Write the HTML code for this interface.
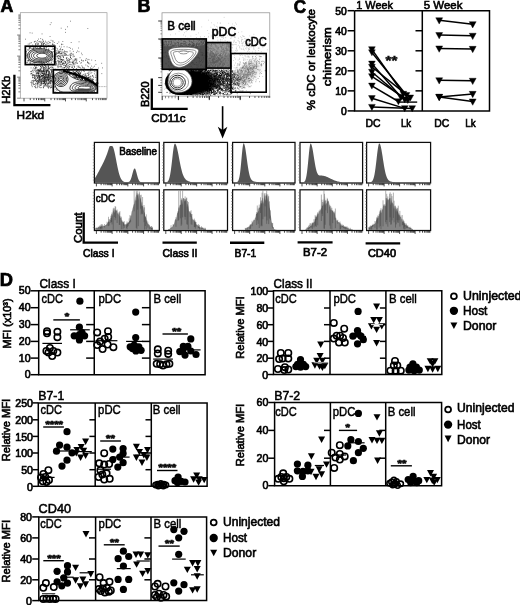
<!DOCTYPE html>
<html><head><meta charset="utf-8"><title>Figure</title>
<style>
html,body{margin:0;padding:0;background:#fff;}
body{width:520px;height:605px;overflow:hidden;}
svg{display:block;font-family:"Liberation Sans",sans-serif;}
</style></head><body>
<svg width="520" height="605" viewBox="0 0 520 605">
<defs><filter id="soft" x="0" y="0" width="520" height="605" filterUnits="userSpaceOnUse"><feGaussianBlur stdDeviation="0.5"/></filter></defs>
<g filter="url(#soft)">
<rect x="-5" y="-5" width="530" height="615" fill="#fff"/>
<defs>
<filter id="b06" x="-20%" y="-20%" width="140%" height="140%"><feGaussianBlur stdDeviation="0.6"/></filter>
<filter id="b15" x="-30%" y="-30%" width="160%" height="160%"><feGaussianBlur stdDeviation="1.5"/></filter>
<filter id="b3" x="-40%" y="-40%" width="180%" height="180%"><feGaussianBlur stdDeviation="3"/></filter>
<filter id="b5" x="-50%" y="-50%" width="200%" height="200%"><feGaussianBlur stdDeviation="4.5"/></filter>
<clipPath id="clA"><rect x="20.9" y="13" width="85.8" height="85"/></clipPath>
<clipPath id="clB"><rect x="162.3" y="13.2" width="107.2" height="82.6"/></clipPath>
<clipPath id="clBlow"><path d="M164.2,69.4H230.6V53.4H269.5V95.6H164.2z"/></clipPath>
<clipPath id="clG2"><rect x="53.4" y="69.8" width="44" height="23"/></clipPath>
</defs>
<text x="0.6" y="12.3" font-size="17.6" textLength="12.8" lengthAdjust="spacingAndGlyphs" font-weight="bold" stroke="#000" stroke-width="0.7">A</text>
<rect x="20.3" y="12.7" width="86.7" height="85.5" stroke="#9a9a9a" stroke-width="0.7" fill="none"/>
<path d="M20.3,98.20h-3.20M20.3,91.86h-1.92M20.3,88.16h-1.92M20.3,85.53h-1.92M20.3,83.49h-1.92M20.3,81.82h-1.92M20.3,80.41h-1.92M20.3,79.19h-1.92M20.3,78.11h-1.92M20.3,77.15h-3.20M20.3,70.81h-1.92M20.3,67.11h-1.92M20.3,64.48h-1.92M20.3,62.44h-1.92M20.3,60.77h-1.92M20.3,59.36h-1.92M20.3,58.14h-1.92M20.3,57.06h-1.92M20.3,56.10h-3.20M20.3,49.76h-1.92M20.3,46.06h-1.92M20.3,43.43h-1.92M20.3,41.39h-1.92M20.3,39.72h-1.92M20.3,38.31h-1.92M20.3,37.09h-1.92M20.3,36.01h-1.92M20.3,35.05h-3.20M20.3,28.71h-1.92M20.3,25.01h-1.92M20.3,22.38h-1.92M20.3,20.34h-1.92M20.3,18.67h-1.92M20.3,17.26h-1.92M20.3,16.04h-1.92M20.3,14.96h-1.92" stroke="#555" stroke-width="0.75" fill="none"/>
<path d="M24.00,98.2v3.20M30.25,98.2v1.92M33.90,98.2v1.92M36.49,98.2v1.92M38.50,98.2v1.92M40.15,98.2v1.92M41.54,98.2v1.92M42.74,98.2v1.92M43.80,98.2v1.92M44.75,98.2v3.20M51.00,98.2v1.92M54.65,98.2v1.92M57.24,98.2v1.92M59.25,98.2v1.92M60.90,98.2v1.92M62.29,98.2v1.92M63.49,98.2v1.92M64.55,98.2v1.92M65.50,98.2v3.20M71.75,98.2v1.92M75.40,98.2v1.92M77.99,98.2v1.92M80.00,98.2v1.92M81.65,98.2v1.92M83.04,98.2v1.92M84.24,98.2v1.92M85.30,98.2v1.92M86.25,98.2v3.20M92.50,98.2v1.92M96.15,98.2v1.92M98.74,98.2v1.92M100.75,98.2v1.92M102.40,98.2v1.92M103.79,98.2v1.92M104.99,98.2v1.92M106.05,98.2v1.92" stroke="#222" stroke-width="0.8" fill="none"/>
<g clip-path="url(#clA)">
<path d="M42.0,79.8h0.7M42.2,73.6h0.7M36.6,74.4h0.7M52.9,79.2h0.7M52.3,77.9h0.7M47.2,77.4h0.7M30.7,82.4h0.7M48.1,79.7h0.7M36.9,72.5h0.7M46.4,75.7h0.7M48.2,71.2h0.7M46.5,79.0h0.7M48.5,85.0h0.7M39.0,70.5h0.7M41.2,75.2h0.7M49.1,77.9h0.7M40.4,68.8h0.7M39.8,85.2h0.7M37.5,77.8h0.7M47.4,64.8h0.7M44.4,85.8h0.7M43.2,69.9h0.7M48.0,75.5h0.7M32.3,82.2h0.7M49.4,83.1h0.7M45.0,66.3h0.7M48.9,71.4h0.7M40.4,66.5h0.7M36.3,72.0h0.7M32.3,77.8h0.7M46.9,70.5h0.7M35.0,83.3h0.7M52.8,77.2h0.7M46.0,79.3h0.7M48.1,80.1h0.7M31.5,85.6h0.7M51.6,80.0h0.7M42.5,83.6h0.7M48.4,74.9h0.7M46.6,80.9h0.7M45.0,84.6h0.7M38.7,72.9h0.7M52.3,76.2h0.7M37.0,83.1h0.7M33.0,75.0h0.7M42.8,73.8h0.7M37.7,80.7h0.7M53.0,82.4h0.7M46.8,77.1h0.7M45.2,80.3h0.7M42.6,78.1h0.7M48.6,76.0h0.7M50.1,80.2h0.7M40.6,73.2h0.7M43.9,82.9h0.7M41.3,78.9h0.7M35.0,77.8h0.7M47.2,77.8h0.7M40.6,80.9h0.7M46.3,72.1h0.7M39.6,75.3h0.7M42.2,75.5h0.7M52.1,67.2h0.7M43.5,83.2h0.7M50.8,87.2h0.7M41.3,80.7h0.7M52.7,65.1h0.7M49.5,64.8h0.7M45.4,85.0h0.7M42.8,77.4h0.7M50.4,77.1h0.7M43.3,87.5h0.7M52.4,73.8h0.7M51.3,74.0h0.7M45.1,81.3h0.7M45.8,80.8h0.7M48.9,68.8h0.7M35.8,65.0h0.7M44.0,67.4h0.7M50.1,87.9h0.7M36.9,87.7h0.7M51.9,74.7h0.7M43.2,71.5h0.7M47.2,79.1h0.7M53.1,87.2h0.7M38.0,83.6h0.7M44.9,76.9h0.7M46.5,71.4h0.7M43.9,82.2h0.7M44.6,85.9h0.7M43.5,83.8h0.7M38.6,82.6h0.7M34.1,75.9h0.7M42.5,75.8h0.7M39.3,77.8h0.7M48.2,83.5h0.7M42.4,66.6h0.7M39.6,84.1h0.7M30.8,71.5h0.7M52.1,81.9h0.7M44.1,82.0h0.7M45.3,67.2h0.7M31.5,71.2h0.7M51.4,71.8h0.7M36.8,70.2h0.7M31.7,75.1h0.7M34.6,78.7h0.7M49.8,73.9h0.7M46.3,72.6h0.7M50.2,81.6h0.7M49.3,78.4h0.7M51.2,85.8h0.7M41.6,72.5h0.7M36.6,81.2h0.7M48.5,82.8h0.7M36.8,75.3h0.7M46.3,82.2h0.7M43.7,74.5h0.7M35.9,73.3h0.7M51.1,76.8h0.7M37.2,69.7h0.7M49.0,79.6h0.7M43.5,79.9h0.7M46.6,70.7h0.7M32.8,71.0h0.7M46.3,77.4h0.7M40.8,68.7h0.7M34.4,65.9h0.7M37.0,78.0h0.7M43.5,79.9h0.7M38.2,75.1h0.7M47.7,78.8h0.7M49.1,77.6h0.7M41.4,81.9h0.7M44.4,69.8h0.7M39.0,76.0h0.7M43.1,77.2h0.7M44.0,77.3h0.7M42.9,66.6h0.7M47.4,83.9h0.7M47.5,74.6h0.7M47.6,68.8h0.7M36.6,81.5h0.7M35.7,87.8h0.7M40.9,65.7h0.7M37.9,79.9h0.7M48.0,77.3h0.7M43.8,80.5h0.7M52.2,67.9h0.7M42.8,81.5h0.7M41.6,84.0h0.7M48.8,82.8h0.7M41.3,82.6h0.7M51.8,76.0h0.7M34.7,77.4h0.7M46.9,84.5h0.7M50.3,76.2h0.7M50.8,80.0h0.7M45.6,76.4h0.7M42.1,81.1h0.7M35.6,71.3h0.7M44.0,65.0h0.7M38.5,80.3h0.7M48.5,75.6h0.7M42.1,65.4h0.7M52.7,69.4h0.7M50.2,83.0h0.7M39.0,65.5h0.7M44.3,77.9h0.7M49.1,81.3h0.7M33.5,72.2h0.7M35.5,67.9h0.7M43.3,76.0h0.7M34.1,75.8h0.7M42.4,73.7h0.7M43.5,70.3h0.7M49.6,78.7h0.7M43.3,71.0h0.7M36.1,76.3h0.7M32.0,77.5h0.7M45.2,65.7h0.7M42.0,73.6h0.7M47.7,80.6h0.7M43.7,69.6h0.7M42.8,75.5h0.7M49.9,78.2h0.7M38.2,65.8h0.7M41.0,70.4h0.7M35.1,75.1h0.7M40.1,76.8h0.7M48.2,72.9h0.7M52.8,76.9h0.7M38.0,77.9h0.7M46.6,85.6h0.7M50.1,83.1h0.7M48.1,74.8h0.7M48.1,67.9h0.7M53.5,68.4h0.7M42.2,76.1h0.7M53.3,76.2h0.7M37.5,77.9h0.7M48.7,81.3h0.7M46.1,72.8h0.7M49.4,72.4h0.7M38.4,81.4h0.7M38.6,82.1h0.7M43.6,78.3h0.7M44.0,81.9h0.7M38.8,75.7h0.7M53.4,72.6h0.7M43.5,73.7h0.7M43.0,67.8h0.7M44.2,65.2h0.7M43.4,78.3h0.7M47.7,74.3h0.7M36.8,77.2h0.7M40.1,87.7h0.7M50.1,75.1h0.7M40.2,70.7h0.7M36.5,73.4h0.7M46.4,79.9h0.7M38.4,76.1h0.7M39.8,77.3h0.7M45.2,79.1h0.7M42.1,78.7h0.7M44.4,81.8h0.7M44.0,68.3h0.7M35.6,80.7h0.7M38.8,80.8h0.7M50.0,78.3h0.7M48.1,75.2h0.7M32.7,75.8h0.7M47.6,72.0h0.7M43.2,81.6h0.7M37.0,80.8h0.7M45.2,74.9h0.7M51.2,70.8h0.7M43.9,75.9h0.7M50.0,75.0h0.7M47.6,78.7h0.7M32.0,74.4h0.7M35.8,65.8h0.7M34.2,78.5h0.7M39.8,70.9h0.7M48.2,80.1h0.7M35.9,67.2h0.7M46.3,77.9h0.7M33.5,74.5h0.7M39.7,79.5h0.7M43.1,75.4h0.7M41.2,83.9h0.7M50.8,70.3h0.7M44.6,81.6h0.7M43.4,77.5h0.7M32.0,76.1h0.7M38.6,78.8h0.7M44.3,78.0h0.7M39.6,82.7h0.7M41.8,71.5h0.7M38.6,75.8h0.7M50.8,74.8h0.7M46.5,71.1h0.7M38.8,76.1h0.7M45.4,83.7h0.7M48.8,82.0h0.7M45.6,77.9h0.7M51.4,78.8h0.7M50.5,73.2h0.7M44.0,74.1h0.7M40.0,69.7h0.7M39.0,80.8h0.7M44.3,76.5h0.7M42.6,82.9h0.7M48.0,74.9h0.7M49.3,74.9h0.7M34.8,86.9h0.7M47.7,68.8h0.7M52.6,78.6h0.7M46.7,82.7h0.7M45.6,74.9h0.7M31.6,83.3h0.7M44.2,73.9h0.7M46.8,76.6h0.7M49.4,73.2h0.7M40.6,81.1h0.7M43.0,87.9h0.7M41.4,81.5h0.7M45.7,75.4h0.7M44.9,84.5h0.7M39.4,79.7h0.7M35.6,79.7h0.7M48.6,73.9h0.7M38.4,71.8h0.7M40.8,82.4h0.7M44.7,73.0h0.7M48.3,87.9h0.7M44.0,78.7h0.7M43.7,79.1h0.7M51.7,81.0h0.7M41.8,68.1h0.7M44.8,83.8h0.7M35.3,68.3h0.7M41.9,72.7h0.7M47.6,70.7h0.7M36.9,73.0h0.7M43.6,71.0h0.7M44.1,81.6h0.7M37.7,72.9h0.7M38.2,75.7h0.7M48.2,65.8h0.7M47.7,75.8h0.7M50.5,77.6h0.7M47.8,79.3h0.7M51.0,72.9h0.7M49.8,69.9h0.7M47.6,74.8h0.7M34.8,70.1h0.7M45.5,83.0h0.7M47.4,79.9h0.7M43.7,86.1h0.7M40.9,71.9h0.7M51.1,76.5h0.7M41.8,71.7h0.7M41.9,80.7h0.7M46.8,66.9h0.7M47.4,77.3h0.7M36.0,81.8h0.7M41.8,73.5h0.7M50.4,85.9h0.7M38.5,79.3h0.7M40.0,85.0h0.7M38.8,82.1h0.7M40.5,79.8h0.7M43.3,71.0h0.7M30.8,82.4h0.7M39.4,77.1h0.7M53.5,81.6h0.7M37.5,82.4h0.7M48.0,80.9h0.7M51.2,81.5h0.7M45.4,79.7h0.7M41.4,76.3h0.7M51.1,72.7h0.7M53.2,70.1h0.7M46.1,72.0h0.7M45.3,70.8h0.7M31.2,84.2h0.7M46.4,71.8h0.7M45.6,83.4h0.7M36.2,75.2h0.7M48.3,79.9h0.7M44.1,73.9h0.7M46.1,72.8h0.7M35.8,70.5h0.7M39.2,71.4h0.7M34.7,80.8h0.7M33.5,80.9h0.7M35.9,78.6h0.7M38.2,76.4h0.7M39.1,77.2h0.7M40.2,76.6h0.7M49.9,81.7h0.7M51.2,80.4h0.7M41.7,75.9h0.7M41.8,73.7h0.7M41.3,75.8h0.7M36.2,75.8h0.7M48.1,74.8h0.7M48.2,73.7h0.7M50.8,78.8h0.7M44.2,71.6h0.7M49.1,72.4h0.7M45.8,72.2h0.7M45.6,81.7h0.7M37.0,75.8h0.7M48.9,77.1h0.7M50.9,87.5h0.7M51.4,82.1h0.7M39.1,70.6h0.7M51.1,69.2h0.7M38.5,70.5h0.7M45.9,70.4h0.7M35.3,85.8h0.7M39.3,77.7h0.7M43.9,73.6h0.7M46.6,70.8h0.7M33.9,70.3h0.7M43.8,76.4h0.7M48.4,76.9h0.7M37.7,70.7h0.7M47.9,80.0h0.7M43.0,74.7h0.7M51.5,76.1h0.7M49.9,80.4h0.7M45.7,85.8h0.7M39.4,73.3h0.7M37.5,70.0h0.7M44.2,80.3h0.7M53.4,82.1h0.7M38.9,79.4h0.7M37.1,73.3h0.7M38.7,69.6h0.7M53.5,78.5h0.7M39.1,79.1h0.7M48.1,74.5h0.7M47.4,85.8h0.7M32.6,75.5h0.7M45.9,71.7h0.7M41.5,81.9h0.7M43.7,67.6h0.7M43.5,67.8h0.7M44.6,79.5h0.7M44.2,78.1h0.7M37.2,86.7h0.7M42.5,70.3h0.7M35.9,73.3h0.7M46.3,67.1h0.7M42.9,86.7h0.7M49.5,74.9h0.7M45.0,75.1h0.7M43.6,81.5h0.7M43.8,69.3h0.7M49.2,71.4h0.7M35.6,67.6h0.7M32.1,80.6h0.7M37.8,73.2h0.7M46.6,86.2h0.7M45.1,77.4h0.7M41.5,79.4h0.7M46.3,76.4h0.7M40.0,66.1h0.7M34.4,86.5h0.7M48.2,79.2h0.7M45.6,77.3h0.7M34.1,65.5h0.7M39.5,71.5h0.7M46.9,78.0h0.7M44.3,70.9h0.7M40.5,83.1h0.7M50.1,76.8h0.7M41.4,87.6h0.7M39.2,80.9h0.7M53.2,74.0h0.7M50.6,67.6h0.7M52.1,77.5h0.7M31.3,81.0h0.7M36.9,85.6h0.7M38.6,74.8h0.7M46.3,73.5h0.7M46.1,71.9h0.7M49.4,76.0h0.7M53.3,76.2h0.7M47.7,84.0h0.7M35.3,87.6h0.7M42.8,81.1h0.7M41.1,67.6h0.7M52.8,82.8h0.7M38.8,70.9h0.7M37.5,80.4h0.7M46.6,74.0h0.7M45.4,74.9h0.7M45.7,81.6h0.7M51.7,70.9h0.7M31.9,86.7h0.7M44.9,84.3h0.7M30.9,73.5h0.7M44.2,65.2h0.7M39.9,81.4h0.7M52.6,88.0h0.7M37.1,65.5h0.7M48.2,83.1h0.7M45.5,66.2h0.7M50.3,81.9h0.7M48.4,72.3h0.7M46.4,81.9h0.7M46.6,79.6h0.7M44.1,82.7h0.7M39.3,75.4h0.7M41.6,80.3h0.7M50.3,80.4h0.7M43.1,68.0h0.7M47.8,86.1h0.7M48.3,79.2h0.7M42.4,77.3h0.7M32.6,83.9h0.7M40.7,67.7h0.7M38.0,69.8h0.7M50.8,83.9h0.7M33.1,82.9h0.7M51.1,71.7h0.7M32.1,70.4h0.7M38.9,78.6h0.7M51.2,66.9h0.7M38.5,69.6h0.7M39.7,85.7h0.7M50.8,80.5h0.7M39.8,71.9h0.7M36.2,79.8h0.7M38.1,70.7h0.7M48.8,86.0h0.7M45.4,68.7h0.7M51.4,87.1h0.7M53.0,72.7h0.7M52.4,81.8h0.7M31.7,73.0h0.7M32.6,75.2h0.7M48.6,68.0h0.7M47.0,87.0h0.7M33.4,84.0h0.7M42.3,78.0h0.7M42.8,83.5h0.7M52.3,76.7h0.7M33.1,81.6h0.7M40.2,80.7h0.7M53.1,72.6h0.7M39.7,79.3h0.7M48.1,66.1h0.7M33.9,77.9h0.7M37.1,84.5h0.7M37.5,77.2h0.7M40.1,74.8h0.7M47.8,69.9h0.7M47.7,71.2h0.7M39.6,80.0h0.7M39.4,78.2h0.7M42.8,81.5h0.7M41.1,84.1h0.7M33.7,80.6h0.7M39.9,70.0h0.7M43.1,75.0h0.7M40.6,71.3h0.7M47.6,78.5h0.7M41.4,79.5h0.7M33.2,67.8h0.7M48.0,86.9h0.7M31.1,73.6h0.7M38.1,74.0h0.7M44.4,80.1h0.7M41.2,76.1h0.7M39.6,76.9h0.7M34.6,76.5h0.7M33.9,77.9h0.7M38.1,81.5h0.7M47.1,75.3h0.7M36.6,67.9h0.7M34.8,75.4h0.7M45.7,74.8h0.7M41.8,65.7h0.7M37.9,82.3h0.7M30.4,73.9h0.7M46.1,83.8h0.7M35.0,80.5h0.7M47.1,70.5h0.7M47.8,69.3h0.7M37.6,75.9h0.7M36.0,65.0h0.7M40.6,81.7h0.7M40.8,85.5h0.7M34.7,66.2h0.7M51.6,69.8h0.7M50.4,77.9h0.7M49.2,76.2h0.7M36.3,64.9h0.7M53.3,70.5h0.7M35.7,69.0h0.7M40.4,66.5h0.7M41.7,71.3h0.7M39.6,68.8h0.7M44.3,72.5h0.7M44.9,77.9h0.7M39.7,70.0h0.7M38.3,73.8h0.7M41.3,83.4h0.7M40.5,83.2h0.7M47.9,76.9h0.7M47.9,66.9h0.7M51.6,72.0h0.7M51.9,76.7h0.7M53.0,75.0h0.7M40.8,77.8h0.7M40.6,71.9h0.7M44.8,77.1h0.7M45.0,77.0h0.7M42.9,70.5h0.7M43.5,71.2h0.7M43.6,72.9h0.7M35.3,67.5h0.7M43.8,74.9h0.7M45.3,73.2h0.7M39.2,87.2h0.7M41.2,76.2h0.7M37.0,83.3h0.7M32.9,80.2h0.7M52.8,86.6h0.7M36.5,84.2h0.7M38.3,70.3h0.7M33.4,84.7h0.7M37.9,73.5h0.7M38.6,84.9h0.7M38.5,72.2h0.7M35.3,84.0h0.7M46.3,70.3h0.7M50.3,76.1h0.7M34.6,80.7h0.7M38.2,73.4h0.7M52.6,65.1h0.7M42.1,78.6h0.7M30.5,71.6h0.7M48.1,87.9h0.7M49.3,73.7h0.7M34.6,69.0h0.7M38.7,77.1h0.7M46.3,68.0h0.7M44.8,70.6h0.7M51.3,70.0h0.7M33.4,77.5h0.7M46.0,80.5h0.7M49.2,86.6h0.7M37.3,83.3h0.7M36.1,81.2h0.7M45.4,77.8h0.7M51.7,75.9h0.7M52.9,82.6h0.7M45.1,71.7h0.7M38.0,72.0h0.7M42.4,75.8h0.7M50.2,69.5h0.7M38.3,73.6h0.7M45.5,68.2h0.7M43.9,78.1h0.7M45.5,80.5h0.7M46.2,77.2h0.7M46.5,74.5h0.7M37.4,71.6h0.7M43.5,85.7h0.7M40.1,69.4h0.7M39.5,77.4h0.7M44.4,78.1h0.7M43.7,83.0h0.7M45.3,74.0h0.7M48.2,77.4h0.7M41.0,70.3h0.7M32.7,69.1h0.7M49.6,80.1h0.7M43.8,79.9h0.7M39.2,76.5h0.7M44.3,80.2h0.7M43.4,74.9h0.7M42.9,71.2h0.7M49.6,82.3h0.7M50.2,67.2h0.7M37.0,78.0h0.7M48.0,68.3h0.7M40.9,73.0h0.7M44.5,78.5h0.7M41.7,66.7h0.7M43.2,83.7h0.7M47.6,80.9h0.7M47.9,70.3h0.7M48.6,83.6h0.7M41.3,71.5h0.7M37.5,76.9h0.7M43.7,81.0h0.7M49.4,79.6h0.7M46.2,74.4h0.7M43.0,69.8h0.7M45.4,75.8h0.7M46.6,69.6h0.7M44.3,76.4h0.7M48.8,68.0h0.7M47.4,83.4h0.7M48.8,73.2h0.7M40.1,74.2h0.7M49.8,87.6h0.7M42.7,71.2h0.7M47.0,77.5h0.7M36.7,70.5h0.7M43.2,81.0h0.7M34.5,68.4h0.7M48.0,66.8h0.7M44.9,78.6h0.7M43.1,68.4h0.7M43.5,73.5h0.7M46.7,69.7h0.7M42.6,76.1h0.7M51.7,71.4h0.7M48.4,71.7h0.7M40.8,79.3h0.7M36.6,83.3h0.7M34.9,79.0h0.7M53.2,84.2h0.7M38.6,86.7h0.7M34.2,84.5h0.7M53.0,73.5h0.7M34.2,75.2h0.7M42.4,75.6h0.7M49.6,74.9h0.7M45.5,79.2h0.7M47.5,76.6h0.7M42.3,71.3h0.7M35.4,71.8h0.7M42.9,72.7h0.7M52.7,67.3h0.7M47.9,77.1h0.7M34.6,76.4h0.7M43.2,79.8h0.7M40.4,78.3h0.7M30.7,67.9h0.7M50.3,83.8h0.7M43.9,71.5h0.7M37.6,81.0h0.7M49.2,68.3h0.7M45.2,69.3h0.7M44.4,82.8h0.7M53.1,79.0h0.7M44.0,83.9h0.7M38.9,70.7h0.7M41.0,75.5h0.7M35.3,79.6h0.7M48.3,76.5h0.7M66.3,54.9h0.7M64.7,53.4h0.7M62.5,44.4h0.7M60.3,55.9h0.7M57.5,53.0h0.7M58.1,52.3h0.7M57.3,53.6h0.7M55.3,56.1h0.7M62.6,55.4h0.7M57.5,65.8h0.7M63.4,63.0h0.7M64.1,54.9h0.7M59.0,64.2h0.7M57.3,56.2h0.7M61.0,59.4h0.7M58.4,63.4h0.7M58.8,61.7h0.7M63.8,61.3h0.7M62.4,49.5h0.7M61.4,66.8h0.7M56.1,52.2h0.7M58.4,61.5h0.7M60.4,64.7h0.7M55.6,62.8h0.7M63.2,57.5h0.7M61.4,53.3h0.7M55.1,54.4h0.7M57.6,67.7h0.7M60.3,59.0h0.7M62.5,51.9h0.7M63.2,59.4h0.7M61.7,59.9h0.7M65.8,54.3h0.7M61.5,61.9h0.7M55.9,64.8h0.7M61.6,49.9h0.7M59.0,46.3h0.7M59.8,49.6h0.7M60.9,47.0h0.7M61.3,55.3h0.7M59.8,56.6h0.7M60.0,48.4h0.7M55.8,54.0h0.7M61.2,44.1h0.7M56.4,53.0h0.7M55.3,59.1h0.7M58.9,51.7h0.7M55.6,62.2h0.7M56.9,60.8h0.7M61.3,44.7h0.7M55.2,57.0h0.7M60.9,62.1h0.7M62.7,63.7h0.7M58.0,55.6h0.7M62.6,54.2h0.7M63.7,46.7h0.7M62.1,55.9h0.7M60.7,57.1h0.7M55.2,54.0h0.7M65.5,51.6h0.7M57.9,51.1h0.7M56.1,63.8h0.7M57.3,49.9h0.7M62.6,60.7h0.7M55.3,61.9h0.7M64.0,55.3h0.7M63.2,56.9h0.7M61.2,62.0h0.7M66.9,55.4h0.7M57.6,56.8h0.7M64.3,50.9h0.7M62.7,52.6h0.7M61.3,61.5h0.7M60.5,60.8h0.7M55.8,50.6h0.7M58.7,55.6h0.7M57.4,66.3h0.7M62.9,57.1h0.7M62.4,49.8h0.7M58.2,53.3h0.7M58.9,66.3h0.7M55.8,54.0h0.7M61.2,59.6h0.7M59.6,53.9h0.7M61.5,59.3h0.7M60.1,57.4h0.7M60.0,51.3h0.7M58.7,51.1h0.7M61.0,61.5h0.7M66.5,65.2h0.7M56.3,54.0h0.7M55.7,59.0h0.7M67.4,61.6h0.7M59.5,58.9h0.7M66.6,51.6h0.7M56.1,69.8h0.7M60.9,51.9h0.7M59.7,63.5h0.7M58.9,52.5h0.7M56.5,69.4h0.7M59.6,61.0h0.7M57.9,60.2h0.7M62.8,56.0h0.7M57.7,55.8h0.7M55.6,55.6h0.7M58.3,58.4h0.7M64.8,65.5h0.7M57.7,60.9h0.7M60.7,62.0h0.7M59.6,58.7h0.7M57.6,51.9h0.7M63.0,65.4h0.7M62.1,59.8h0.7M60.6,54.1h0.7M60.3,53.4h0.7M55.6,65.3h0.7M56.6,56.9h0.7M57.5,58.0h0.7M58.7,52.1h0.7M63.8,51.9h0.7M66.3,60.3h0.7M68.5,55.3h0.7M79.3,61.6h0.7M59.0,52.1h0.7M66.8,67.8h0.7M58.0,58.3h0.7M65.3,54.0h0.7M69.3,60.1h0.7M80.0,75.2h0.7M62.7,63.1h0.7M84.1,71.6h0.7M62.3,60.3h0.7M71.7,62.0h0.7M68.9,62.4h0.7M84.7,73.9h0.7M68.9,64.4h0.7M94.3,66.2h0.7M95.6,64.4h0.7M79.1,67.5h0.7M91.5,72.3h0.7M70.2,53.9h0.7M56.6,56.3h0.7M73.0,55.9h0.7M82.6,60.9h0.7M69.8,55.9h0.7M90.5,79.2h0.7M76.2,52.4h0.7M77.2,63.2h0.7M76.8,66.1h0.7M67.6,63.3h0.7M83.7,67.6h0.7M70.3,56.0h0.7M85.4,60.3h0.7M74.0,56.3h0.7M55.3,54.6h0.7M73.6,61.0h0.7M88.7,59.7h0.7M72.4,61.9h0.7M87.1,61.3h0.7M82.2,66.9h0.7M87.7,75.6h0.7M75.1,75.1h0.7M75.1,58.9h0.7M72.3,54.2h0.7M78.6,51.7h0.7M71.8,62.5h0.7M87.1,66.0h0.7M92.8,67.2h0.7M77.3,51.0h0.7M66.7,52.1h0.7M90.6,73.3h0.7M59.4,56.3h0.7M80.4,63.1h0.7M75.1,59.7h0.7M72.1,49.1h0.7M69.6,66.5h0.7M91.9,69.1h0.7M65.6,55.1h0.7M83.9,68.5h0.7M66.1,58.9h0.7M70.2,62.1h0.7M72.9,51.4h0.7M72.7,65.0h0.7M61.0,53.2h0.7M85.5,65.0h0.7M61.0,66.3h0.7M81.3,71.3h0.7M58.5,62.5h0.7M55.5,47.7h0.7M79.4,72.1h0.7M64.6,51.8h0.7M81.3,53.2h0.7M80.2,67.8h0.7M67.3,60.6h0.7M82.5,67.5h0.7M76.4,71.5h0.7M67.9,58.6h0.7M65.1,62.4h0.7M67.9,60.6h0.7M75.5,62.2h0.7M94.7,71.8h0.7M88.8,74.1h0.7M90.1,68.8h0.7M83.1,70.6h0.7M66.0,58.3h0.7M72.6,60.0h0.7M91.3,66.1h0.7M58.5,42.0h0.7M70.3,55.1h0.7M72.7,63.7h0.7M94.1,73.8h0.7M81.4,60.6h0.7M77.4,71.1h0.7M94.9,60.6h0.7M80.5,74.1h0.7M87.6,59.4h0.7M68.9,61.7h0.7M81.0,59.9h0.7M61.0,59.7h0.7M73.5,62.5h0.7M59.7,49.6h0.7M85.9,58.6h0.7M102.1,67.9h0.7M59.4,53.3h0.7M77.8,67.5h0.7M70.1,57.6h0.7M72.7,56.8h0.7M76.6,63.4h0.7M65.9,58.1h0.7M74.0,60.6h0.7M91.4,60.1h0.7M79.7,57.7h0.7M66.5,65.9h0.7M61.5,53.5h0.7M64.6,61.6h0.7M66.7,46.9h0.7M81.0,62.7h0.7M67.5,64.0h0.7M64.5,53.5h0.7M74.7,63.9h0.7M65.3,62.5h0.7M101.5,73.6h0.7M101.4,63.3h0.7M91.5,68.5h0.7M76.5,60.3h0.7M69.7,51.0h0.7M66.1,64.5h0.7M88.3,66.7h0.7M69.5,54.3h0.7M55.3,61.6h0.7M81.5,65.8h0.7M70.8,53.1h0.7M87.6,73.1h0.7M60.3,59.4h0.7M59.3,56.8h0.7M63.7,52.9h0.7M78.7,66.2h0.7M88.1,63.6h0.7M89.2,77.4h0.7M72.7,63.1h0.7M65.2,55.3h0.7M58.2,52.9h0.7M73.0,68.5h0.7M83.1,70.9h0.7M70.3,57.6h0.7M69.4,59.8h0.7M56.8,48.5h0.7M75.6,58.8h0.7M93.9,71.3h0.7M89.6,76.6h0.7M67.1,59.7h0.7M90.2,67.8h0.7M76.5,59.0h0.7M75.6,59.7h0.7M72.4,66.2h0.7M90.1,70.6h0.7M74.2,66.3h0.7M73.3,54.2h0.7M89.5,63.8h0.7M87.4,62.5h0.7M98.2,68.0h0.7M80.2,73.4h0.7M58.9,61.7h0.7M68.8,47.5h0.7M80.7,68.9h0.7M78.0,48.0h0.7M74.1,59.2h0.7M70.3,57.2h0.7M91.3,79.8h0.7M71.5,55.4h0.7M76.0,68.5h0.7M85.5,60.2h0.7M75.6,62.7h0.7M87.9,75.8h0.7M77.1,70.0h0.7M65.4,65.6h0.7M68.0,60.1h0.7M87.1,62.7h0.7M70.2,48.3h0.7M76.1,61.8h0.7M68.9,61.2h0.7M75.7,60.3h0.7M78.9,74.2h0.7M71.1,53.8h0.7M66.6,57.5h0.7M83.1,60.8h0.7M88.4,62.7h0.7M82.7,68.3h0.7M74.0,74.0h0.7M71.3,58.5h0.7M68.7,68.9h0.7M58.3,66.9h0.7M61.7,68.1h0.7M73.9,66.2h0.7M65.4,66.6h0.7M69.2,66.6h0.7M63.7,63.5h0.7M65.0,70.1h0.7M65.4,70.5h0.7M67.6,66.0h0.7M56.4,63.8h0.7M73.2,61.7h0.7M60.3,62.3h0.7M62.8,68.2h0.7M69.4,59.2h0.7M74.4,64.0h0.7M62.6,71.6h0.7M65.5,61.8h0.7M62.3,63.6h0.7M60.2,64.9h0.7M71.1,67.2h0.7M60.3,66.4h0.7M66.2,68.6h0.7M64.1,67.5h0.7M78.1,66.3h0.7M59.8,67.1h0.7M61.4,64.8h0.7M67.1,67.1h0.7M64.4,68.9h0.7M64.9,61.6h0.7M71.1,64.8h0.7M73.0,63.8h0.7M69.3,67.1h0.7M59.6,70.7h0.7M55.1,69.1h0.7M72.3,67.7h0.7M69.9,64.3h0.7M65.9,66.8h0.7M68.4,68.4h0.7M64.8,63.6h0.7M62.8,67.4h0.7M56.4,61.8h0.7M63.6,64.1h0.7M64.0,65.2h0.7M70.5,59.3h0.7M64.2,67.6h0.7M68.8,70.0h0.7M72.1,62.5h0.7M69.7,64.9h0.7M61.4,71.2h0.7M62.4,63.1h0.7M63.6,63.1h0.7M71.8,67.3h0.7M74.1,67.4h0.7M62.5,69.5h0.7M62.2,64.4h0.7M65.0,66.1h0.7M72.9,64.0h0.7M68.0,65.9h0.7M58.7,62.3h0.7M64.7,67.4h0.7M67.9,67.6h0.7M66.3,64.5h0.7M68.5,62.6h0.7M58.2,64.9h0.7M57.7,64.3h0.7M61.7,64.1h0.7M65.7,63.3h0.7M63.6,60.2h0.7M66.8,63.0h0.7M35.0,44.0h0.7M42.8,43.7h0.7M29.0,44.0h0.7M43.3,41.4h0.7M48.5,43.4h0.7M42.2,42.5h0.7M46.8,43.7h0.7M51.9,44.5h0.7M36.6,43.0h0.7M50.0,42.7h0.7M45.3,44.6h0.7M40.4,38.6h0.7M43.1,44.0h0.7M43.2,41.9h0.7M52.5,43.2h0.7M36.6,42.0h0.7M45.1,41.2h0.7M53.4,45.7h0.7M53.9,44.8h0.7M52.8,44.5h0.7M53.9,42.5h0.7M43.1,45.2h0.7M41.3,45.8h0.7M42.7,45.0h0.7M42.7,40.3h0.7M46.8,42.2h0.7M42.2,39.4h0.7M40.4,45.4h0.7M33.9,42.1h0.7M45.7,42.4h0.7M41.4,44.0h0.7M46.5,44.3h0.7M40.4,42.6h0.7M38.1,39.1h0.7M44.3,43.4h0.7M41.1,42.9h0.7M35.5,43.5h0.7M38.2,43.9h0.7M49.6,45.2h0.7M48.3,45.3h0.7M37.6,43.5h0.7M35.6,45.5h0.7M49.3,42.5h0.7M52.8,41.1h0.7M41.2,44.9h0.7M41.7,44.3h0.7M52.3,44.2h0.7M32.4,45.0h0.7M41.1,43.7h0.7M37.0,40.5h0.7M31.1,42.7h0.7M52.1,41.0h0.7M35.6,44.6h0.7M35.3,44.9h0.7M37.8,44.2h0.7M42.9,43.5h0.7M37.2,44.6h0.7M43.4,44.5h0.7M50.7,40.3h0.7M44.4,43.1h0.7M39.3,41.7h0.7M35.1,41.3h0.7M56.9,43.5h0.7M48.5,41.4h0.7M41.6,41.4h0.7M39.9,41.4h0.7M29.8,43.0h0.7M38.5,41.8h0.7M34.2,41.5h0.7M27.8,44.1h0.7M31.8,33.1h0.7M62.5,41.5h0.7M87.5,28.5h0.7M29.7,32.8h0.7M67.2,26.8h0.7M81.8,54.7h0.7M25.3,39.2h0.7M65.0,32.4h0.7M25.3,50.4h0.7M65.3,29.4h0.7M70.8,42.5h0.7M78.7,41.8h0.7M70.0,21.2h0.7M49.7,36.5h0.7M50.8,22.7h0.7M60.8,28.2h0.7M49.8,24.6h0.7M41.7,33.9h0.7" stroke="#1a1a1a" stroke-width="0.7" fill="none" opacity="1"/>
<path d="M33.7,59.8h0.75M38.6,56.3h0.75M44.0,63.6h0.75M45.9,56.9h0.75M38.4,50.4h0.75M36.7,59.8h0.75M42.2,53.0h0.75M43.1,62.0h0.75M43.6,46.8h0.75M37.9,56.9h0.75M31.1,57.7h0.75M38.0,50.2h0.75M27.9,60.6h0.75M43.5,49.9h0.75M30.1,61.1h0.75M45.8,53.6h0.75M29.7,62.4h0.75M38.2,57.7h0.75M40.4,49.2h0.75M28.4,54.3h0.75M53.7,49.1h0.75M53.2,56.9h0.75M29.2,57.2h0.75M45.5,49.8h0.75M29.2,58.3h0.75M37.7,56.6h0.75M34.6,48.0h0.75M45.2,58.6h0.75M43.5,57.2h0.75M40.3,47.1h0.75M54.2,58.8h0.75M37.2,48.3h0.75M54.4,58.9h0.75M28.5,59.7h0.75M43.9,52.9h0.75M33.9,62.3h0.75M38.8,60.5h0.75M37.0,60.1h0.75M48.0,49.1h0.75M29.6,55.0h0.75M48.1,57.2h0.75M52.1,46.8h0.75M44.8,51.6h0.75M41.0,57.5h0.75M30.6,54.1h0.75M28.7,57.2h0.75M31.7,52.4h0.75M42.1,51.4h0.75M51.1,51.5h0.75M48.2,57.3h0.75M30.0,54.1h0.75M31.9,53.2h0.75M44.3,47.3h0.75M50.0,58.0h0.75M38.0,53.9h0.75M42.5,53.6h0.75M34.8,53.2h0.75M51.3,51.6h0.75M43.7,48.3h0.75M33.1,46.8h0.75M38.1,59.8h0.75M43.0,52.4h0.75M45.9,53.3h0.75M43.6,57.2h0.75M27.4,60.4h0.75M37.7,52.0h0.75M54.5,59.0h0.75M38.0,60.1h0.75M32.4,52.7h0.75M34.6,54.1h0.75M47.5,52.5h0.75M43.1,52.4h0.75M38.0,56.6h0.75M29.6,61.9h0.75M42.1,63.6h0.75M49.3,59.5h0.75M38.6,48.7h0.75M37.9,52.6h0.75M42.4,52.6h0.75M51.4,52.5h0.75M37.7,61.3h0.75M40.0,47.9h0.75M44.0,54.3h0.75M29.8,50.8h0.75M44.7,57.4h0.75M44.1,51.6h0.75M42.3,54.7h0.75M38.2,53.8h0.75M34.5,61.7h0.75M38.9,57.9h0.75M35.8,54.4h0.75M30.8,51.4h0.75M51.7,57.1h0.75M51.8,60.9h0.75M48.9,61.8h0.75M34.2,60.5h0.75M36.9,52.2h0.75M48.0,50.2h0.75M42.6,57.8h0.75M43.6,53.3h0.75M27.6,55.7h0.75M48.3,60.4h0.75M46.4,62.4h0.75M30.4,55.2h0.75M43.3,61.8h0.75M41.5,58.7h0.75M26.2,51.2h0.75M44.5,59.7h0.75M49.8,56.8h0.75M31.7,54.9h0.75M43.2,53.8h0.75M33.6,53.3h0.75M25.5,49.1h0.75M39.1,53.2h0.75M40.4,64.3h0.75M42.9,55.3h0.75M28.7,48.8h0.75M43.6,50.0h0.75M44.1,48.8h0.75M41.3,55.0h0.75M49.6,53.0h0.75M36.4,57.0h0.75M37.5,52.1h0.75M36.9,58.5h0.75M42.3,59.8h0.75M28.4,56.5h0.75M44.4,64.1h0.75M53.3,61.2h0.75M36.5,58.6h0.75M39.8,52.0h0.75M53.7,49.4h0.75M31.0,51.8h0.75M45.8,51.5h0.75M51.9,53.6h0.75M44.7,54.4h0.75M40.7,59.8h0.75M32.9,56.7h0.75M26.4,62.6h0.75M36.5,57.0h0.75M32.8,62.9h0.75M51.6,55.7h0.75M44.8,55.8h0.75M44.0,49.2h0.75M31.3,51.1h0.75M36.5,59.4h0.75M33.9,51.8h0.75M46.8,58.2h0.75M36.7,48.8h0.75M51.0,62.3h0.75M43.2,60.2h0.75M49.2,53.9h0.75M30.7,60.2h0.75M51.4,53.4h0.75M46.5,55.2h0.75M42.9,52.1h0.75M39.7,55.5h0.75M40.0,61.6h0.75M50.2,60.4h0.75M47.8,49.6h0.75M51.6,49.5h0.75M52.4,59.7h0.75M30.5,62.8h0.75M33.4,50.8h0.75M49.8,51.3h0.75M34.8,47.9h0.75M52.5,48.9h0.75M40.0,53.8h0.75M37.5,58.6h0.75M48.2,62.3h0.75M37.3,54.6h0.75M27.1,62.3h0.75M34.9,51.4h0.75M40.6,50.1h0.75M30.0,53.6h0.75M54.3,54.2h0.75M39.0,59.3h0.75M42.5,49.7h0.75M47.7,61.5h0.75M44.3,52.8h0.75M39.6,51.5h0.75M38.7,57.5h0.75M37.1,61.6h0.75M43.3,60.7h0.75M46.2,54.0h0.75M35.4,61.8h0.75M46.0,58.7h0.75M32.2,59.5h0.75M47.7,54.3h0.75M28.7,46.9h0.75M37.7,58.9h0.75M40.5,48.2h0.75M26.1,52.0h0.75M40.1,50.3h0.75M31.9,54.5h0.75M34.7,51.8h0.75M40.4,53.6h0.75M46.0,48.1h0.75M39.3,60.3h0.75M51.4,59.0h0.75M46.6,59.1h0.75M29.8,48.1h0.75M41.5,49.1h0.75M34.6,60.9h0.75M43.2,49.8h0.75M28.1,53.9h0.75M46.1,59.9h0.75M49.5,58.2h0.75M33.5,48.1h0.75M29.3,60.3h0.75M48.7,63.4h0.75M40.3,47.8h0.75M50.6,63.0h0.75M36.1,46.9h0.75M39.4,57.9h0.75M39.0,60.0h0.75M40.7,58.3h0.75M43.0,49.7h0.75M38.8,53.1h0.75M44.7,50.6h0.75M54.1,55.7h0.75M45.2,59.5h0.75M50.1,58.1h0.75M45.5,58.5h0.75M33.7,51.2h0.75M33.7,62.9h0.75M44.5,48.0h0.75M51.7,56.9h0.75M36.8,56.6h0.75M29.0,47.9h0.75M31.3,52.2h0.75M26.7,54.8h0.75M48.7,54.1h0.75M43.8,55.3h0.75M34.7,56.0h0.75M37.2,48.6h0.75M36.5,59.0h0.75M33.3,58.5h0.75M29.3,54.8h0.75M42.6,60.3h0.75M25.6,51.8h0.75M46.3,57.2h0.75M39.2,61.6h0.75M47.3,63.4h0.75M48.5,55.2h0.75M46.0,56.6h0.75M43.7,48.8h0.75M43.8,57.3h0.75M43.3,57.8h0.75M29.0,52.5h0.75M41.9,60.3h0.75M50.6,54.7h0.75M38.9,49.1h0.75M41.1,56.3h0.75M43.0,63.9h0.75M39.0,56.1h0.75M37.1,55.9h0.75M49.5,50.3h0.75M48.0,58.0h0.75M25.8,56.4h0.75M42.1,60.2h0.75M48.2,51.9h0.75M50.6,60.8h0.75M44.7,58.6h0.75M27.2,57.8h0.75M29.7,47.8h0.75M36.5,56.4h0.75M39.5,53.4h0.75M30.1,56.7h0.75M36.0,48.6h0.75M37.1,54.1h0.75M41.3,61.9h0.75M29.0,47.5h0.75M44.3,56.2h0.75M43.1,56.0h0.75M52.9,51.6h0.75M46.8,53.0h0.75M41.1,56.5h0.75M40.2,52.5h0.75M46.2,62.1h0.75M53.8,62.6h0.75M26.1,55.4h0.75M43.0,56.5h0.75M32.0,54.0h0.75M39.0,56.0h0.75M39.9,54.1h0.75M35.1,56.4h0.75M36.0,51.9h0.75M35.6,56.9h0.75M52.4,54.3h0.75M37.3,57.8h0.75M42.7,53.0h0.75M34.3,59.6h0.75M40.4,51.8h0.75M40.1,54.7h0.75M44.4,56.9h0.75M35.2,47.3h0.75M29.1,54.6h0.75M28.5,60.4h0.75M39.5,53.9h0.75M39.9,61.0h0.75M34.9,60.2h0.75M49.0,59.4h0.75M54.5,54.4h0.75M40.1,50.3h0.75M40.0,62.2h0.75M47.2,56.1h0.75M43.4,47.8h0.75M34.5,63.9h0.75M31.7,61.5h0.75M45.8,54.7h0.75M25.8,53.7h0.75M45.8,57.9h0.75M47.7,55.9h0.75M44.8,61.7h0.75M40.1,60.5h0.75M42.0,60.4h0.75M54.0,53.4h0.75M27.7,50.4h0.75M27.4,49.7h0.75M38.8,57.7h0.75M41.6,56.0h0.75M36.4,58.3h0.75M48.9,60.4h0.75M42.0,58.2h0.75M36.6,61.8h0.75M36.0,49.0h0.75M39.4,52.6h0.75M48.3,53.0h0.75M41.2,54.1h0.75M43.4,51.4h0.75M36.1,50.9h0.75M46.5,55.8h0.75M44.8,53.4h0.75M32.8,48.2h0.75M36.7,52.0h0.75M42.8,57.8h0.75M49.8,54.8h0.75M32.5,48.6h0.75M40.6,57.8h0.75M29.5,63.4h0.75M51.4,64.2h0.75M39.9,61.7h0.75M35.2,55.0h0.75M37.8,61.7h0.75M40.7,50.9h0.75M42.4,59.8h0.75M32.9,59.6h0.75M32.9,49.8h0.75M42.2,54.0h0.75M40.2,57.1h0.75M35.4,56.7h0.75M44.2,57.3h0.75M33.9,56.0h0.75M41.3,62.5h0.75M42.8,57.1h0.75M32.8,61.1h0.75M51.7,52.3h0.75M46.4,57.5h0.75M39.5,47.1h0.75M43.0,53.1h0.75M51.4,52.8h0.75M40.4,59.5h0.75M44.6,52.1h0.75M46.8,58.0h0.75M49.9,52.2h0.75M39.5,53.0h0.75M31.6,57.2h0.75M36.8,58.0h0.75M51.4,54.8h0.75M40.6,56.4h0.75M33.1,49.1h0.75M51.1,56.6h0.75M39.3,47.4h0.75M41.2,63.1h0.75M28.5,49.7h0.75M46.0,50.6h0.75M45.2,53.1h0.75M42.0,64.2h0.75M43.4,53.9h0.75M40.6,57.2h0.75M34.9,56.8h0.75M27.7,61.2h0.75M41.2,62.9h0.75M34.9,52.4h0.75M43.4,51.7h0.75M51.0,55.5h0.75M35.5,61.5h0.75M31.8,63.6h0.75M49.6,56.4h0.75M53.7,55.5h0.75M39.5,62.6h0.75M44.8,59.2h0.75M43.2,58.3h0.75M26.9,54.3h0.75M42.6,54.0h0.75M40.6,59.4h0.75M30.6,51.8h0.75M47.6,54.1h0.75M49.6,53.1h0.75M41.5,56.2h0.75M38.0,60.7h0.75M29.2,59.3h0.75M33.2,49.1h0.75M45.6,58.7h0.75M32.7,48.3h0.75M46.4,54.5h0.75M34.3,53.7h0.75M37.3,50.8h0.75M40.8,61.7h0.75M32.0,50.3h0.75M51.3,55.9h0.75M36.2,52.2h0.75M41.1,62.4h0.75M46.6,54.3h0.75M45.9,52.7h0.75M39.1,49.4h0.75M44.9,58.8h0.75M41.7,60.5h0.75M45.3,56.3h0.75M31.3,59.3h0.75M51.7,59.5h0.75M52.3,52.5h0.75M30.4,63.5h0.75M34.3,57.1h0.75M38.1,55.6h0.75M37.3,52.1h0.75M31.1,48.3h0.75M37.6,60.2h0.75M45.9,47.6h0.75M34.4,53.2h0.75M52.3,56.3h0.75M38.8,50.4h0.75M40.9,55.8h0.75M47.2,64.4h0.75M47.2,55.6h0.75M42.0,55.4h0.75M45.6,54.8h0.75M33.8,62.3h0.75M35.6,61.6h0.75M32.3,56.2h0.75M43.9,56.4h0.75M42.3,57.9h0.75M29.0,48.4h0.75M38.8,49.6h0.75M33.5,55.7h0.75M51.6,51.9h0.75M45.5,56.7h0.75M36.5,49.5h0.75M38.5,50.9h0.75M51.0,60.3h0.75M40.5,58.4h0.75M33.3,48.3h0.75M44.2,58.7h0.75M35.8,54.0h0.75M35.1,51.9h0.75M39.4,62.3h0.75M41.5,60.8h0.75M30.2,47.8h0.75M42.4,60.9h0.75M35.9,51.2h0.75M43.9,59.4h0.75M42.4,50.1h0.75M52.9,58.6h0.75M42.7,56.6h0.75M34.3,55.2h0.75M33.6,56.5h0.75M48.7,60.8h0.75M30.6,54.7h0.75M37.4,47.7h0.75M40.8,52.5h0.75M49.0,58.2h0.75M32.4,56.0h0.75M36.5,51.5h0.75M35.3,62.2h0.75M32.5,60.6h0.75M36.5,53.4h0.75M26.3,58.0h0.75M39.5,57.3h0.75M47.7,60.8h0.75M33.8,51.8h0.75M41.4,48.6h0.75M48.6,58.8h0.75M47.8,57.2h0.75M40.6,52.0h0.75M43.0,57.0h0.75M46.3,62.4h0.75M43.0,52.1h0.75M31.9,58.2h0.75M45.3,58.9h0.75M44.9,54.9h0.75M33.4,52.2h0.75M39.5,52.1h0.75M54.3,62.9h0.75M36.0,59.7h0.75M39.6,62.8h0.75M45.7,55.3h0.75M45.4,51.0h0.75M36.5,59.0h0.75M48.5,49.1h0.75M48.5,53.8h0.75M39.0,61.7h0.75M33.4,59.8h0.75M36.5,57.7h0.75M28.0,60.4h0.75M52.8,48.4h0.75M42.9,50.9h0.75M34.5,50.2h0.75M42.9,52.6h0.75M31.2,54.1h0.75M44.0,50.1h0.75M44.0,53.0h0.75M33.6,47.0h0.75M29.5,53.4h0.75M42.0,61.3h0.75M40.0,58.5h0.75M38.9,56.8h0.75M42.1,51.0h0.75M43.4,56.5h0.75M39.6,51.2h0.75M30.1,57.1h0.75" stroke="#333" stroke-width="0.75" fill="none" opacity="1"/>
<g fill="#fff" stroke="#222" stroke-width="0.85">
<path d="M27.6,55.5 C27.8,50.5 33,48.6 40,48.6 C47,48.6 52.6,51.5 52.6,55.7 C52.6,60 47,62.8 40,62.8 C33,62.8 27.4,60.5 27.6,55.5z" fill="#d0d0d0"/>
<path d="M29.4,55.5 C29.6,51.4 34,49.9 40.3,49.9 C46.5,49.9 51.2,52.2 51.2,55.7 C51.2,59.2 46.5,61.5 40.3,61.5 C34,61.5 29.2,59.6 29.4,55.5z"/>
<path d="M31.4,55.6 C31.6,52.3 35.5,51.1 40.8,51.1 C46,51.1 49.9,53 49.9,55.7 C49.9,58.4 46,60.3 40.8,60.3 C35.5,60.3 31.2,58.9 31.4,55.6z"/>
<path d="M33.6,55.6 C33.8,53.2 37,52.2 41.3,52.2 C45.5,52.2 48.6,53.7 48.6,55.7 C48.6,57.7 45.5,59.2 41.3,59.2 C37,59.2 33.4,58 33.6,55.6z"/>
<ellipse cx="42" cy="55.7" rx="5.3" ry="2.5"/>
</g>
<path d="M64.7,89.9h0.75M84.5,77.8h0.75M90.4,76.2h0.75M66.1,80.7h0.75M56.0,81.2h0.75M67.2,78.5h0.75M63.4,86.3h0.75M92.9,79.6h0.75M94.0,91.4h0.75M90.3,83.7h0.75M66.4,83.1h0.75M75.2,76.5h0.75M76.0,91.8h0.75M75.1,78.0h0.75M59.5,84.4h0.75M75.5,86.9h0.75M61.2,90.6h0.75M78.8,89.0h0.75M90.0,82.0h0.75M74.5,78.3h0.75M87.0,77.9h0.75M72.8,83.3h0.75M64.7,80.8h0.75M54.8,74.1h0.75M55.1,85.8h0.75M71.4,86.8h0.75M57.3,85.5h0.75M66.0,82.5h0.75M84.8,82.2h0.75M67.2,72.2h0.75M72.9,86.6h0.75M63.4,81.6h0.75M77.5,89.6h0.75M67.8,72.2h0.75M66.8,72.8h0.75M76.1,81.1h0.75M86.2,79.8h0.75M76.6,83.2h0.75M78.1,73.4h0.75M81.7,87.2h0.75M59.7,90.8h0.75M72.3,86.0h0.75M79.6,87.2h0.75M63.2,78.6h0.75M77.2,85.6h0.75M79.9,84.0h0.75M65.3,88.5h0.75M78.5,88.3h0.75M62.9,82.7h0.75M65.4,80.2h0.75M74.7,84.0h0.75M61.2,85.2h0.75M60.4,84.5h0.75M66.9,76.4h0.75M88.1,91.8h0.75M70.6,81.7h0.75M85.2,74.1h0.75M60.0,88.7h0.75M84.4,79.1h0.75M61.3,84.1h0.75M80.2,86.5h0.75M86.8,73.5h0.75M54.2,77.2h0.75M58.5,80.1h0.75M74.9,84.7h0.75M92.1,75.5h0.75M84.2,82.9h0.75M55.8,82.9h0.75M61.9,88.0h0.75M90.1,78.3h0.75M59.5,82.8h0.75M57.4,87.4h0.75M74.4,77.5h0.75M62.5,86.3h0.75M61.1,80.8h0.75M59.1,91.7h0.75M83.5,89.8h0.75M81.1,82.5h0.75M95.6,86.0h0.75M78.1,85.4h0.75M82.2,83.7h0.75M69.7,72.5h0.75M63.6,83.6h0.75M71.7,70.1h0.75M67.3,83.7h0.75M88.4,74.8h0.75M76.6,82.5h0.75M74.1,82.9h0.75M66.9,73.8h0.75M78.3,84.3h0.75M80.1,89.5h0.75M59.2,84.4h0.75M71.8,86.4h0.75M69.6,78.4h0.75M75.4,85.1h0.75M58.4,89.9h0.75M88.0,84.7h0.75M70.5,80.6h0.75M58.4,79.0h0.75M85.9,76.5h0.75M64.7,87.1h0.75M87.4,78.1h0.75M77.4,84.9h0.75M56.1,88.2h0.75M97.2,82.3h0.75M75.8,75.0h0.75M97.0,82.4h0.75M54.1,86.6h0.75M62.9,78.5h0.75M64.1,85.3h0.75M92.4,76.0h0.75M78.2,71.2h0.75M93.3,81.5h0.75M62.2,91.2h0.75M70.5,90.2h0.75M87.0,91.9h0.75M60.8,82.3h0.75M77.2,80.8h0.75M93.3,77.7h0.75M86.0,90.2h0.75M59.3,78.7h0.75M77.5,81.0h0.75M73.1,79.2h0.75M70.9,84.9h0.75M82.4,77.3h0.75M70.4,77.4h0.75M69.5,73.4h0.75M85.4,86.0h0.75M70.3,77.9h0.75M65.6,78.0h0.75M55.7,85.5h0.75M80.5,72.6h0.75M65.1,82.5h0.75M72.0,78.6h0.75M70.0,80.2h0.75M89.4,81.4h0.75M71.6,78.8h0.75M63.1,77.6h0.75M87.6,83.4h0.75M95.4,88.1h0.75M74.9,81.0h0.75M56.6,83.5h0.75M67.6,72.5h0.75M75.0,85.0h0.75M74.8,79.2h0.75M78.5,88.5h0.75M67.7,85.1h0.75M86.4,79.1h0.75M74.4,77.6h0.75M80.4,79.8h0.75M88.0,77.4h0.75M95.6,80.1h0.75M60.2,76.6h0.75M81.3,76.9h0.75M97.3,89.7h0.75M79.3,73.5h0.75M71.7,77.6h0.75M83.3,89.7h0.75M58.5,80.0h0.75M75.8,84.8h0.75M56.0,83.3h0.75M70.5,87.7h0.75M65.0,80.1h0.75M82.1,78.2h0.75M83.8,88.1h0.75M85.5,80.8h0.75M60.4,80.5h0.75M81.3,82.7h0.75M80.1,85.4h0.75M59.6,76.4h0.75M92.2,79.1h0.75M60.3,76.4h0.75M85.5,75.2h0.75M59.8,88.3h0.75M73.8,82.3h0.75M63.0,80.7h0.75M65.0,81.9h0.75M82.8,74.4h0.75M93.1,81.6h0.75M71.8,81.7h0.75M86.1,83.9h0.75M83.9,81.0h0.75M70.3,81.7h0.75M81.4,82.3h0.75M83.4,92.2h0.75M59.7,81.5h0.75M86.0,80.7h0.75M70.3,79.9h0.75M89.8,88.4h0.75M71.0,85.4h0.75M58.4,88.7h0.75M91.5,81.7h0.75M67.3,79.1h0.75M69.3,74.5h0.75M71.8,85.3h0.75M76.3,84.9h0.75M80.9,88.0h0.75M56.0,78.5h0.75M57.0,85.9h0.75M76.8,82.2h0.75M62.9,84.1h0.75M72.4,77.5h0.75M76.7,78.0h0.75M85.3,85.8h0.75M62.4,85.5h0.75M72.9,77.8h0.75M59.2,72.0h0.75M56.2,84.1h0.75M88.9,78.2h0.75M74.2,84.1h0.75M82.9,84.7h0.75M89.2,86.6h0.75M61.3,84.4h0.75M72.3,85.5h0.75M67.8,87.0h0.75M90.5,77.0h0.75M64.4,83.6h0.75M78.9,82.9h0.75M83.6,74.9h0.75M82.9,89.0h0.75M87.5,84.6h0.75M68.7,84.4h0.75M71.0,72.5h0.75M63.5,81.8h0.75M64.8,76.4h0.75M68.8,79.8h0.75M73.0,81.7h0.75M74.4,88.0h0.75M73.9,84.4h0.75M66.4,86.1h0.75M67.3,78.3h0.75M54.6,87.4h0.75M64.6,83.5h0.75M87.8,85.2h0.75M85.4,86.2h0.75M62.8,82.3h0.75M64.1,75.9h0.75M76.2,77.4h0.75M95.5,77.6h0.75M64.4,82.5h0.75M64.7,82.3h0.75M63.5,73.5h0.75M93.3,84.7h0.75M74.2,79.2h0.75M70.0,83.8h0.75M59.5,89.6h0.75M57.2,89.0h0.75M70.9,82.2h0.75M90.9,87.2h0.75M85.1,75.6h0.75M87.9,92.1h0.75M70.6,79.1h0.75M56.7,88.1h0.75M76.1,82.0h0.75M54.7,91.7h0.75M84.3,81.9h0.75M92.7,76.3h0.75M84.3,76.0h0.75M91.8,80.3h0.75M89.1,79.5h0.75M77.6,88.9h0.75M59.4,82.6h0.75M60.3,87.1h0.75M63.5,79.8h0.75M69.2,89.0h0.75M57.4,81.8h0.75M67.4,78.7h0.75M61.0,81.0h0.75M74.7,72.7h0.75M75.3,74.9h0.75M58.5,81.6h0.75M68.4,87.9h0.75M65.4,71.3h0.75M75.5,88.4h0.75M64.5,86.0h0.75M57.1,89.8h0.75M71.0,77.9h0.75M74.5,92.5h0.75M60.1,74.6h0.75M57.8,75.1h0.75M71.3,84.1h0.75M69.7,83.2h0.75M88.6,80.3h0.75M75.4,77.9h0.75M68.5,84.5h0.75M78.5,72.6h0.75M58.6,82.4h0.75M70.0,88.9h0.75M88.4,72.2h0.75M58.4,84.3h0.75M75.3,85.2h0.75M79.6,77.7h0.75M89.6,71.9h0.75M63.8,83.7h0.75M73.9,76.2h0.75M94.1,90.8h0.75M58.9,84.2h0.75M63.1,79.4h0.75M85.8,82.8h0.75M70.5,82.6h0.75M55.6,89.3h0.75M61.5,89.9h0.75M65.6,79.3h0.75M92.8,83.1h0.75M63.0,78.8h0.75M80.6,79.6h0.75M56.3,78.0h0.75M70.3,83.5h0.75M62.8,89.7h0.75M58.6,77.7h0.75M79.0,84.9h0.75M66.5,87.8h0.75M72.8,90.0h0.75M69.2,83.2h0.75M79.3,71.5h0.75M69.1,92.3h0.75M84.9,84.0h0.75M74.7,90.3h0.75M76.7,70.6h0.75M58.8,80.2h0.75M74.0,79.3h0.75M70.5,92.0h0.75M85.1,85.6h0.75M72.2,82.4h0.75M77.1,83.5h0.75M61.9,86.7h0.75M60.4,81.8h0.75M67.0,75.1h0.75M80.5,81.6h0.75M55.7,81.5h0.75M64.1,86.2h0.75M58.5,76.9h0.75M70.8,84.5h0.75M84.9,80.4h0.75M87.4,87.8h0.75M59.8,80.9h0.75M59.2,92.2h0.75M64.3,87.3h0.75M84.8,80.5h0.75M65.2,84.1h0.75M61.2,74.4h0.75M58.5,84.0h0.75M74.7,92.5h0.75M55.9,88.9h0.75M81.7,82.8h0.75M92.6,79.8h0.75M64.6,75.7h0.75M62.9,82.7h0.75M81.4,89.6h0.75M68.3,77.6h0.75M67.3,79.4h0.75M65.5,79.6h0.75M59.9,81.7h0.75M64.9,81.0h0.75M80.0,85.9h0.75M64.4,75.2h0.75M53.9,75.0h0.75M63.1,80.2h0.75M62.0,86.9h0.75M68.2,79.7h0.75M69.2,81.0h0.75M70.5,77.3h0.75M77.0,78.9h0.75M80.0,75.6h0.75M65.5,75.1h0.75M78.1,78.9h0.75M82.2,78.8h0.75M84.5,82.9h0.75M77.0,82.9h0.75M66.9,79.9h0.75M78.3,86.2h0.75M95.4,75.2h0.75M87.0,81.6h0.75M75.2,77.3h0.75M94.9,77.1h0.75M70.9,77.7h0.75M53.8,79.3h0.75M77.0,79.5h0.75M67.1,75.6h0.75M75.5,75.5h0.75M67.5,91.7h0.75M77.2,78.0h0.75M67.2,76.3h0.75M73.6,86.1h0.75M84.9,80.4h0.75M55.5,81.6h0.75M95.1,83.7h0.75M66.0,85.2h0.75M58.9,90.0h0.75M64.2,76.9h0.75M64.0,81.5h0.75M85.8,78.7h0.75M79.2,91.1h0.75M56.5,90.7h0.75M81.3,84.7h0.75M61.4,76.8h0.75M58.8,87.5h0.75M75.0,88.3h0.75M97.1,82.1h0.75M54.0,79.4h0.75M66.9,79.8h0.75M74.0,77.1h0.75M88.0,74.0h0.75M60.8,72.1h0.75M80.7,80.9h0.75M83.6,85.7h0.75M64.1,81.8h0.75M65.9,84.2h0.75M79.5,89.2h0.75M77.9,88.3h0.75M57.4,80.5h0.75M73.2,83.6h0.75M74.0,74.3h0.75M62.5,81.0h0.75M74.3,77.0h0.75M70.5,77.7h0.75M53.8,78.2h0.75M60.9,87.0h0.75M90.4,85.4h0.75M69.1,78.8h0.75" stroke="#2a2a2a" stroke-width="0.75" fill="none" opacity="1"/>
<g clip-path="url(#clG2)"><path d="M63,70.8 C70,72.8 80,75.2 88,79.6 C92,81.8 95,84 97.5,85.8" fill="none" stroke="#000" stroke-width="2.2" filter="url(#b06)"/></g>
<path d="M68.8,71.3h0.8M94.9,84.6h0.8M84.1,78.1h0.8M81.8,78.1h0.8M81.7,78.1h0.8M75.3,74.9h0.8M78.4,77.6h0.8M70.7,74.6h0.8M81.5,76.7h0.8M82.1,77.8h0.8M79.8,77.3h0.8M77.9,73.5h0.8M88.0,80.1h0.8M96.1,84.1h0.8M64.2,71.8h0.8M75.8,75.7h0.8M72.6,73.5h0.8M67.9,72.5h0.8M87.3,78.5h0.8M85.4,80.3h0.8M89.3,79.8h0.8M76.6,73.8h0.8M70.7,73.3h0.8M81.7,79.3h0.8M84.5,78.2h0.8M69.0,74.2h0.8M83.4,78.2h0.8M73.9,72.7h0.8M87.9,78.8h0.8M86.7,80.5h0.8M79.5,74.3h0.8M84.8,80.7h0.8M75.5,73.1h0.8M91.3,81.7h0.8M76.0,76.8h0.8M79.4,77.1h0.8M78.9,75.3h0.8M84.3,77.4h0.8M67.0,70.5h0.8M92.1,83.4h0.8M95.7,83.8h0.8M78.0,76.6h0.8M73.5,75.0h0.8M78.0,76.3h0.8M74.7,74.4h0.8M90.5,80.9h0.8M76.1,75.5h0.8M89.6,80.6h0.8M72.7,71.6h0.8M70.0,74.0h0.8M81.0,77.8h0.8M91.1,81.8h0.8M86.4,78.8h0.8M67.9,72.5h0.8M80.9,77.9h0.8M72.9,73.6h0.8M82.2,79.5h0.8M79.9,76.9h0.8M63.3,70.8h0.8M77.6,77.5h0.8M81.4,76.9h0.8M85.9,78.9h0.8M76.8,77.5h0.8M90.4,81.3h0.8M88.5,81.5h0.8M87.0,79.8h0.8M82.4,78.3h0.8M86.7,80.1h0.8M77.3,75.5h0.8M86.4,78.1h0.8M81.5,78.5h0.8M83.6,77.9h0.8M82.0,77.0h0.8M90.6,80.7h0.8M68.3,70.2h0.8M84.5,78.9h0.8M78.6,74.4h0.8M81.1,76.1h0.8M76.4,75.2h0.8M75.3,75.2h0.8M75.9,74.4h0.8M79.3,78.5h0.8M95.0,84.4h0.8M75.7,75.0h0.8M89.4,81.9h0.8M68.1,71.7h0.8M75.3,75.8h0.8M87.7,79.3h0.8M80.3,79.5h0.8M77.7,75.2h0.8M94.6,82.9h0.8M86.7,77.9h0.8M96.8,85.2h0.8M84.7,79.7h0.8M77.9,75.3h0.8M68.4,72.4h0.8M92.2,83.1h0.8M89.5,81.8h0.8M74.7,72.8h0.8M87.4,80.1h0.8M90.6,80.9h0.8M74.2,74.9h0.8M78.0,73.7h0.8M77.2,74.4h0.8M72.7,73.0h0.8M89.0,83.7h0.8M97.0,83.4h0.8M91.8,81.7h0.8M85.8,78.3h0.8M82.2,75.4h0.8M97.7,83.2h0.8M87.3,79.1h0.8M84.9,77.3h0.8M78.3,77.3h0.8M88.0,77.6h0.8M89.9,79.2h0.8M84.2,79.2h0.8M76.6,74.9h0.8M79.7,77.2h0.8M89.2,82.5h0.8M83.8,81.1h0.8M73.0,76.2h0.8M79.4,77.5h0.8M80.9,77.3h0.8M73.9,74.7h0.8M81.8,77.5h0.8M88.2,80.0h0.8M81.9,77.9h0.8M92.7,83.4h0.8M73.3,73.1h0.8M81.8,78.7h0.8M90.4,80.9h0.8M93.3,84.3h0.8M95.6,83.6h0.8M87.7,78.0h0.8M67.0,70.5h0.8M87.6,81.4h0.8M80.6,78.4h0.8M86.2,81.4h0.8M68.8,70.9h0.8M74.3,73.0h0.8M96.6,82.5h0.8M75.1,74.2h0.8M89.8,80.3h0.8M88.0,80.9h0.8M77.6,72.6h0.8M74.7,72.9h0.8M96.4,82.7h0.8M72.6,74.2h0.8M82.9,76.8h0.8M90.9,82.6h0.8M84.7,77.8h0.8M75.5,72.1h0.8M85.1,79.5h0.8M74.1,74.3h0.8M67.1,72.1h0.8M78.6,75.5h0.8M87.4,79.7h0.8M90.3,81.8h0.8M91.9,82.0h0.8M62.8,71.3h0.8M66.9,72.6h0.8M84.8,77.0h0.8M82.1,78.9h0.8M73.2,74.0h0.8M76.1,73.8h0.8M76.1,76.8h0.8M87.9,80.1h0.8M81.2,77.5h0.8M84.4,78.9h0.8M66.8,72.4h0.8M75.9,71.5h0.8M88.6,78.8h0.8M80.8,77.0h0.8M76.7,76.1h0.8M79.8,76.3h0.8M73.9,73.8h0.8M73.1,73.9h0.8M92.9,83.6h0.8M86.3,77.6h0.8M90.4,82.4h0.8M82.3,77.3h0.8M91.9,80.3h0.8M77.6,78.9h0.8M91.5,79.0h0.8M81.5,79.2h0.8M76.4,76.0h0.8M83.6,76.3h0.8M76.1,76.6h0.8M92.5,81.2h0.8M92.0,80.9h0.8M84.1,78.5h0.8M71.1,73.4h0.8M80.0,73.1h0.8M75.3,73.6h0.8M75.3,73.5h0.8M77.3,72.3h0.8M89.6,80.9h0.8M84.3,78.2h0.8M82.7,77.5h0.8M73.4,71.9h0.8M82.1,79.0h0.8M83.2,80.3h0.8M70.4,72.3h0.8M76.1,76.8h0.8M96.8,83.2h0.8M88.4,80.0h0.8M73.5,73.8h0.8M72.3,75.6h0.8M86.5,81.1h0.8M86.3,76.1h0.8M88.9,80.6h0.8M89.9,83.2h0.8M72.8,74.8h0.8M84.9,78.6h0.8M79.3,77.2h0.8M86.6,80.5h0.8M79.1,74.6h0.8M92.7,83.9h0.8M77.2,75.5h0.8" stroke="#000" stroke-width="0.8" fill="none" opacity="1"/>
<g fill="#fff" stroke="#222" stroke-width="0.85">
<path d="M54,79 C54,72 63,70.6 68.5,74.5 C72,77.5 76,79.6 82,80.6 C90,82 96.2,85 96.2,88 C96.2,91.2 92,92 88,92 L63,92 C57,91.4 54,86 54,79z" fill="#f4f4f4"/>
<ellipse cx="61" cy="79.3" rx="7" ry="7.3"/>
<ellipse cx="61" cy="79.3" rx="5.6" ry="5.9"/>
<ellipse cx="61" cy="79.3" rx="4.2" ry="4.4"/>
<ellipse cx="61" cy="79.3" rx="2.8" ry="3"/>
<ellipse cx="61" cy="79.3" rx="1.4" ry="1.5"/>
<path d="M70,87.5 C71,83 76,81.4 82,82 C90,83 95.4,85.6 95.4,88 C95.4,90.6 92,91.3 88,91.3 L76,91.3 C71.5,91.3 69.5,90 70,87.5z"/>
<path d="M72.4,87.6 C73.4,84.2 77.2,83 82,83.4 C89,84.2 94,86.2 94,88 C94,89.9 91.4,90.4 88,90.4 L77.5,90.4 C73.5,90.4 72,89.5 72.4,87.6z"/>
<path d="M75,87.7 C76,85.3 78.6,84.5 82.4,84.8 C88,85.4 92.6,86.8 92.6,88.1 C92.6,89.3 90.6,89.6 88,89.6 L79,89.6 C76,89.6 74.6,89 75,87.7z"/>
<path d="M78,87.8 C79,86.3 80.6,86 83,86.1 C87.4,86.4 91.2,87.3 91.2,88.1 C91.2,88.8 89.8,88.9 88,88.9 L81,88.9 C78.8,88.9 77.6,88.6 78,87.8z"/>
<ellipse cx="86.3" cy="87.6" rx="3.4" ry="0.9" stroke="none"/>
</g>
<line x1="97.5" y1="86.6" x2="107" y2="86.6" stroke="#777" stroke-width="0.6" stroke-dasharray="1 0.6"/>
</g>
<rect x="25.3" y="46.2" width="29.5" height="18.4" stroke="#000" stroke-width="1.7" fill="none"/>
<rect x="53.3" y="69.8" width="44.1" height="23.1" stroke="#000" stroke-width="1.7" fill="none"/>
<path d="M14.4,74.7V105.1H50.4" fill="none" stroke="#000" stroke-width="2.3"/>
<text font-size="11.5" textLength="28" lengthAdjust="spacingAndGlyphs" stroke="#000" stroke-width="0.63" transform="translate(10.2,103.8) rotate(-90)">H2Kb</text>
<text x="16.6" y="118.6" font-size="11.8" textLength="27.6" lengthAdjust="spacingAndGlyphs" stroke="#000" stroke-width="0.63">H2kd</text>
<text x="137.6" y="12.3" font-size="17.6" textLength="13" lengthAdjust="spacingAndGlyphs" font-weight="bold" stroke="#000" stroke-width="0.7">B</text>
<rect x="162" y="12.8" width="107.8" height="83.3" stroke="#8a8a8a" stroke-width="0.7" fill="none"/>
<path d="M162,21h-3.8M162,39h-3.8M162,58h-3.8M162,77.6h-3.8M162,85.4h-3.8M162,92.3h-3.8" stroke="#222" stroke-width="0.9" fill="none"/>
<path d="M162,77.60h-2.60M162,71.88h-1.56M162,68.53h-1.56M162,66.16h-1.56M162,64.32h-1.56M162,62.82h-1.56M162,61.54h-1.56M162,60.44h-1.56M162,59.47h-1.56M162,58.60h-2.60M162,52.88h-1.56M162,49.53h-1.56M162,47.16h-1.56M162,45.32h-1.56M162,43.82h-1.56M162,42.54h-1.56M162,41.44h-1.56M162,40.47h-1.56M162,39.60h-2.60M162,33.88h-1.56M162,30.53h-1.56M162,28.16h-1.56M162,26.32h-1.56M162,24.82h-1.56M162,23.54h-1.56M162,22.44h-1.56M162,21.47h-1.56" stroke="#555" stroke-width="0.6" fill="none"/>
<path d="M162,80.2h-1.8M162,82.8h-1.8M162,87.7h-1.8M162,90h-1.8" stroke="#555" stroke-width="0.6" fill="none"/>
<path d="M162.2,96.1v4M178.4,96.1v4M209.3,96.1v4M240.2,96.1v4" stroke="#111" stroke-width="0.9" fill="none"/>
<path d="M165.5,96.1v2.2M168.7,96.1v2.2M172,96.1v2.2M175.2,96.1v2.2" stroke="#444" stroke-width="0.6" fill="none"/>
<path d="M178.40,96.1v3.00M187.70,96.1v1.80M193.14,96.1v1.80M197.00,96.1v1.80M200.00,96.1v1.80M202.44,96.1v1.80M204.51,96.1v1.80M206.31,96.1v1.80M207.89,96.1v1.80M209.30,96.1v3.00M218.60,96.1v1.80M224.04,96.1v1.80M227.90,96.1v1.80M230.90,96.1v1.80M233.34,96.1v1.80M235.41,96.1v1.80M237.21,96.1v1.80M238.79,96.1v1.80M240.20,96.1v3.00M249.50,96.1v1.80M254.94,96.1v1.80M258.80,96.1v1.80M261.80,96.1v1.80M264.24,96.1v1.80M266.31,96.1v1.80M268.11,96.1v1.80M269.69,96.1v1.80" stroke="#222" stroke-width="0.8" fill="none"/>
<g clip-path="url(#clB)">
<path d="M249.5,35.9h0.6M243.2,42.0h0.6M264.1,46.1h0.6M242.5,43.6h0.6M242.1,35.7h0.6M224.9,37.6h0.6M250.6,45.5h0.6M253.6,34.3h0.6M232.9,54.4h0.6M230.7,35.3h0.6M231.2,44.0h0.6M239.8,53.5h0.6M255.7,54.9h0.6M246.9,43.1h0.6M234.2,37.5h0.6M255.0,53.2h0.6M241.1,40.9h0.6M248.0,48.8h0.6M241.8,39.3h0.6M242.8,42.8h0.6M248.7,49.4h0.6M245.2,43.6h0.6M258.0,50.5h0.6M255.0,50.8h0.6M247.8,48.3h0.6M227.4,35.6h0.6M229.0,49.5h0.6M250.7,47.1h0.6M235.3,35.8h0.6M221.8,44.2h0.6M248.3,50.2h0.6M237.4,50.7h0.6M239.4,41.8h0.6M235.5,50.4h0.6M251.2,39.5h0.6M228.4,46.7h0.6M265.0,39.3h0.6M225.2,48.4h0.6M246.0,42.5h0.6M239.7,48.8h0.6M219.5,45.9h0.6M247.1,51.3h0.6M253.7,45.6h0.6M223.0,53.7h0.6M249.1,42.3h0.6M252.2,52.0h0.6M238.4,32.4h0.6M234.5,41.7h0.6M230.2,45.5h0.6M227.3,48.2h0.6M262.2,39.2h0.6M252.2,42.9h0.6M246.4,45.3h0.6M255.1,41.9h0.6M248.6,41.5h0.6M242.7,45.9h0.6M252.8,36.9h0.6M224.1,54.0h0.6M244.5,55.8h0.6M227.9,47.2h0.6M239.4,43.4h0.6M248.4,45.4h0.6M231.2,50.4h0.6M217.6,40.2h0.6M256.0,43.1h0.6M236.2,48.1h0.6M253.2,49.0h0.6M228.7,42.7h0.6M252.3,45.3h0.6M232.6,51.0h0.6M227.4,41.9h0.6M231.9,48.0h0.6M234.4,52.4h0.6M208.5,51.5h0.6M232.5,44.4h0.6M246.7,47.2h0.6M228.1,54.6h0.6M246.8,43.2h0.6M242.5,39.6h0.6M225.6,44.3h0.6M244.3,46.6h0.6M230.9,38.0h0.6M220.3,55.2h0.6M244.3,41.4h0.6M253.9,49.1h0.6M235.2,42.5h0.6M253.3,47.9h0.6M259.2,48.1h0.6M233.2,42.6h0.6M231.8,47.5h0.6M243.0,49.5h0.6M245.3,40.0h0.6M237.6,40.6h0.6M245.6,38.4h0.6M233.2,41.1h0.6M232.8,44.5h0.6M257.7,44.5h0.6M223.2,44.3h0.6M248.8,49.2h0.6M253.0,46.5h0.6M254.2,38.3h0.6M238.0,41.0h0.6M242.1,55.3h0.6M234.2,55.2h0.6M228.1,54.2h0.6M220.2,41.1h0.6M251.7,45.5h0.6M241.7,45.9h0.6M242.1,45.0h0.6M228.6,44.3h0.6M241.3,40.8h0.6M220.9,42.9h0.6M236.7,46.1h0.6M241.1,41.8h0.6M239.6,46.0h0.6M239.0,54.9h0.6M241.5,37.5h0.6M221.7,49.4h0.6M236.0,42.4h0.6M224.2,44.2h0.6M238.9,42.1h0.6M235.9,51.1h0.6M249.2,49.1h0.6M238.0,38.2h0.6M249.1,54.6h0.6M254.9,52.7h0.6M243.2,48.2h0.6M239.8,53.2h0.6M249.1,44.2h0.6M240.0,36.7h0.6M231.5,44.3h0.6M250.7,46.4h0.6M236.6,49.6h0.6M216.8,51.4h0.6M262.6,47.7h0.6M239.3,46.9h0.6M247.7,43.2h0.6M241.4,48.9h0.6M235.9,48.2h0.6M243.9,50.1h0.6M228.5,42.9h0.6M235.0,52.9h0.6M242.9,36.5h0.6M244.0,38.6h0.6M229.4,46.8h0.6M256.6,55.3h0.6M235.8,44.3h0.6M262.4,40.3h0.6M258.2,48.0h0.6M241.1,53.4h0.6M245.6,41.2h0.6M222.2,46.1h0.6M246.0,53.9h0.6M209.6,53.7h0.6M247.2,54.7h0.6M249.3,47.2h0.6M245.0,48.3h0.6M232.7,45.3h0.6M241.5,43.4h0.6M222.9,37.7h0.6M245.9,49.0h0.6M241.3,39.3h0.6M249.9,43.7h0.6M215.8,55.0h0.6M246.2,43.5h0.6M212.6,41.9h0.6M257.3,53.8h0.6M243.0,36.1h0.6M235.6,44.4h0.6M245.4,45.3h0.6M244.0,36.6h0.6M232.5,54.3h0.6M223.1,51.3h0.6M266.9,49.8h0.6M223.8,53.2h0.6M218.4,47.9h0.6M235.2,53.1h0.6M253.7,47.1h0.6M260.9,51.7h0.6M234.4,40.3h0.6M244.8,45.3h0.6M234.5,36.7h0.6M238.3,45.3h0.6M251.4,43.0h0.6M221.8,39.8h0.6M239.5,47.4h0.6M248.4,43.8h0.6M246.3,46.8h0.6M259.7,45.7h0.6M241.7,49.3h0.6M254.2,40.7h0.6M234.5,44.4h0.6M215.2,53.5h0.6M252.5,46.1h0.6M263.6,55.1h0.6M250.6,37.8h0.6M257.9,48.4h0.6M226.1,46.3h0.6M248.8,51.7h0.6M242.0,43.0h0.6M227.9,28.6h0.6M221.4,37.4h0.6M210.8,35.2h0.6M212.4,32.5h0.6M227.6,32.7h0.6M229.1,33.6h0.6M220.4,35.8h0.6M220.2,33.8h0.6M230.1,29.7h0.6M231.0,26.6h0.6M220.3,23.0h0.6M217.9,42.2h0.6M224.8,40.3h0.6M210.6,27.2h0.6M225.6,37.8h0.6M228.5,23.3h0.6M226.0,32.6h0.6M222.9,35.8h0.6M219.8,23.2h0.6M213.7,24.6h0.6M211.8,32.2h0.6M232.2,28.9h0.6M216.1,26.4h0.6M208.6,33.4h0.6M218.2,31.6h0.6M214.5,35.8h0.6M212.7,36.2h0.6M216.9,37.6h0.6M215.1,35.6h0.6M225.4,32.5h0.6M234.7,34.0h0.6M215.1,37.0h0.6M215.6,29.9h0.6M222.1,34.1h0.6M235.3,22.9h0.6M220.0,39.5h0.6M220.8,34.9h0.6M233.9,25.9h0.6M222.3,37.6h0.6M217.4,22.9h0.6M214.2,34.1h0.6M232.3,24.0h0.6M230.1,38.3h0.6M234.6,32.1h0.6M217.7,33.9h0.6M234.1,36.6h0.6M235.2,37.6h0.6M217.4,27.1h0.6M236.4,24.2h0.6M219.3,31.2h0.6M214.9,29.7h0.6M221.5,30.0h0.6M223.0,38.4h0.6M215.6,30.6h0.6M208.4,37.1h0.6M227.3,41.7h0.6M228.8,31.4h0.6M219.0,31.2h0.6M212.5,37.5h0.6M217.3,28.8h0.6M212.6,33.7h0.6M185.8,31.6h0.6M224.4,28.8h0.6M210.8,36.9h0.6M208.3,36.4h0.6M211.7,36.1h0.6M187.6,38.2h0.6M201.5,26.9h0.6M175.2,33.9h0.6M208.2,20.2h0.6M185.4,36.2h0.6M170.3,34.8h0.6M204.2,36.6h0.6M198.3,32.9h0.6M193.5,26.8h0.6M217.6,35.0h0.6M178.8,31.3h0.6M200.2,38.0h0.6M195.7,38.4h0.6M211.1,22.8h0.6M183.3,21.2h0.6M193.0,30.6h0.6M214.4,34.0h0.6M214.5,25.8h0.6M183.2,34.9h0.6M241.6,31.8h0.6M195.8,34.5h0.6M219.1,32.5h0.6M207.2,30.5h0.6M186.6,28.4h0.6M216.1,29.8h0.6M213.4,35.4h0.6M223.8,17.4h0.6M176.4,25.9h0.6M196.0,37.7h0.6M233.1,35.2h0.6M190.6,36.1h0.6M200.2,36.6h0.6M174.9,26.6h0.6M184.3,32.7h0.6" stroke="#999" stroke-width="0.6" fill="none" opacity="1"/>
<rect x="162.3" y="38.8" width="44" height="30.8" fill="#505050"/>
<rect x="206.3" y="42.6" width="24.2" height="25.6" fill="#7c7c7c"/>
<path d="M185.5,40.1h0.7M185.5,42.7h0.7M193.9,41.3h0.7M193.5,43.8h0.7M181.7,39.7h0.7M171.4,45.9h0.7M177.1,39.8h0.7M172.2,41.8h0.7M186.4,42.2h0.7M173.2,41.8h0.7M164.8,43.2h0.7M164.6,40.1h0.7M182.1,39.9h0.7M189.1,42.3h0.7M172.8,43.4h0.7M172.8,40.7h0.7M176.3,42.3h0.7M169.9,42.7h0.7M197.2,45.0h0.7M172.5,42.9h0.7M165.7,40.2h0.7M175.1,46.3h0.7M189.1,41.9h0.7M184.4,40.8h0.7M187.0,41.9h0.7M184.7,40.6h0.7M191.7,41.1h0.7M181.7,39.5h0.7M190.9,43.6h0.7M165.4,42.8h0.7M172.9,47.5h0.7M171.3,45.0h0.7M185.3,39.8h0.7M166.8,44.5h0.7M203.1,40.9h0.7M187.9,41.4h0.7M198.4,42.6h0.7M174.6,42.8h0.7M173.9,41.3h0.7M163.8,40.0h0.7M172.2,44.3h0.7M204.8,39.9h0.7M182.9,40.1h0.7M190.5,42.7h0.7M191.8,42.9h0.7M190.9,40.5h0.7M180.6,41.6h0.7M179.2,41.9h0.7M166.7,40.6h0.7M168.9,39.7h0.7M167.2,41.5h0.7M197.4,41.7h0.7M172.3,39.9h0.7M170.1,41.1h0.7M176.5,45.2h0.7M187.7,40.9h0.7M194.9,41.1h0.7M167.4,43.8h0.7M203.5,44.2h0.7M173.5,42.9h0.7M198.7,47.0h0.7M198.5,42.3h0.7M186.9,40.5h0.7M179.9,41.6h0.7M191.8,40.3h0.7M166.0,40.1h0.7M178.7,45.8h0.7M196.5,41.3h0.7M191.5,40.3h0.7M165.8,43.5h0.7M182.1,45.1h0.7M175.9,40.0h0.7M185.4,40.5h0.7M184.0,41.8h0.7M167.4,40.6h0.7M189.9,45.9h0.7M199.6,41.5h0.7M172.0,40.3h0.7M195.2,39.7h0.7M186.5,43.5h0.7M165.8,39.5h0.7M187.0,41.0h0.7M178.1,39.7h0.7M179.0,45.7h0.7M180.7,41.2h0.7M178.0,41.4h0.7M169.3,41.8h0.7M181.6,42.0h0.7M177.4,39.8h0.7M182.9,43.8h0.7M194.1,40.8h0.7M172.7,43.7h0.7M188.5,43.2h0.7M198.1,43.2h0.7M200.9,43.6h0.7M195.2,43.6h0.7M187.0,43.7h0.7M200.4,40.9h0.7M174.6,42.6h0.7M180.3,45.0h0.7M195.9,41.0h0.7M195.9,40.0h0.7M184.3,43.3h0.7M185.8,40.9h0.7M173.7,43.8h0.7M186.2,41.0h0.7M196.6,41.6h0.7M199.3,41.5h0.7M172.8,39.7h0.7M194.6,40.4h0.7M177.7,45.5h0.7M192.1,41.0h0.7M165.8,45.9h0.7M175.6,41.0h0.7M173.3,44.4h0.7M182.8,39.8h0.7M163.5,40.6h0.7M182.7,41.5h0.7M176.1,46.8h0.7M176.9,40.9h0.7M172.0,43.0h0.7M196.6,41.1h0.7M199.7,43.7h0.7M182.1,39.7h0.7M187.0,41.1h0.7M168.4,40.8h0.7M185.0,40.0h0.7M179.6,41.1h0.7M196.5,40.7h0.7M186.4,40.8h0.7M173.4,43.1h0.7M185.6,40.9h0.7M172.3,41.5h0.7M198.7,41.0h0.7M168.7,45.7h0.7M186.4,41.5h0.7M176.9,42.2h0.7M204.2,42.2h0.7M187.0,45.0h0.7M182.9,44.3h0.7M170.0,42.3h0.7M199.0,45.2h0.7M185.9,42.8h0.7M174.4,40.9h0.7M173.6,44.1h0.7M179.6,41.1h0.7M185.5,41.9h0.7M184.1,44.8h0.7M182.2,41.4h0.7M178.2,41.0h0.7M179.1,43.5h0.7M180.3,41.2h0.7M179.3,42.9h0.7M172.6,43.4h0.7M171.0,42.8h0.7M191.7,41.0h0.7M188.2,45.6h0.7M186.3,40.2h0.7M190.4,42.5h0.7M175.6,41.7h0.7M204.3,43.0h0.7M187.0,43.1h0.7M189.7,45.9h0.7M178.7,44.4h0.7M174.6,41.8h0.7M188.5,42.6h0.7M170.5,40.7h0.7M180.5,42.5h0.7M193.2,42.1h0.7M189.6,42.0h0.7M187.0,41.2h0.7M204.1,43.2h0.7M181.3,44.5h0.7M165.7,40.6h0.7M195.2,40.1h0.7M164.4,39.8h0.7M183.3,45.5h0.7M184.5,45.0h0.7M163.2,41.2h0.7M196.2,40.0h0.7M177.7,41.5h0.7M177.3,42.1h0.7M173.9,41.1h0.7M188.2,43.5h0.7M169.1,43.5h0.7M164.4,40.5h0.7M182.1,41.4h0.7M177.1,43.4h0.7M168.9,44.9h0.7M188.5,41.0h0.7M184.2,43.4h0.7M167.3,42.5h0.7M196.8,40.4h0.7M204.2,42.7h0.7M163.9,43.7h0.7M172.5,46.7h0.7M171.3,42.5h0.7M188.9,39.9h0.7M177.6,44.0h0.7M187.9,40.8h0.7M187.0,45.5h0.7M194.7,42.2h0.7M182.1,39.7h0.7M179.6,42.5h0.7M174.9,41.0h0.7M196.8,45.5h0.7M190.7,43.4h0.7M172.5,41.2h0.7M177.0,46.8h0.7M200.6,40.0h0.7M186.1,42.7h0.7M192.5,43.4h0.7M164.6,39.6h0.7M171.3,41.3h0.7M169.0,45.6h0.7M186.0,40.9h0.7M166.6,42.8h0.7M178.9,45.3h0.7M187.2,40.2h0.7M194.0,42.8h0.7M185.1,42.9h0.7M182.4,41.0h0.7M174.5,40.3h0.7M190.1,40.2h0.7M188.3,39.7h0.7M186.5,41.3h0.7M194.1,42.2h0.7M194.7,40.6h0.7M179.1,40.3h0.7M197.2,43.0h0.7M166.6,41.8h0.7M185.5,41.8h0.7M191.8,41.7h0.7M200.1,44.2h0.7M201.6,40.9h0.7M188.2,42.2h0.7M195.1,43.6h0.7M182.2,41.0h0.7M192.3,40.7h0.7M177.1,46.2h0.7M201.7,44.0h0.7M178.6,40.8h0.7M188.6,42.2h0.7M176.3,40.1h0.7M189.5,42.2h0.7M169.7,40.1h0.7M168.4,43.0h0.7M173.5,39.7h0.7M167.7,39.9h0.7M198.9,41.4h0.7M171.5,44.2h0.7M179.3,44.1h0.7M168.9,40.6h0.7M172.5,42.6h0.7M191.2,40.3h0.7M200.4,42.6h0.7M188.2,43.1h0.7M173.6,40.4h0.7M182.5,43.0h0.7M202.4,41.7h0.7M176.5,43.8h0.7M197.1,39.8h0.7M194.9,41.0h0.7M187.2,44.4h0.7M183.4,41.3h0.7M197.1,41.6h0.7M187.9,41.4h0.7M192.8,44.5h0.7M195.2,42.5h0.7M199.8,45.1h0.7M179.4,40.7h0.7M198.8,42.3h0.7M201.3,40.0h0.7M185.4,40.1h0.7M171.0,40.2h0.7M175.5,42.3h0.7M175.2,41.2h0.7M173.4,41.1h0.7M199.8,40.7h0.7M169.1,44.4h0.7M177.3,43.7h0.7M190.1,43.5h0.7M176.8,40.2h0.7M174.3,47.9h0.7M177.0,45.4h0.7M177.7,42.0h0.7M180.9,40.2h0.7M169.9,40.8h0.7M177.2,39.7h0.7M168.5,45.7h0.7M164.9,43.2h0.7M194.7,41.3h0.7M197.1,45.3h0.7M174.1,45.6h0.7M179.5,43.7h0.7M175.9,41.8h0.7M184.4,40.3h0.7M164.7,44.1h0.7M179.4,42.8h0.7M192.7,40.6h0.7M172.5,40.9h0.7M176.0,41.8h0.7M173.9,46.9h0.7M183.7,40.2h0.7M202.0,39.9h0.7M167.1,42.8h0.7M179.0,41.3h0.7M176.5,40.2h0.7M168.1,43.2h0.7M190.4,40.7h0.7M176.2,40.3h0.7M194.8,44.7h0.7M186.3,43.1h0.7M165.6,45.6h0.7M185.6,41.0h0.7M193.2,41.9h0.7M170.0,43.0h0.7M176.7,44.1h0.7M171.3,41.2h0.7M191.5,43.5h0.7M201.6,45.1h0.7M202.2,42.1h0.7M187.6,42.6h0.7M164.7,42.1h0.7M164.1,42.8h0.7M172.4,47.3h0.7M183.1,42.3h0.7M165.8,40.3h0.7M179.2,40.3h0.7M192.1,40.0h0.7M167.2,41.9h0.7M167.3,40.6h0.7M173.9,41.5h0.7M186.9,41.9h0.7M184.1,42.5h0.7M189.8,40.0h0.7M180.3,42.7h0.7M194.9,44.1h0.7M169.3,40.1h0.7M192.8,42.3h0.7M194.6,40.2h0.7M175.6,40.1h0.7M169.2,42.8h0.7M167.8,40.8h0.7M182.1,42.3h0.7M181.9,40.5h0.7M172.0,41.7h0.7M167.8,40.4h0.7M203.3,44.6h0.7M174.3,44.3h0.7M174.9,45.8h0.7M185.9,44.6h0.7M166.6,40.2h0.7M196.2,42.4h0.7M183.0,42.6h0.7M170.2,45.4h0.7M182.5,44.7h0.7M186.5,41.2h0.7M193.8,42.9h0.7M194.8,40.1h0.7M164.4,40.0h0.7M175.2,41.0h0.7M172.5,42.7h0.7M194.4,46.6h0.7M181.3,41.6h0.7M177.3,40.8h0.7M189.5,41.2h0.7M203.5,40.8h0.7M177.4,40.9h0.7M197.9,40.2h0.7M182.9,40.4h0.7M183.4,43.6h0.7M198.8,42.6h0.7M184.8,45.0h0.7M191.3,44.5h0.7M192.7,40.3h0.7M177.5,46.7h0.7M164.4,45.1h0.7M182.9,40.5h0.7M197.8,41.2h0.7M205.2,43.9h0.7M181.3,42.4h0.7M164.0,41.6h0.7M177.1,39.8h0.7M175.6,41.9h0.7M196.7,42.8h0.7M190.8,45.0h0.7M186.5,39.7h0.7M170.2,43.7h0.7M169.7,45.9h0.7M167.0,42.7h0.7M183.0,43.9h0.7M175.2,44.2h0.7M190.5,40.5h0.7M190.0,41.7h0.7M197.9,45.2h0.7M175.3,40.9h0.7M177.4,44.1h0.7M186.3,43.0h0.7M182.3,44.5h0.7M194.7,43.0h0.7M175.9,40.1h0.7M166.9,40.3h0.7M184.2,42.5h0.7M195.4,42.0h0.7M176.3,43.9h0.7M176.2,44.6h0.7M167.2,43.1h0.7M195.0,45.3h0.7M187.4,42.9h0.7M181.3,41.7h0.7M180.0,40.7h0.7M190.7,42.7h0.7M195.6,42.5h0.7M165.1,44.5h0.7M185.4,39.7h0.7M186.8,43.0h0.7M182.0,42.7h0.7M183.2,40.0h0.7M172.0,39.6h0.7" stroke="#8a8a8a" stroke-width="0.7" fill="none" opacity="1"/>
<path d="M179.2,50.3h0.7M180.7,47.6h0.7M191.5,63.2h0.7M184.0,56.6h0.7M172.1,50.6h0.7M181.3,51.0h0.7M168.2,59.3h0.7M184.0,54.9h0.7M173.2,57.6h0.7M174.8,54.7h0.7M186.8,63.6h0.7M194.5,53.3h0.7M200.7,49.1h0.7M181.9,68.1h0.7M179.3,55.1h0.7M167.7,56.9h0.7M178.5,52.2h0.7M200.5,52.0h0.7M192.9,53.5h0.7M177.3,42.6h0.7M187.9,55.9h0.7M189.5,52.8h0.7M190.8,46.5h0.7M201.7,55.3h0.7M182.0,46.1h0.7M170.7,63.5h0.7M174.3,57.7h0.7M196.3,47.8h0.7M177.7,49.1h0.7M165.4,52.7h0.7M199.1,58.4h0.7M193.3,57.0h0.7M178.5,58.7h0.7M192.4,42.6h0.7M173.4,64.3h0.7M200.7,54.9h0.7M181.2,54.5h0.7M195.0,58.2h0.7M204.5,67.2h0.7M180.0,53.3h0.7M181.0,51.2h0.7M178.5,57.5h0.7M196.2,45.8h0.7M165.3,52.0h0.7M180.1,61.5h0.7M177.1,56.3h0.7M184.9,67.1h0.7M188.2,58.2h0.7M176.9,59.3h0.7M189.6,55.3h0.7M183.9,43.8h0.7M177.0,67.2h0.7M203.4,57.4h0.7M178.6,65.8h0.7M175.8,68.6h0.7M199.8,49.8h0.7M181.2,48.6h0.7M187.9,54.9h0.7M163.9,49.9h0.7M187.5,46.2h0.7M198.8,61.5h0.7M181.7,68.9h0.7M171.7,63.3h0.7M165.9,55.5h0.7M192.8,53.9h0.7M182.6,63.0h0.7M204.7,68.1h0.7M190.4,56.0h0.7M195.9,57.7h0.7M193.7,60.5h0.7M181.5,58.0h0.7M183.6,67.1h0.7M180.6,53.8h0.7M193.0,63.0h0.7M190.0,60.2h0.7M204.0,66.7h0.7M187.0,56.4h0.7M193.0,43.5h0.7M177.1,52.5h0.7M186.5,55.0h0.7M184.1,55.5h0.7M200.7,64.4h0.7M196.6,67.4h0.7M179.2,52.9h0.7M174.4,58.8h0.7M197.6,49.8h0.7M176.9,47.6h0.7M187.1,48.5h0.7M170.3,53.0h0.7M184.6,48.1h0.7M181.1,67.5h0.7M184.3,58.8h0.7M182.2,52.6h0.7M165.5,57.4h0.7M170.4,53.8h0.7M196.4,51.5h0.7M188.5,46.2h0.7M191.9,62.2h0.7M178.9,64.9h0.7M172.3,58.4h0.7M169.0,67.0h0.7M191.3,55.8h0.7M188.1,51.4h0.7M172.8,61.8h0.7M184.9,53.1h0.7M182.9,58.7h0.7M187.9,64.9h0.7M191.0,66.2h0.7M197.8,66.6h0.7M175.1,61.2h0.7M179.1,51.4h0.7M184.7,41.6h0.7M181.0,64.0h0.7M181.4,53.8h0.7M203.9,55.6h0.7M179.7,57.2h0.7M181.0,66.2h0.7M191.8,57.5h0.7M179.3,56.2h0.7M192.9,45.7h0.7M188.4,63.4h0.7M201.2,60.5h0.7M191.9,60.5h0.7M186.8,51.6h0.7M192.1,57.1h0.7M192.7,64.1h0.7M186.2,54.6h0.7M188.2,48.3h0.7M187.8,51.1h0.7M190.2,59.0h0.7M181.2,48.6h0.7M184.8,52.7h0.7M182.2,63.4h0.7M196.9,47.9h0.7M196.7,68.6h0.7M199.2,60.2h0.7M179.8,46.1h0.7M185.3,60.2h0.7M170.3,48.5h0.7M194.6,53.4h0.7M163.8,56.6h0.7M202.1,52.8h0.7M180.4,58.1h0.7M170.2,55.6h0.7M176.9,64.9h0.7M186.2,64.8h0.7M183.5,41.3h0.7M195.9,64.8h0.7M183.1,44.1h0.7M177.6,61.2h0.7M202.6,55.3h0.7M176.6,52.0h0.7M197.8,64.8h0.7M171.8,46.5h0.7M167.5,52.8h0.7M186.3,61.2h0.7M177.8,45.6h0.7M178.6,52.7h0.7M164.5,44.4h0.7M204.5,65.3h0.7M203.5,58.9h0.7M178.6,57.3h0.7M165.8,63.8h0.7M187.8,55.6h0.7M195.9,55.3h0.7M186.0,62.3h0.7M186.8,66.2h0.7M175.2,39.9h0.7M165.6,63.2h0.7M198.6,58.0h0.7M191.4,58.6h0.7M186.5,54.3h0.7M178.7,67.3h0.7M180.6,57.7h0.7M200.2,65.7h0.7M178.9,60.0h0.7M170.6,59.0h0.7M188.4,58.0h0.7M186.3,60.9h0.7M185.2,54.2h0.7M171.2,56.1h0.7M175.4,54.3h0.7M168.2,61.8h0.7M171.0,65.1h0.7M196.3,62.5h0.7M198.1,57.3h0.7M192.7,45.9h0.7M167.8,66.6h0.7M190.0,68.5h0.7M193.1,58.5h0.7M189.9,64.6h0.7M183.8,56.4h0.7M188.4,55.5h0.7M163.8,47.9h0.7M198.2,54.8h0.7M186.3,56.3h0.7M187.9,46.7h0.7M185.3,53.5h0.7M198.8,62.9h0.7M167.2,50.4h0.7M191.8,67.4h0.7M194.5,56.8h0.7M199.1,39.6h0.7M177.0,50.4h0.7M170.3,62.4h0.7M187.9,60.2h0.7M182.4,62.9h0.7M194.7,53.5h0.7M196.8,50.7h0.7M180.3,49.5h0.7M184.7,68.3h0.7M203.2,61.0h0.7M176.2,65.1h0.7M197.2,57.7h0.7M166.2,56.3h0.7M201.3,52.7h0.7M178.0,48.5h0.7M194.6,64.5h0.7M192.2,59.9h0.7M197.6,57.0h0.7M193.9,64.4h0.7M201.8,62.0h0.7M185.3,63.6h0.7M163.2,44.2h0.7M169.9,53.4h0.7M182.2,58.6h0.7M173.8,65.8h0.7M193.3,44.8h0.7M167.6,58.5h0.7M187.9,54.7h0.7M184.4,59.3h0.7M168.6,58.5h0.7M170.4,63.2h0.7M202.5,66.2h0.7M175.6,57.4h0.7M187.0,56.4h0.7M189.6,66.5h0.7M191.6,57.9h0.7M194.2,58.7h0.7M200.8,65.2h0.7M185.6,55.6h0.7M174.2,58.6h0.7M191.5,62.1h0.7M182.3,47.6h0.7M191.8,62.8h0.7M184.4,49.0h0.7M186.9,63.9h0.7M191.1,68.5h0.7M170.0,52.6h0.7M186.6,48.3h0.7M175.8,68.9h0.7M188.3,57.2h0.7M176.4,58.4h0.7M183.7,49.5h0.7M195.0,47.9h0.7M201.8,55.3h0.7M188.2,51.1h0.7M202.8,53.2h0.7M202.2,54.5h0.7M183.5,47.2h0.7M185.0,61.2h0.7M183.3,49.2h0.7M196.7,65.2h0.7M183.0,64.2h0.7M197.8,50.2h0.7M183.7,43.3h0.7M169.9,61.4h0.7M172.0,61.1h0.7M189.2,41.6h0.7M184.4,59.0h0.7M174.4,45.3h0.7M181.6,51.1h0.7M185.7,42.6h0.7M173.7,60.6h0.7M171.7,64.8h0.7M172.5,56.9h0.7M202.4,62.2h0.7M179.6,45.9h0.7M191.3,58.5h0.7M201.7,59.2h0.7M174.0,57.2h0.7M182.8,57.9h0.7M188.0,56.0h0.7M174.7,50.1h0.7M171.1,41.8h0.7M203.4,67.9h0.7M184.5,50.0h0.7M200.3,61.5h0.7M163.7,52.7h0.7M173.5,67.1h0.7M182.8,50.2h0.7M171.4,42.3h0.7M172.3,65.2h0.7M182.6,64.5h0.7M168.1,65.3h0.7M181.2,59.0h0.7M170.3,64.9h0.7M170.7,53.4h0.7M194.4,59.1h0.7M173.4,67.9h0.7" stroke="#383838" stroke-width="0.7" fill="none" opacity="1"/>
<path d="M217.7,67.1h0.7M210.8,56.4h0.7M214.0,55.0h0.7M222.9,65.7h0.7M220.0,60.2h0.7M217.0,59.1h0.7M213.6,61.6h0.7M217.5,57.2h0.7M210.5,64.6h0.7M210.5,55.4h0.7M219.2,63.3h0.7M219.2,60.3h0.7M217.7,61.7h0.7M214.7,65.0h0.7M208.6,63.4h0.7M207.3,52.7h0.7M215.5,62.5h0.7M218.6,64.8h0.7M219.0,66.0h0.7M220.5,67.1h0.7M224.8,55.1h0.7M216.7,64.3h0.7M222.8,57.5h0.7M214.2,60.1h0.7M212.9,61.3h0.7M213.0,53.1h0.7M213.8,62.3h0.7M211.3,44.2h0.7M209.1,58.7h0.7M220.5,61.1h0.7M207.2,64.4h0.7M221.8,61.4h0.7M218.3,58.0h0.7M225.5,60.5h0.7M210.3,53.0h0.7M229.1,56.0h0.7M207.2,61.0h0.7M222.6,62.3h0.7M213.9,62.1h0.7M220.0,61.8h0.7M215.1,61.6h0.7M209.1,55.4h0.7M210.9,62.2h0.7M219.8,54.6h0.7M216.7,56.5h0.7M213.0,53.9h0.7M225.3,58.8h0.7M209.2,65.2h0.7M222.6,63.3h0.7M216.3,61.2h0.7M221.1,57.9h0.7M225.2,61.9h0.7M211.7,53.8h0.7M210.9,63.2h0.7M222.8,53.9h0.7M213.1,58.6h0.7M208.7,66.4h0.7M217.7,60.3h0.7M214.9,57.1h0.7M213.6,57.8h0.7M211.1,57.7h0.7M215.7,56.3h0.7M213.9,62.5h0.7M220.8,58.3h0.7M219.3,58.9h0.7M220.9,61.6h0.7M212.1,52.7h0.7M209.2,66.0h0.7M209.7,65.4h0.7M216.3,55.8h0.7M210.3,58.7h0.7M215.3,51.9h0.7M207.9,66.0h0.7M215.0,65.7h0.7M220.0,56.3h0.7M214.2,62.4h0.7M208.3,67.1h0.7M211.5,65.5h0.7M213.6,57.3h0.7M213.4,53.7h0.7M212.7,62.9h0.7M218.9,56.7h0.7M208.7,58.6h0.7M226.4,56.2h0.7M213.2,61.6h0.7M208.8,58.4h0.7M212.0,65.5h0.7M217.2,62.6h0.7M218.0,60.9h0.7M212.4,66.7h0.7M209.8,58.4h0.7M212.1,59.5h0.7M222.9,63.8h0.7M213.4,59.4h0.7M223.9,64.2h0.7M228.6,66.6h0.7M212.5,59.2h0.7M212.0,62.9h0.7M219.6,64.4h0.7M225.0,54.4h0.7M214.2,54.9h0.7M209.4,57.1h0.7M211.8,66.8h0.7M209.8,66.4h0.7M210.1,64.0h0.7M217.0,67.3h0.7M214.5,59.5h0.7M209.5,62.3h0.7M207.6,56.0h0.7M214.9,65.6h0.7M212.0,66.2h0.7M225.1,55.6h0.7M215.8,57.2h0.7M209.5,62.9h0.7M219.9,64.7h0.7M211.4,67.5h0.7M224.2,64.5h0.7M211.9,53.9h0.7M213.6,65.8h0.7M212.2,61.1h0.7M224.3,58.9h0.7M207.4,62.2h0.7M221.9,65.0h0.7M214.5,59.5h0.7M222.7,66.4h0.7M218.3,58.8h0.7M210.4,53.1h0.7M226.7,62.9h0.7M210.1,62.9h0.7M219.5,57.0h0.7M213.3,53.8h0.7M219.9,63.5h0.7M214.3,63.2h0.7M216.8,64.3h0.7M212.9,62.2h0.7M208.7,61.3h0.7M216.0,62.9h0.7M218.1,66.1h0.7M217.9,66.8h0.7M218.4,58.9h0.7M222.8,65.7h0.7M214.3,56.3h0.7M217.1,60.2h0.7M211.2,51.3h0.7M224.9,56.1h0.7M218.0,58.0h0.7M213.9,63.3h0.7M215.1,64.6h0.7M219.4,60.2h0.7M211.3,57.0h0.7M219.3,64.9h0.7M213.7,63.5h0.7M216.2,60.8h0.7M216.2,55.5h0.7M220.2,59.9h0.7M209.9,54.5h0.7M213.1,61.1h0.7M209.5,54.2h0.7M215.1,64.1h0.7M222.0,64.6h0.7M213.3,56.7h0.7M217.0,66.8h0.7M218.8,59.2h0.7M224.2,63.1h0.7M210.1,55.3h0.7M218.2,53.4h0.7M212.4,60.1h0.7M212.5,55.6h0.7M227.7,58.6h0.7M214.0,55.7h0.7M218.8,63.0h0.7M212.0,60.0h0.7M210.0,58.4h0.7M220.3,55.0h0.7M211.8,60.7h0.7M215.7,61.1h0.7M221.6,66.9h0.7M212.4,59.2h0.7M216.5,56.6h0.7M221.5,51.5h0.7M213.0,60.0h0.7M211.2,64.3h0.7M210.3,62.7h0.7M210.8,62.4h0.7M213.3,58.6h0.7M217.1,61.1h0.7M207.2,56.7h0.7M217.2,67.2h0.7M219.0,56.1h0.7M214.2,66.5h0.7M215.7,60.9h0.7M213.5,62.2h0.7M208.4,63.2h0.7M211.8,62.5h0.7M225.5,66.6h0.7M214.3,58.7h0.7M212.8,63.8h0.7M210.5,67.5h0.7M214.1,56.1h0.7M228.4,47.4h0.7M212.1,61.4h0.7M220.9,67.6h0.7M216.2,62.6h0.7M221.2,61.9h0.7M218.7,65.1h0.7M216.2,54.5h0.7M217.3,67.0h0.7M217.7,60.4h0.7M215.6,62.0h0.7M211.2,56.8h0.7M221.8,65.8h0.7M212.4,56.9h0.7M211.3,55.9h0.7M213.5,49.8h0.7M215.9,58.3h0.7M219.0,59.5h0.7M222.9,60.2h0.7M228.3,60.2h0.7M215.3,57.3h0.7M216.5,57.1h0.7M217.9,59.9h0.7M210.1,61.6h0.7M216.8,65.6h0.7M222.7,63.9h0.7M208.9,58.6h0.7M216.6,56.0h0.7M212.8,60.1h0.7M213.3,62.9h0.7M220.2,67.1h0.7M223.1,55.2h0.7M214.4,58.0h0.7M210.0,67.4h0.7M215.8,60.1h0.7M222.1,57.3h0.7M208.0,59.2h0.7M208.7,65.5h0.7M212.4,56.7h0.7M210.8,52.0h0.7M215.2,62.5h0.7M218.3,60.8h0.7M216.8,57.3h0.7M214.2,62.8h0.7M215.0,62.3h0.7M214.0,58.2h0.7M208.0,65.0h0.7M212.5,58.0h0.7M208.9,66.7h0.7M214.6,67.3h0.7M213.9,56.1h0.7M220.1,63.6h0.7M209.4,60.4h0.7M207.2,66.2h0.7M211.1,64.4h0.7M215.8,60.7h0.7M216.6,60.8h0.7M218.6,59.1h0.7M218.3,63.2h0.7M220.8,57.3h0.7M214.2,57.0h0.7M217.4,65.9h0.7M208.5,51.8h0.7M221.7,66.5h0.7M212.7,65.1h0.7M210.4,51.3h0.7M211.8,62.9h0.7M215.9,58.4h0.7M212.4,56.3h0.7M212.4,62.4h0.7M217.0,56.2h0.7M214.5,62.0h0.7M227.4,65.4h0.7M219.4,67.3h0.7M213.1,66.9h0.7M208.3,62.9h0.7M212.0,60.5h0.7M217.3,61.6h0.7M215.0,66.0h0.7M208.6,66.4h0.7M216.7,60.7h0.7M213.7,66.7h0.7M215.3,56.4h0.7M220.0,64.0h0.7M217.0,57.1h0.7M223.8,63.8h0.7M212.7,59.8h0.7M209.0,67.2h0.7M209.0,64.9h0.7M223.6,58.5h0.7M220.3,62.0h0.7M207.5,63.0h0.7M218.5,58.5h0.7M212.1,59.2h0.7M208.6,61.0h0.7M219.7,59.5h0.7M222.7,60.1h0.7M209.2,67.3h0.7M223.8,58.8h0.7M218.1,56.2h0.7M211.2,60.1h0.7M218.9,55.8h0.7M210.4,58.6h0.7M214.7,55.9h0.7M215.5,54.5h0.7M219.8,55.5h0.7M222.7,57.8h0.7M228.1,65.0h0.7M218.6,56.1h0.7M221.0,62.7h0.7M208.2,67.4h0.7M219.8,58.9h0.7M214.9,62.5h0.7M218.0,57.2h0.7M212.4,62.4h0.7M214.2,62.1h0.7M215.7,61.1h0.7M210.5,67.1h0.7M209.6,60.4h0.7M207.9,56.3h0.7M217.1,61.8h0.7M213.1,64.2h0.7" stroke="#5a5a5a" stroke-width="0.7" fill="none" opacity="1"/>
<path d="M218.6,50.7h0.7M217.9,54.5h0.7M213.3,45.4h0.7M224.4,43.6h0.7M214.4,51.8h0.7M214.9,48.5h0.7M219.3,47.5h0.7M208.7,51.8h0.7M226.5,51.5h0.7M219.3,48.6h0.7M218.6,45.7h0.7M212.2,45.1h0.7M219.3,46.1h0.7M223.6,46.2h0.7M218.6,44.2h0.7M211.7,49.7h0.7M219.0,45.8h0.7M225.7,45.8h0.7M223.4,46.5h0.7M227.6,51.8h0.7M220.5,52.3h0.7M224.0,54.1h0.7M221.7,48.9h0.7M217.1,47.2h0.7M213.4,47.8h0.7M211.2,47.7h0.7M226.8,46.1h0.7M228.5,47.6h0.7M225.2,51.9h0.7M212.1,48.2h0.7M221.4,45.0h0.7M225.4,47.5h0.7M216.8,55.4h0.7M221.3,54.4h0.7M218.8,52.1h0.7M214.1,48.6h0.7M224.2,46.9h0.7M228.5,48.7h0.7M217.4,45.2h0.7M217.6,48.9h0.7M209.5,52.1h0.7M217.9,50.3h0.7M217.6,46.5h0.7M214.8,49.2h0.7M223.2,44.1h0.7M217.5,52.2h0.7M226.8,47.6h0.7M208.8,46.6h0.7M214.3,52.9h0.7M207.9,45.8h0.7M208.9,45.3h0.7M216.5,49.4h0.7M215.4,50.7h0.7M211.0,47.3h0.7M219.2,46.6h0.7M229.0,52.5h0.7M225.2,44.8h0.7M215.3,51.5h0.7M221.1,43.6h0.7M212.7,46.0h0.7M210.7,45.9h0.7M228.2,51.1h0.7M225.4,46.7h0.7M220.9,45.0h0.7M218.5,44.8h0.7M208.6,44.1h0.7M214.1,47.6h0.7M216.4,52.8h0.7M219.7,45.5h0.7M225.2,49.2h0.7M214.6,45.0h0.7M212.8,51.9h0.7M226.7,52.4h0.7M216.5,45.7h0.7M217.8,46.1h0.7M222.9,54.3h0.7M214.1,45.4h0.7M217.6,45.5h0.7M227.3,47.8h0.7M222.2,50.8h0.7M215.5,48.1h0.7M221.0,54.5h0.7M209.5,51.4h0.7M219.5,52.6h0.7M220.3,48.7h0.7M225.0,45.1h0.7M214.8,57.0h0.7M213.2,51.6h0.7M225.2,51.2h0.7M220.3,49.3h0.7M227.9,52.2h0.7M212.6,46.9h0.7M218.7,45.3h0.7M213.5,45.4h0.7M228.9,53.3h0.7M225.8,54.6h0.7M220.6,43.7h0.7M214.8,48.8h0.7M227.9,52.7h0.7M212.9,51.7h0.7M215.7,50.3h0.7M227.0,53.8h0.7M215.8,48.9h0.7M223.2,46.3h0.7M220.6,50.3h0.7M207.1,45.5h0.7M212.4,50.0h0.7M225.2,49.7h0.7M224.5,45.6h0.7M223.9,46.9h0.7M217.7,50.8h0.7M229.8,48.6h0.7M214.8,47.1h0.7M219.4,53.7h0.7M226.6,54.2h0.7M225.8,45.0h0.7M227.1,51.8h0.7M218.9,49.8h0.7M219.2,51.0h0.7M213.7,52.3h0.7M221.6,52.4h0.7M214.0,46.3h0.7M212.1,44.9h0.7M223.9,48.5h0.7M216.1,49.2h0.7M209.7,46.5h0.7M209.3,43.7h0.7M229.7,45.7h0.7M224.7,43.5h0.7M215.7,48.9h0.7M207.4,48.8h0.7M218.9,48.6h0.7M211.1,50.2h0.7M220.8,45.1h0.7M225.6,55.3h0.7M216.0,47.1h0.7M223.3,57.9h0.7M224.3,48.8h0.7M210.0,44.6h0.7M220.7,49.2h0.7M212.8,47.1h0.7M213.6,50.4h0.7M224.8,45.8h0.7M216.2,56.6h0.7M219.8,51.4h0.7M224.4,53.8h0.7M217.3,44.4h0.7M228.0,51.6h0.7M214.7,52.3h0.7M219.8,47.8h0.7M222.3,46.7h0.7M221.4,52.2h0.7M223.4,45.0h0.7M223.4,47.5h0.7M222.3,47.2h0.7M208.1,56.0h0.7M225.3,46.2h0.7M221.8,51.9h0.7M227.4,45.9h0.7M215.4,48.8h0.7M217.5,56.1h0.7M218.8,56.5h0.7M219.9,48.2h0.7M216.5,57.2h0.7M212.9,49.4h0.7M217.2,45.0h0.7M224.0,49.6h0.7M219.6,50.6h0.7M213.7,46.5h0.7M223.5,56.0h0.7M219.6,48.2h0.7M228.9,48.7h0.7M212.7,44.6h0.7M223.2,55.5h0.7M213.2,51.7h0.7M208.0,51.6h0.7M222.8,50.5h0.7M210.4,49.5h0.7M227.2,47.8h0.7M227.9,48.1h0.7M222.6,46.7h0.7M209.3,47.4h0.7M223.8,45.0h0.7M213.9,52.9h0.7M216.4,44.5h0.7M218.4,44.4h0.7M220.4,49.8h0.7M215.4,47.2h0.7M218.7,51.3h0.7M214.2,51.0h0.7M229.7,47.2h0.7M212.3,46.8h0.7M210.5,47.3h0.7M217.0,50.1h0.7M220.8,49.7h0.7M219.5,49.1h0.7M211.0,50.6h0.7M209.3,49.7h0.7M207.1,51.0h0.7M218.3,46.2h0.7M214.0,47.1h0.7M219.8,44.2h0.7M220.3,49.0h0.7M224.0,47.8h0.7M219.8,57.2h0.7M227.8,49.3h0.7M209.0,50.5h0.7M218.6,49.5h0.7M220.2,48.4h0.7M218.7,53.5h0.7M222.9,46.9h0.7M218.1,56.3h0.7M213.1,45.9h0.7M222.4,48.6h0.7M222.3,53.4h0.7M228.8,49.7h0.7M220.2,47.8h0.7M218.1,52.0h0.7M209.9,43.8h0.7M216.3,44.2h0.7" stroke="#aaa" stroke-width="0.7" fill="none" opacity="1"/>
<g clip-path="url(#clBlow)">
<ellipse cx="194" cy="82.5" rx="22" ry="11.5" fill="#000" filter="url(#b3)"/>
<ellipse cx="192" cy="82" rx="21" ry="12" fill="#000" filter="url(#b15)"/>
<ellipse cx="184" cy="91.5" rx="14" ry="3.4" fill="#000" filter="url(#b06)"/>
<ellipse cx="247" cy="73" rx="15" ry="6" fill="#888" opacity="0.5" transform="rotate(-42 247 73)" filter="url(#b3)"/>
<path d="M192.9,91.1h0.9M170.6,85.9h0.9M184.4,78.9h0.9M195.3,72.6h0.9M181.9,81.6h0.9M198.0,90.3h0.9M231.2,78.5h0.9M192.0,78.6h0.9M210.7,88.9h0.9M189.7,85.0h0.9M203.4,90.7h0.9M197.8,79.2h0.9M191.2,69.8h0.9M207.8,87.1h0.9M220.5,83.3h0.9M197.0,73.2h0.9M186.7,74.9h0.9M208.8,81.8h0.9M169.9,80.1h0.9M199.6,72.1h0.9M203.5,85.5h0.9M188.5,69.5h0.9M199.0,83.2h0.9M200.0,94.1h0.9M206.0,72.5h0.9M215.3,75.5h0.9M214.0,81.8h0.9M222.1,72.5h0.9M214.5,84.6h0.9M190.4,87.0h0.9M237.4,84.0h0.9M192.5,79.7h0.9M223.1,83.2h0.9M225.8,75.5h0.9M201.4,78.5h0.9M196.6,91.4h0.9M194.9,84.0h0.9M231.4,88.0h0.9M197.7,74.8h0.9M174.1,84.2h0.9M217.0,90.4h0.9M190.8,87.8h0.9M197.9,88.1h0.9M236.8,80.3h0.9M182.0,81.8h0.9M217.3,76.1h0.9M227.4,73.6h0.9M201.0,88.8h0.9M200.7,76.3h0.9M203.6,86.6h0.9M229.7,92.6h0.9M231.8,80.8h0.9M179.2,80.7h0.9M197.8,72.5h0.9M196.2,80.4h0.9M204.7,88.8h0.9M190.3,90.8h0.9M204.6,87.3h0.9M222.5,70.5h0.9M227.7,74.9h0.9M209.9,90.3h0.9M206.4,90.7h0.9M202.1,80.3h0.9M205.0,95.0h0.9M195.8,73.0h0.9M187.4,76.5h0.9M200.4,84.0h0.9M180.4,86.8h0.9M238.7,86.0h0.9M179.1,85.4h0.9M203.4,77.1h0.9M198.5,79.1h0.9M202.4,73.3h0.9M195.5,85.8h0.9M211.9,69.7h0.9M196.6,94.3h0.9M214.7,95.1h0.9M183.7,72.2h0.9M198.3,72.1h0.9M187.7,75.1h0.9M201.2,88.1h0.9M226.3,78.2h0.9M189.0,80.7h0.9M227.3,76.1h0.9M195.0,85.6h0.9M229.1,85.1h0.9M190.5,84.7h0.9M220.6,84.2h0.9M213.7,76.9h0.9M193.2,71.3h0.9M204.1,93.7h0.9M170.2,69.8h0.9M190.0,80.2h0.9M221.4,74.4h0.9M192.2,91.3h0.9M209.6,85.5h0.9M216.5,74.7h0.9M207.3,75.4h0.9M193.1,82.1h0.9M210.5,70.1h0.9M192.4,86.2h0.9M206.5,86.7h0.9M199.3,74.2h0.9M215.7,86.1h0.9M192.5,86.7h0.9M227.6,78.6h0.9M189.4,83.2h0.9M205.3,85.8h0.9M182.9,83.1h0.9M217.4,87.0h0.9M213.4,91.2h0.9M191.6,91.4h0.9M207.1,72.5h0.9M199.5,83.3h0.9M209.0,92.5h0.9M206.9,76.6h0.9M236.9,78.2h0.9M191.6,88.9h0.9M197.7,74.3h0.9M188.0,91.1h0.9M188.0,81.9h0.9M197.1,79.4h0.9M191.7,82.3h0.9M213.1,90.0h0.9M198.6,71.1h0.9M181.7,81.1h0.9M166.6,92.4h0.9M204.4,82.1h0.9M183.0,75.5h0.9M192.8,86.8h0.9M197.8,86.3h0.9M200.5,91.8h0.9M196.3,82.1h0.9M202.1,70.6h0.9M236.8,79.9h0.9M213.6,77.2h0.9M225.1,90.9h0.9M221.8,89.2h0.9M214.6,92.9h0.9M210.1,82.2h0.9M216.2,73.4h0.9M165.8,88.0h0.9M206.3,75.1h0.9M200.0,72.9h0.9M191.3,82.7h0.9M205.8,88.1h0.9M202.6,86.4h0.9M214.3,75.1h0.9M178.6,75.2h0.9M200.2,76.5h0.9M237.3,75.3h0.9M211.1,74.6h0.9M214.4,70.3h0.9M218.3,82.6h0.9M198.0,70.9h0.9M229.1,76.2h0.9M230.9,81.2h0.9M219.0,86.2h0.9M198.6,82.2h0.9M186.7,69.7h0.9M205.9,87.3h0.9M206.4,70.7h0.9M216.8,81.8h0.9M215.3,78.6h0.9M200.0,90.0h0.9M224.6,70.9h0.9M187.3,89.3h0.9M209.4,81.5h0.9M189.3,89.7h0.9M206.8,82.9h0.9M209.8,76.7h0.9M210.0,82.2h0.9M214.8,84.3h0.9M184.7,75.1h0.9M200.0,91.0h0.9M194.2,90.7h0.9M220.2,88.5h0.9M237.9,81.0h0.9M208.8,91.5h0.9M210.1,89.5h0.9M202.0,93.1h0.9M220.3,79.5h0.9M190.7,78.6h0.9M199.8,90.8h0.9M209.0,80.5h0.9M203.8,73.5h0.9M194.4,77.2h0.9M200.6,71.2h0.9M198.0,89.6h0.9M210.8,81.1h0.9M209.2,79.1h0.9M186.1,88.6h0.9M237.8,85.4h0.9M185.8,85.6h0.9M198.9,78.8h0.9M179.1,80.5h0.9M200.7,77.0h0.9M188.9,86.5h0.9M228.7,84.7h0.9M219.5,87.6h0.9M203.0,86.0h0.9M224.0,77.5h0.9M176.0,74.2h0.9M217.5,84.2h0.9M207.9,92.2h0.9M177.4,92.8h0.9M205.3,87.7h0.9M224.8,74.3h0.9M190.9,84.5h0.9M203.1,76.2h0.9M202.1,75.0h0.9M206.0,77.9h0.9M229.6,72.3h0.9M212.7,81.8h0.9M227.8,73.0h0.9M197.0,95.7h0.9M194.1,77.9h0.9M198.1,72.9h0.9M222.4,93.9h0.9M201.7,74.8h0.9M183.6,86.7h0.9M196.0,85.7h0.9M167.7,77.6h0.9M213.4,84.6h0.9M205.9,80.9h0.9M198.9,77.4h0.9M206.2,85.4h0.9M218.0,79.3h0.9M222.4,73.2h0.9M232.8,89.2h0.9M225.7,94.5h0.9M186.0,80.2h0.9M211.1,90.0h0.9M205.1,70.2h0.9M222.4,79.7h0.9M210.6,78.4h0.9M202.3,69.5h0.9M214.1,75.8h0.9M177.3,84.6h0.9M203.5,89.2h0.9M216.4,70.9h0.9M201.3,81.1h0.9M205.3,72.2h0.9M205.1,89.4h0.9M222.7,93.4h0.9M199.9,76.5h0.9M217.7,81.0h0.9M209.4,85.2h0.9M200.7,92.7h0.9M231.5,88.0h0.9M195.6,83.2h0.9M218.7,87.2h0.9M193.7,89.1h0.9M214.9,86.0h0.9M197.7,80.9h0.9M175.3,80.8h0.9M197.3,78.6h0.9M199.8,78.4h0.9M205.3,81.9h0.9M194.8,80.0h0.9M202.6,85.2h0.9M210.6,78.1h0.9M185.2,84.5h0.9M190.2,94.6h0.9M201.6,77.9h0.9M201.6,76.5h0.9M194.5,81.6h0.9M182.2,82.2h0.9M202.6,73.5h0.9M219.5,84.1h0.9M220.3,75.5h0.9M185.3,71.1h0.9M227.6,77.1h0.9M206.9,76.6h0.9M201.8,94.3h0.9M177.9,72.8h0.9M206.0,73.5h0.9M214.4,92.0h0.9M217.4,87.4h0.9M201.6,89.5h0.9M191.9,71.1h0.9M200.1,79.0h0.9M222.4,72.8h0.9M221.2,74.5h0.9M207.2,81.5h0.9M196.2,84.8h0.9M177.2,86.9h0.9M204.3,76.5h0.9M207.1,86.5h0.9M203.7,74.5h0.9M215.8,75.4h0.9M209.4,89.2h0.9M223.7,94.5h0.9M219.4,82.3h0.9M201.0,82.6h0.9M213.9,74.1h0.9M219.1,70.3h0.9M187.6,76.8h0.9M199.7,69.7h0.9M213.3,80.1h0.9M224.2,72.5h0.9M176.8,86.8h0.9M200.6,89.3h0.9M168.8,70.6h0.9M197.2,92.9h0.9M227.8,69.6h0.9M191.3,73.0h0.9M210.4,90.6h0.9M239.9,78.0h0.9M216.3,82.9h0.9M214.6,94.2h0.9M208.5,88.3h0.9M211.6,80.2h0.9M193.5,77.7h0.9M204.2,77.8h0.9M198.9,75.1h0.9M216.9,79.0h0.9M202.2,79.2h0.9M223.7,76.5h0.9M225.2,73.8h0.9M227.0,86.2h0.9M196.6,84.9h0.9M221.1,73.0h0.9M200.6,83.7h0.9M200.9,78.6h0.9M204.3,83.7h0.9M215.7,93.5h0.9M199.1,96.0h0.9M197.5,78.1h0.9M194.5,79.9h0.9M213.9,84.4h0.9M216.9,79.7h0.9M200.5,91.2h0.9M229.9,84.2h0.9M206.4,73.8h0.9M235.6,84.4h0.9M201.6,79.3h0.9M227.1,79.5h0.9M186.5,74.1h0.9M214.2,82.0h0.9M204.7,79.6h0.9M206.0,84.0h0.9M196.9,78.7h0.9M207.5,71.9h0.9M213.6,80.0h0.9M186.4,92.4h0.9M193.1,91.2h0.9M203.1,94.6h0.9M200.7,89.7h0.9M209.9,85.0h0.9M210.1,95.1h0.9M207.9,75.2h0.9M202.5,81.0h0.9M191.8,90.2h0.9M202.3,96.1h0.9M207.8,89.9h0.9M199.7,75.5h0.9M196.2,73.6h0.9M210.8,82.2h0.9M214.6,71.3h0.9M195.3,80.0h0.9M204.6,84.6h0.9M215.5,86.4h0.9M198.9,91.6h0.9M209.6,75.1h0.9M226.4,71.1h0.9M211.1,91.6h0.9M205.8,83.9h0.9M205.9,86.6h0.9M207.4,81.1h0.9M207.8,78.5h0.9M233.3,83.5h0.9M194.3,86.5h0.9M198.4,71.0h0.9M199.9,85.3h0.9M221.8,89.9h0.9M207.5,79.7h0.9M207.1,91.2h0.9M202.2,90.8h0.9M192.3,80.9h0.9M215.6,86.9h0.9M207.1,76.7h0.9M177.4,77.3h0.9M191.5,77.6h0.9M227.5,74.5h0.9M216.7,80.9h0.9M187.7,81.9h0.9M215.2,71.0h0.9M186.9,77.8h0.9M214.8,76.0h0.9M210.3,84.9h0.9M204.3,84.8h0.9M222.9,79.4h0.9M208.9,72.1h0.9M193.4,80.2h0.9M216.1,75.4h0.9M183.5,88.8h0.9M188.4,82.0h0.9M211.3,73.1h0.9M209.0,90.3h0.9M200.0,87.2h0.9M206.0,73.2h0.9M195.0,75.9h0.9M223.7,90.7h0.9M196.8,77.6h0.9M175.6,80.9h0.9M208.3,69.9h0.9M197.8,77.2h0.9M231.3,86.6h0.9M215.4,81.7h0.9M185.2,88.8h0.9M214.8,78.1h0.9M204.1,85.3h0.9M200.6,84.5h0.9M223.0,78.3h0.9M198.8,81.2h0.9M213.6,77.7h0.9M205.3,75.3h0.9M202.9,85.6h0.9M192.0,79.5h0.9M182.6,75.1h0.9M205.2,85.5h0.9M188.9,80.2h0.9M190.4,83.7h0.9M207.9,84.7h0.9M195.8,69.8h0.9M194.1,80.5h0.9M219.9,75.6h0.9M192.7,82.7h0.9M181.5,89.5h0.9M218.4,89.1h0.9M202.5,87.1h0.9M199.0,89.1h0.9M194.5,74.2h0.9M209.6,77.2h0.9M213.9,73.8h0.9M208.0,72.8h0.9M188.3,70.7h0.9M180.6,79.1h0.9M227.7,77.2h0.9M217.6,79.5h0.9M189.8,84.5h0.9M213.5,79.1h0.9M208.6,85.5h0.9M198.9,89.4h0.9M191.6,87.3h0.9M217.4,82.7h0.9M199.0,80.9h0.9M171.7,83.1h0.9M215.2,73.4h0.9M209.2,81.4h0.9M178.4,73.5h0.9M200.1,84.9h0.9M205.1,70.4h0.9M196.3,81.9h0.9M185.5,77.3h0.9M229.1,88.4h0.9M197.3,88.9h0.9M188.8,93.8h0.9M198.6,82.2h0.9M195.6,81.8h0.9M208.8,81.3h0.9M192.0,87.3h0.9M212.1,81.0h0.9M219.3,74.8h0.9M222.6,79.7h0.9M226.1,77.3h0.9M200.3,82.8h0.9M219.9,93.1h0.9M197.4,74.9h0.9M215.1,91.4h0.9M214.3,78.3h0.9M222.5,80.8h0.9M206.5,86.2h0.9M207.2,87.0h0.9M210.4,85.5h0.9M206.4,89.7h0.9M205.7,93.5h0.9M204.8,87.7h0.9M196.0,83.5h0.9M210.2,82.2h0.9M226.4,81.4h0.9M220.3,84.0h0.9M219.9,73.5h0.9M198.7,89.1h0.9M192.2,84.3h0.9M212.3,82.6h0.9M210.4,85.5h0.9M200.6,84.5h0.9M196.5,77.2h0.9M181.0,80.1h0.9M179.3,81.2h0.9M207.1,71.9h0.9M205.0,83.4h0.9M199.0,73.4h0.9M202.4,84.4h0.9M175.4,83.9h0.9M210.3,75.7h0.9M205.7,92.4h0.9M219.5,77.3h0.9M170.4,90.7h0.9M201.1,75.2h0.9M207.0,81.5h0.9M220.6,76.1h0.9M202.6,86.3h0.9M217.0,78.1h0.9M176.2,82.8h0.9M196.9,85.7h0.9M169.1,79.4h0.9M181.0,69.8h0.9M209.9,90.5h0.9M220.9,75.5h0.9M182.5,85.6h0.9M198.2,72.5h0.9M176.9,79.0h0.9M188.8,90.4h0.9M176.2,75.8h0.9M205.0,90.5h0.9M203.6,80.1h0.9M210.4,84.0h0.9M182.2,73.0h0.9M200.6,83.9h0.9M186.2,75.0h0.9M193.2,83.9h0.9M197.8,86.1h0.9M209.7,73.3h0.9M199.7,70.6h0.9M205.6,87.8h0.9M211.5,78.6h0.9M203.6,84.9h0.9M209.5,88.8h0.9M196.9,78.4h0.9M198.0,84.3h0.9M200.4,91.9h0.9M194.8,80.9h0.9M190.1,72.6h0.9M198.5,87.4h0.9M204.2,79.5h0.9M200.9,79.0h0.9M229.7,84.1h0.9M210.2,89.2h0.9M190.9,70.6h0.9M198.6,93.5h0.9M218.4,76.1h0.9M185.9,88.8h0.9M220.0,71.7h0.9M227.5,74.5h0.9M215.0,79.3h0.9M199.2,75.8h0.9M214.1,86.2h0.9M215.8,78.6h0.9M229.1,79.4h0.9M187.2,93.7h0.9M206.0,81.5h0.9M216.5,84.0h0.9M176.3,86.4h0.9M189.6,81.6h0.9M201.5,83.2h0.9M168.6,86.9h0.9M238.2,77.5h0.9M217.2,86.3h0.9M208.4,76.8h0.9M213.3,83.3h0.9M225.3,88.0h0.9M226.2,85.1h0.9M206.5,75.9h0.9M205.4,77.9h0.9M212.5,92.5h0.9M211.7,89.0h0.9M207.9,84.0h0.9M185.3,82.0h0.9M204.8,80.4h0.9M200.5,83.6h0.9M195.5,79.3h0.9M190.8,70.8h0.9M196.1,77.5h0.9M228.3,89.6h0.9M198.4,85.7h0.9M209.0,85.9h0.9M193.9,81.0h0.9M219.6,82.4h0.9M206.7,85.9h0.9M173.1,70.1h0.9M185.2,83.1h0.9M217.2,79.4h0.9M179.5,70.2h0.9M220.0,92.9h0.9M209.9,84.1h0.9M214.3,86.6h0.9M185.1,87.3h0.9M218.7,77.6h0.9M190.4,76.9h0.9M195.3,85.5h0.9M215.5,81.2h0.9M197.7,72.6h0.9M195.8,83.9h0.9M191.0,76.5h0.9M187.0,78.8h0.9M199.7,89.5h0.9M174.9,88.7h0.9M213.6,76.6h0.9M193.8,82.7h0.9M211.8,79.7h0.9M201.7,81.2h0.9M187.9,83.3h0.9M212.6,81.4h0.9M187.0,81.0h0.9M202.4,83.7h0.9M197.8,88.0h0.9M220.1,88.0h0.9M207.5,91.3h0.9M203.4,79.6h0.9M182.6,81.2h0.9M222.1,73.0h0.9M215.6,70.3h0.9M204.6,71.2h0.9M208.2,79.8h0.9M215.8,76.6h0.9M178.2,77.0h0.9M212.7,89.6h0.9M208.1,81.2h0.9M214.2,79.4h0.9M197.2,82.9h0.9M220.2,76.8h0.9M211.3,75.7h0.9M193.0,82.5h0.9M184.1,73.9h0.9M186.2,76.0h0.9M213.0,81.6h0.9M210.5,75.8h0.9M219.5,77.7h0.9M184.5,75.7h0.9M214.5,76.6h0.9M214.2,76.4h0.9M200.4,76.4h0.9M195.8,75.5h0.9M226.2,80.6h0.9M174.9,95.1h0.9M222.6,90.4h0.9M202.3,79.7h0.9M196.8,82.1h0.9M210.9,81.0h0.9M191.6,73.0h0.9M228.7,95.0h0.9M185.4,75.7h0.9M203.3,85.9h0.9M202.2,83.0h0.9M209.3,90.5h0.9M184.4,90.1h0.9M210.4,85.5h0.9M181.4,79.1h0.9M200.0,86.3h0.9M214.1,86.7h0.9M184.6,91.4h0.9M204.8,88.7h0.9M203.7,75.2h0.9M215.2,77.2h0.9M200.5,90.2h0.9M210.5,95.5h0.9M221.8,72.1h0.9M180.8,90.6h0.9M212.8,78.9h0.9M199.5,76.4h0.9M230.6,79.7h0.9M183.2,88.5h0.9M202.5,84.0h0.9M198.1,80.7h0.9M175.7,85.5h0.9M193.6,77.9h0.9M208.5,91.6h0.9M171.6,79.9h0.9M212.0,89.4h0.9M190.2,83.7h0.9M209.8,88.7h0.9M194.5,79.5h0.9M196.1,90.4h0.9M220.0,77.4h0.9M201.7,82.9h0.9M190.3,80.1h0.9M216.7,87.4h0.9M193.6,75.7h0.9M208.4,82.0h0.9M183.8,79.1h0.9M193.9,78.9h0.9M190.7,92.2h0.9M189.3,87.3h0.9M206.9,92.9h0.9M202.9,81.1h0.9M239.7,79.3h0.9M199.0,71.9h0.9M201.7,94.2h0.9M192.4,84.7h0.9M219.2,88.8h0.9M209.8,85.7h0.9M198.9,77.6h0.9M196.1,76.1h0.9M180.4,75.5h0.9M191.8,91.2h0.9M177.6,69.9h0.9M173.7,76.0h0.9M185.7,73.2h0.9M201.3,84.8h0.9M194.1,78.9h0.9M214.4,79.9h0.9M214.7,76.3h0.9M211.0,91.4h0.9M198.9,78.4h0.9M201.3,84.8h0.9M185.6,81.4h0.9M195.0,92.6h0.9M177.9,86.3h0.9M199.0,75.1h0.9M205.8,79.2h0.9M204.3,83.0h0.9M221.7,77.8h0.9M231.0,90.9h0.9M227.1,82.7h0.9M208.0,72.9h0.9M223.7,71.8h0.9M191.8,81.1h0.9M207.2,83.8h0.9M186.3,78.3h0.9M211.0,90.7h0.9M215.2,84.4h0.9M199.8,76.7h0.9M196.0,80.3h0.9M211.6,77.0h0.9M234.5,73.1h0.9M215.9,79.5h0.9M201.6,78.1h0.9M226.7,78.7h0.9M212.0,82.1h0.9M214.9,85.8h0.9M228.4,75.2h0.9M191.4,94.7h0.9M222.8,81.7h0.9M199.4,83.2h0.9M223.2,75.0h0.9M225.4,80.7h0.9M198.3,77.9h0.9M172.4,83.7h0.9M184.0,76.6h0.9M190.3,83.0h0.9M214.5,81.4h0.9M206.6,84.4h0.9M227.7,85.8h0.9M227.2,80.6h0.9M209.0,75.9h0.9M212.6,74.3h0.9M210.8,76.0h0.9M198.4,90.9h0.9M205.9,87.5h0.9M225.7,79.7h0.9M194.0,88.7h0.9M186.8,75.2h0.9M220.9,75.5h0.9M220.6,78.7h0.9M200.6,81.7h0.9M196.3,89.7h0.9M220.1,81.7h0.9M212.8,85.5h0.9M219.0,88.5h0.9M199.0,81.2h0.9M198.6,91.0h0.9M186.6,86.0h0.9M222.9,85.7h0.9M196.6,77.4h0.9M172.1,72.9h0.9M220.1,73.6h0.9M179.2,79.2h0.9M181.5,84.8h0.9M190.7,88.8h0.9M202.0,69.8h0.9M192.2,76.0h0.9M191.1,91.0h0.9M188.7,84.1h0.9M195.0,85.9h0.9M211.4,92.6h0.9M183.1,78.6h0.9M196.1,73.7h0.9M218.2,81.5h0.9M183.0,79.4h0.9M223.7,75.5h0.9M196.0,74.5h0.9M206.2,76.7h0.9M217.1,74.5h0.9M182.0,84.8h0.9M208.0,83.1h0.9M195.1,77.6h0.9M191.7,79.7h0.9M196.9,85.6h0.9M203.9,85.6h0.9M228.2,79.0h0.9M199.4,84.2h0.9M235.1,78.3h0.9M229.0,90.6h0.9M162.8,73.2h0.9M189.1,84.3h0.9M223.6,81.6h0.9M190.4,94.3h0.9M191.4,77.3h0.9M203.1,87.2h0.9M214.1,85.3h0.9M192.6,95.4h0.9M221.7,81.4h0.9M195.2,80.8h0.9M200.4,75.6h0.9M203.6,75.8h0.9M213.4,75.9h0.9M211.1,83.7h0.9M206.3,85.3h0.9M193.4,87.0h0.9M204.1,77.7h0.9M229.8,90.0h0.9M199.7,85.7h0.9M214.0,93.8h0.9M219.0,79.8h0.9M200.0,71.8h0.9M207.7,88.1h0.9M197.9,86.5h0.9M205.8,77.4h0.9M185.5,90.1h0.9M187.6,72.8h0.9M207.6,86.4h0.9M231.5,82.5h0.9M205.9,84.2h0.9M198.5,78.8h0.9M202.1,85.6h0.9M179.1,79.8h0.9M226.8,84.1h0.9M214.4,86.8h0.9M207.1,84.0h0.9M191.6,79.4h0.9M231.5,71.2h0.9M201.3,70.9h0.9M195.8,74.9h0.9M185.5,83.1h0.9M189.7,85.4h0.9M202.0,84.1h0.9M207.0,90.9h0.9M226.4,73.5h0.9M202.5,83.7h0.9M190.7,81.8h0.9M178.9,77.5h0.9M201.4,70.8h0.9M169.3,88.5h0.9M209.7,70.4h0.9M212.5,80.6h0.9M206.3,70.3h0.9M200.6,85.0h0.9M177.6,72.6h0.9M213.8,80.5h0.9M187.6,77.8h0.9M200.1,84.7h0.9M186.4,81.1h0.9M218.7,84.4h0.9M224.2,85.9h0.9M210.9,93.5h0.9M197.2,76.7h0.9M188.7,83.1h0.9M210.5,88.7h0.9M225.7,86.2h0.9M222.4,79.1h0.9M189.5,87.0h0.9M219.2,92.0h0.9M201.5,77.3h0.9M198.5,84.0h0.9M203.2,79.6h0.9M207.8,78.7h0.9M209.0,76.2h0.9M180.7,78.6h0.9M232.4,74.5h0.9M217.7,92.0h0.9M195.8,83.2h0.9M169.6,85.7h0.9M227.1,82.6h0.9M174.1,76.4h0.9M192.8,82.0h0.9M208.3,77.7h0.9M199.3,74.4h0.9M212.6,82.7h0.9M209.2,77.0h0.9M211.4,78.6h0.9M208.4,79.8h0.9M194.0,72.2h0.9M175.9,70.0h0.9M179.3,74.4h0.9M200.9,71.6h0.9M222.6,71.6h0.9M202.4,75.9h0.9M208.6,82.9h0.9M212.5,84.6h0.9M199.1,73.3h0.9M212.0,79.2h0.9M206.3,90.1h0.9M202.4,94.8h0.9M195.2,91.0h0.9M196.5,90.8h0.9M195.5,80.1h0.9M205.1,77.3h0.9M206.5,95.1h0.9M211.4,70.0h0.9M218.4,77.3h0.9M206.5,90.5h0.9M199.3,88.9h0.9M206.7,73.6h0.9M199.3,69.9h0.9M221.8,82.4h0.9M218.5,71.9h0.9M216.7,71.2h0.9M208.2,80.9h0.9M195.1,83.6h0.9M204.5,73.9h0.9M192.8,70.3h0.9M224.6,82.3h0.9M198.5,86.7h0.9M191.1,71.5h0.9M209.3,94.0h0.9M208.5,82.3h0.9M202.9,70.0h0.9M185.8,79.1h0.9M194.7,83.2h0.9M188.7,78.9h0.9M199.5,78.6h0.9M196.3,80.0h0.9M177.0,77.4h0.9M196.2,72.5h0.9M216.0,73.9h0.9M225.3,85.1h0.9M191.7,86.0h0.9M195.3,85.7h0.9M217.8,90.5h0.9M188.2,80.0h0.9M204.0,71.0h0.9M210.2,86.7h0.9M183.3,76.5h0.9M187.4,70.5h0.9M188.0,92.3h0.9M194.0,77.8h0.9M218.8,89.4h0.9M194.5,77.6h0.9M201.5,90.7h0.9M201.3,80.5h0.9M211.7,84.7h0.9M211.6,83.6h0.9M213.0,80.6h0.9M210.1,70.3h0.9M221.0,71.0h0.9M225.0,89.4h0.9M203.1,78.6h0.9M215.7,78.5h0.9M186.2,83.3h0.9M185.7,77.2h0.9M230.9,87.7h0.9M197.2,80.4h0.9M194.3,80.9h0.9M182.3,86.6h0.9M204.2,76.0h0.9M197.3,77.1h0.9M195.3,76.9h0.9M223.6,86.6h0.9M210.3,84.0h0.9M226.7,86.9h0.9M207.3,83.3h0.9M207.0,81.2h0.9M212.5,81.4h0.9M218.7,83.5h0.9M199.7,86.0h0.9M206.8,77.3h0.9M198.4,77.5h0.9M199.5,77.3h0.9M202.3,90.3h0.9M196.9,79.7h0.9M192.9,69.8h0.9M191.2,76.8h0.9M206.3,78.2h0.9M186.0,77.9h0.9M226.7,73.7h0.9M205.0,89.3h0.9M191.9,76.3h0.9M196.1,82.3h0.9M205.5,82.2h0.9M211.0,78.5h0.9M170.7,73.1h0.9M206.3,69.7h0.9M199.2,93.4h0.9M207.6,75.6h0.9M206.1,89.7h0.9M178.3,70.7h0.9M194.1,77.4h0.9M202.7,76.2h0.9M205.6,81.7h0.9M186.5,75.8h0.9M185.4,83.4h0.9M207.9,86.4h0.9M190.9,76.6h0.9M170.7,81.1h0.9M179.8,83.9h0.9M220.2,84.7h0.9M213.4,82.9h0.9M209.6,88.8h0.9M200.0,87.9h0.9M217.0,84.5h0.9M208.0,70.6h0.9M220.3,73.7h0.9M194.2,73.9h0.9M212.4,73.0h0.9M210.8,85.7h0.9M205.5,78.2h0.9M212.9,91.8h0.9M197.1,72.3h0.9M195.0,73.7h0.9M200.4,79.7h0.9M169.5,93.0h0.9M191.8,77.5h0.9M188.8,82.9h0.9M207.3,93.5h0.9M199.8,88.6h0.9M208.7,73.4h0.9M218.9,76.0h0.9M209.3,77.7h0.9M200.8,82.3h0.9M187.3,81.8h0.9M218.6,79.4h0.9M201.2,85.3h0.9M227.6,73.5h0.9M180.1,78.7h0.9M215.5,70.2h0.9M220.9,88.7h0.9M215.8,74.0h0.9M184.6,86.4h0.9M207.9,86.7h0.9M220.8,89.2h0.9M199.8,80.9h0.9M210.8,87.2h0.9M201.2,76.8h0.9M189.4,89.4h0.9M209.1,76.3h0.9M184.9,76.8h0.9M184.9,77.3h0.9M195.8,85.2h0.9M194.9,69.7h0.9M215.1,79.3h0.9M179.0,73.8h0.9M203.6,80.7h0.9M176.4,79.9h0.9M208.4,89.1h0.9M220.4,80.0h0.9M184.5,77.9h0.9M213.7,73.4h0.9M222.8,73.1h0.9M187.1,87.8h0.9M202.5,83.6h0.9M199.4,81.2h0.9M213.8,80.0h0.9M211.1,87.9h0.9M196.1,82.4h0.9M207.1,76.3h0.9M192.4,79.3h0.9M199.5,77.6h0.9M174.9,81.6h0.9M213.8,81.6h0.9M229.6,88.1h0.9M198.7,75.4h0.9M211.5,77.9h0.9M179.8,82.0h0.9M199.5,79.1h0.9M213.2,82.6h0.9M234.3,74.9h0.9M202.5,83.5h0.9M197.4,76.8h0.9M186.5,90.3h0.9M227.0,82.0h0.9M163.3,89.3h0.9M207.6,71.9h0.9M198.7,70.1h0.9M202.6,80.3h0.9M205.8,87.5h0.9M186.5,70.7h0.9M198.5,77.4h0.9M203.3,92.2h0.9M204.4,72.1h0.9M199.4,73.8h0.9M200.4,85.7h0.9M187.1,86.8h0.9M230.7,93.5h0.9M228.3,81.7h0.9M203.2,82.9h0.9M198.7,73.3h0.9M213.2,69.5h0.9M183.4,85.5h0.9M198.4,74.1h0.9M211.4,92.6h0.9M199.7,79.9h0.9M212.4,88.7h0.9M219.4,86.6h0.9M194.1,85.4h0.9M222.5,85.7h0.9M224.5,80.5h0.9M214.9,80.4h0.9M206.4,88.4h0.9M204.9,86.0h0.9M203.5,91.0h0.9M228.8,84.6h0.9M196.4,75.9h0.9M233.7,81.7h0.9M211.6,85.9h0.9M195.1,95.3h0.9M235.4,74.6h0.9M199.0,81.5h0.9M204.8,85.7h0.9M210.0,84.0h0.9M202.0,83.5h0.9M204.9,91.1h0.9M205.6,79.8h0.9M201.3,70.5h0.9M235.0,84.4h0.9M206.0,77.2h0.9M223.1,78.3h0.9M197.1,76.6h0.9M227.0,83.5h0.9M201.8,75.8h0.9M223.2,83.4h0.9M199.1,88.3h0.9M217.1,72.9h0.9M221.1,89.9h0.9M200.4,70.2h0.9M220.3,78.2h0.9M201.0,78.7h0.9M200.0,87.8h0.9M187.8,85.3h0.9M221.3,89.6h0.9M214.8,83.2h0.9M201.1,80.0h0.9M191.0,94.6h0.9M202.3,72.8h0.9M216.4,93.3h0.9M208.2,78.4h0.9M187.5,86.3h0.9M200.5,75.6h0.9M213.0,70.5h0.9M200.5,87.5h0.9M184.8,92.1h0.9M194.0,77.1h0.9M218.8,75.1h0.9M225.6,79.4h0.9M202.7,73.2h0.9M221.1,80.5h0.9M197.0,73.3h0.9M194.7,80.2h0.9M193.5,87.5h0.9M203.6,76.0h0.9M210.9,92.6h0.9M173.4,83.9h0.9M220.1,82.1h0.9M193.1,89.2h0.9M202.8,81.5h0.9M213.4,84.0h0.9M210.8,77.0h0.9M199.8,91.6h0.9M199.0,88.2h0.9M230.6,82.2h0.9M195.1,85.9h0.9M208.6,90.6h0.9M211.8,87.1h0.9M211.7,84.4h0.9M190.8,79.7h0.9M227.8,91.8h0.9M218.4,84.2h0.9M202.6,83.8h0.9M199.4,89.8h0.9M199.7,74.9h0.9M180.6,93.6h0.9M193.2,74.1h0.9M210.2,95.5h0.9M214.1,78.3h0.9M212.6,74.4h0.9M200.6,81.3h0.9M204.5,87.3h0.9M212.2,96.2h0.9M216.5,78.7h0.9M208.1,74.2h0.9M195.4,78.3h0.9M219.2,75.5h0.9M181.5,72.9h0.9M186.8,79.5h0.9M199.9,71.6h0.9M192.8,77.7h0.9M210.1,85.9h0.9M223.7,79.0h0.9M213.6,81.6h0.9M188.5,75.9h0.9M236.3,79.7h0.9M228.5,87.7h0.9M228.7,79.5h0.9M218.1,78.6h0.9M188.3,71.6h0.9M209.8,74.0h0.9M209.7,70.0h0.9M216.9,79.2h0.9M209.3,84.9h0.9M195.0,92.2h0.9M225.6,83.5h0.9M211.2,84.8h0.9M200.7,91.6h0.9M204.9,84.6h0.9M216.5,72.2h0.9M224.8,74.4h0.9M213.7,86.9h0.9M207.2,90.1h0.9M211.7,77.6h0.9M181.0,92.4h0.9M227.0,76.4h0.9M190.2,90.1h0.9M205.4,73.3h0.9M197.6,81.6h0.9M218.9,93.6h0.9M195.6,93.3h0.9M182.7,86.8h0.9M202.6,84.5h0.9M198.3,75.3h0.9M208.7,90.1h0.9M172.5,81.4h0.9M198.8,72.4h0.9M185.1,85.2h0.9M212.7,86.2h0.9M195.7,77.5h0.9M230.2,77.9h0.9M206.5,89.0h0.9M228.9,84.0h0.9M193.7,78.5h0.9M223.6,83.6h0.9M222.1,81.8h0.9M205.2,76.4h0.9M186.7,85.1h0.9M209.9,85.6h0.9M196.9,77.6h0.9M210.1,85.9h0.9M233.5,74.0h0.9M219.0,88.1h0.9M200.8,82.1h0.9M203.8,93.3h0.9M200.9,88.7h0.9M211.8,79.5h0.9M215.6,88.0h0.9M198.9,87.9h0.9M172.1,70.7h0.9M200.1,82.3h0.9M183.5,92.9h0.9M199.2,82.2h0.9M204.0,87.1h0.9M196.2,87.0h0.9M212.1,82.3h0.9M206.2,75.8h0.9M201.9,77.9h0.9M199.2,75.6h0.9M180.4,83.8h0.9M233.8,74.9h0.9M191.5,71.6h0.9M189.8,91.1h0.9M214.5,88.3h0.9M209.7,82.9h0.9M196.2,73.2h0.9M199.3,91.2h0.9M194.4,81.3h0.9M229.3,80.4h0.9M213.8,76.5h0.9M231.9,71.1h0.9M212.8,79.1h0.9M207.5,83.9h0.9M223.7,88.1h0.9M219.9,84.0h0.9M189.1,91.8h0.9M226.9,84.9h0.9M216.2,79.1h0.9M183.7,89.0h0.9M214.6,80.9h0.9M195.7,81.9h0.9M190.0,78.0h0.9M227.8,78.6h0.9M231.3,80.2h0.9M210.7,73.6h0.9M200.3,77.4h0.9M213.2,80.3h0.9M188.7,81.3h0.9M189.3,73.2h0.9M179.3,85.5h0.9M184.1,79.9h0.9M205.5,74.9h0.9M230.4,85.3h0.9M207.1,75.6h0.9M219.4,72.6h0.9M222.0,77.3h0.9M207.4,78.8h0.9M213.6,90.3h0.9M196.7,73.7h0.9M232.1,88.7h0.9M232.3,88.8h0.9M206.5,94.2h0.9M194.8,77.6h0.9M198.7,86.6h0.9M192.2,79.6h0.9M192.3,79.1h0.9M220.9,90.0h0.9M194.3,84.7h0.9M187.3,91.1h0.9M202.7,83.2h0.9M222.8,81.3h0.9M195.3,76.1h0.9M190.8,85.5h0.9M197.6,85.2h0.9M182.6,77.5h0.9M234.5,84.0h0.9M203.0,90.6h0.9M208.5,93.5h0.9M187.6,87.2h0.9M189.0,86.5h0.9M192.0,84.4h0.9M211.2,75.2h0.9M208.0,72.4h0.9M218.6,88.4h0.9M202.1,86.6h0.9M239.2,79.7h0.9M177.2,83.7h0.9M197.9,74.7h0.9M217.6,89.2h0.9M213.1,94.3h0.9M195.2,77.6h0.9M164.6,83.8h0.9M201.3,81.5h0.9M190.4,82.9h0.9M219.8,75.9h0.9M212.7,79.8h0.9M202.1,82.0h0.9M226.4,85.3h0.9M214.4,82.2h0.9M173.0,88.7h0.9M204.1,81.8h0.9M226.2,95.9h0.9M212.4,71.4h0.9M201.7,76.8h0.9M195.3,74.8h0.9M197.3,87.3h0.9M227.9,88.6h0.9M204.2,79.8h0.9M200.8,80.9h0.9M195.3,79.6h0.9M216.7,79.2h0.9M192.4,80.0h0.9M205.6,80.4h0.9M200.5,86.7h0.9M203.7,72.8h0.9M212.6,75.2h0.9M215.6,87.7h0.9M211.4,83.5h0.9M184.6,79.4h0.9M206.1,86.2h0.9M187.9,79.8h0.9M181.8,82.5h0.9M205.5,82.0h0.9M228.5,87.0h0.9M201.5,76.3h0.9M197.8,87.4h0.9M217.7,76.9h0.9M202.6,77.5h0.9M214.4,82.6h0.9M193.7,73.8h0.9M223.4,69.6h0.9M234.1,76.6h0.9M216.8,85.6h0.9M216.6,90.3h0.9M197.4,80.9h0.9M218.7,85.6h0.9M193.2,74.9h0.9M183.1,83.1h0.9M196.1,83.7h0.9M207.0,79.2h0.9M206.7,86.3h0.9M186.6,74.4h0.9M218.6,87.0h0.9M183.6,75.1h0.9M225.6,87.1h0.9M202.1,89.3h0.9M224.5,92.5h0.9M183.8,70.5h0.9M196.8,80.6h0.9M199.1,83.0h0.9M226.1,90.0h0.9M218.9,81.0h0.9M228.6,84.7h0.9M207.9,80.9h0.9M203.9,88.3h0.9M237.7,79.5h0.9M187.1,89.3h0.9M207.8,73.3h0.9M218.5,81.1h0.9M189.6,84.1h0.9M189.0,88.9h0.9M236.8,83.6h0.9M207.6,80.4h0.9M217.0,81.3h0.9M219.6,92.6h0.9M216.9,73.2h0.9M214.1,78.9h0.9M208.9,88.9h0.9M194.5,82.7h0.9M226.0,74.3h0.9M201.4,86.9h0.9M200.9,89.3h0.9M209.9,79.9h0.9M208.9,88.8h0.9M219.8,78.2h0.9M189.8,83.0h0.9M215.9,80.7h0.9M220.6,78.2h0.9M218.6,72.1h0.9M176.8,74.5h0.9M214.6,84.3h0.9M176.3,82.2h0.9M214.2,94.6h0.9M215.8,85.2h0.9M180.8,84.0h0.9M175.1,78.6h0.9M198.8,73.2h0.9M189.2,79.9h0.9M212.9,75.8h0.9M208.7,86.8h0.9M199.6,75.1h0.9M176.1,89.7h0.9M214.3,79.5h0.9M208.9,80.0h0.9M217.2,80.9h0.9M207.6,80.4h0.9M212.3,71.0h0.9M210.2,86.2h0.9M232.2,75.0h0.9M206.5,88.7h0.9M194.3,76.3h0.9M220.3,88.7h0.9M190.0,86.3h0.9M221.2,70.8h0.9M204.4,79.5h0.9M214.7,81.0h0.9M173.5,76.7h0.9M213.9,84.5h0.9M207.3,91.9h0.9M181.3,86.3h0.9M193.4,85.4h0.9M188.7,91.3h0.9M202.6,91.0h0.9M209.3,88.2h0.9M198.4,82.8h0.9M198.7,88.3h0.9M195.7,89.9h0.9M227.6,71.2h0.9M201.7,85.4h0.9M230.6,90.3h0.9M216.7,76.3h0.9M207.1,84.3h0.9M183.3,89.6h0.9M217.8,85.7h0.9M213.1,83.9h0.9M183.5,76.9h0.9M216.3,78.4h0.9M204.6,84.0h0.9M205.5,83.1h0.9M211.4,81.0h0.9M187.9,78.9h0.9M218.4,75.6h0.9M211.2,83.5h0.9M204.0,74.8h0.9M194.9,88.5h0.9M192.8,83.8h0.9M206.0,82.6h0.9M218.5,79.9h0.9M200.1,75.7h0.9M204.8,81.4h0.9M190.6,94.2h0.9M193.2,79.9h0.9M185.4,82.2h0.9M209.5,89.7h0.9M218.8,77.0h0.9M228.0,80.2h0.9M227.2,94.8h0.9M198.2,72.4h0.9M212.2,92.5h0.9M210.1,89.8h0.9M213.0,88.1h0.9M223.8,78.7h0.9M183.2,80.1h0.9M192.5,71.5h0.9M201.7,86.7h0.9M216.0,73.9h0.9M198.4,91.9h0.9M220.8,83.9h0.9M212.4,84.1h0.9M183.6,82.5h0.9M211.0,80.1h0.9M215.9,88.1h0.9M205.0,79.0h0.9M186.7,90.1h0.9M195.7,83.6h0.9M226.9,87.2h0.9M185.4,80.3h0.9M192.3,85.7h0.9M209.2,79.4h0.9M206.8,71.7h0.9M192.8,79.7h0.9M216.0,78.5h0.9M201.7,83.7h0.9M225.9,70.9h0.9M212.1,82.5h0.9M203.1,83.0h0.9M174.9,81.2h0.9M200.7,71.1h0.9M216.7,80.1h0.9M199.1,87.1h0.9M190.6,75.3h0.9M216.4,88.0h0.9M234.0,77.4h0.9M186.5,81.9h0.9M200.7,75.6h0.9M189.3,75.4h0.9M198.8,90.5h0.9M213.4,92.0h0.9M216.3,87.1h0.9M221.6,84.6h0.9M226.9,90.1h0.9M231.0,82.7h0.9M200.0,85.2h0.9M198.6,75.4h0.9M210.6,72.1h0.9M201.8,92.3h0.9M206.0,87.6h0.9M213.6,84.1h0.9M205.7,85.9h0.9M189.8,85.7h0.9M188.3,75.0h0.9M195.5,70.3h0.9M175.0,84.1h0.9M211.6,86.3h0.9M236.8,82.4h0.9M215.2,75.0h0.9M214.6,71.9h0.9M233.3,73.3h0.9M198.1,87.0h0.9M171.6,91.7h0.9M190.1,82.6h0.9M218.6,82.3h0.9M217.9,77.0h0.9M226.5,75.7h0.9M191.3,81.1h0.9M229.2,75.4h0.9M203.8,78.1h0.9M190.3,70.6h0.9M212.8,86.7h0.9M193.0,82.8h0.9M210.7,84.0h0.9M201.6,81.4h0.9M208.2,72.5h0.9M202.0,87.4h0.9M195.8,91.5h0.9M200.5,72.2h0.9M199.7,70.2h0.9M204.3,79.1h0.9M199.6,84.4h0.9M208.3,76.5h0.9M216.2,77.4h0.9M217.4,91.7h0.9M209.6,88.4h0.9M184.3,85.5h0.9M182.0,79.6h0.9M192.5,74.8h0.9M190.1,81.2h0.9M213.5,71.8h0.9M181.8,84.8h0.9M217.0,74.5h0.9M209.2,74.8h0.9M219.8,95.0h0.9M167.6,74.1h0.9M194.6,77.2h0.9M227.2,93.6h0.9M203.8,86.1h0.9M180.5,78.6h0.9M199.8,79.8h0.9M178.4,81.5h0.9M214.8,84.9h0.9M233.1,83.9h0.9M214.8,82.6h0.9M198.3,90.5h0.9M217.1,86.1h0.9M212.6,86.9h0.9M199.9,84.5h0.9M205.2,79.0h0.9M174.0,92.5h0.9M197.6,90.6h0.9M188.9,79.5h0.9M219.2,80.4h0.9M209.2,71.3h0.9M187.1,94.3h0.9M206.3,80.3h0.9M183.6,72.7h0.9M188.8,80.6h0.9M202.3,76.1h0.9M194.1,81.9h0.9M221.3,69.8h0.9M183.0,90.0h0.9M182.9,77.7h0.9M205.8,95.6h0.9M202.8,89.6h0.9M206.1,74.5h0.9M216.2,92.9h0.9M201.0,87.6h0.9M188.4,92.8h0.9M194.5,74.6h0.9M182.9,79.4h0.9M210.7,76.5h0.9M180.9,83.7h0.9M218.9,81.8h0.9M188.2,78.6h0.9M175.4,80.5h0.9M222.0,89.9h0.9M202.7,84.5h0.9M196.3,82.1h0.9M195.2,82.3h0.9M196.4,82.6h0.9M214.3,80.9h0.9M184.8,85.0h0.9M200.4,77.0h0.9M212.3,74.3h0.9M217.8,85.5h0.9M193.8,75.4h0.9M202.2,73.7h0.9M206.2,78.2h0.9M187.8,86.1h0.9M196.9,84.7h0.9M197.6,78.7h0.9M211.7,88.7h0.9M218.8,80.8h0.9M225.9,78.3h0.9M182.7,74.1h0.9M177.7,83.6h0.9M204.5,80.7h0.9M207.5,80.1h0.9M200.3,78.5h0.9M204.6,72.0h0.9M222.9,93.4h0.9M189.7,88.2h0.9M180.1,85.9h0.9M193.0,89.1h0.9M205.7,88.6h0.9M213.0,85.2h0.9M200.0,93.8h0.9M209.3,84.9h0.9M225.2,78.9h0.9M229.8,89.7h0.9M222.0,78.5h0.9M205.5,82.0h0.9M218.1,86.1h0.9M177.1,75.7h0.9M209.2,82.4h0.9M215.8,85.6h0.9M228.0,75.2h0.9M223.3,84.1h0.9M208.5,86.5h0.9M199.1,86.8h0.9M201.0,86.8h0.9M192.8,90.4h0.9M181.6,75.7h0.9M203.3,83.0h0.9M192.3,77.8h0.9M207.8,89.4h0.9M223.1,77.2h0.9M203.1,78.5h0.9M181.6,77.4h0.9M220.7,70.2h0.9M229.6,82.5h0.9M170.1,84.5h0.9M227.5,76.4h0.9M222.8,87.1h0.9M215.6,87.0h0.9M212.7,86.2h0.9M221.7,84.4h0.9M213.4,84.5h0.9M206.1,74.0h0.9M177.6,72.9h0.9M214.3,78.4h0.9M215.5,77.3h0.9M209.7,79.4h0.9M227.7,91.3h0.9M208.3,95.4h0.9M216.3,88.2h0.9M186.9,76.1h0.9M206.6,79.3h0.9M193.1,80.2h0.9M208.7,72.4h0.9M202.2,95.6h0.9M201.4,81.1h0.9M222.8,82.6h0.9M224.4,83.7h0.9" stroke="#000" stroke-width="0.9" fill="none" opacity="1"/>
<path d="M235.6,90.3h0.7M239.2,81.5h0.7M212.1,81.5h0.7M228.8,74.7h0.7M232.2,78.8h0.7M231.9,81.5h0.7M214.9,88.0h0.7M243.8,87.0h0.7M227.3,79.8h0.7M228.5,87.4h0.7M223.8,90.9h0.7M223.8,72.7h0.7M223.5,83.3h0.7M216.9,74.1h0.7M226.7,86.7h0.7M221.8,83.7h0.7M219.2,77.4h0.7M226.0,87.4h0.7M239.7,79.1h0.7M228.5,95.0h0.7M232.3,77.3h0.7M228.1,69.2h0.7M217.1,69.8h0.7M234.2,76.6h0.7M225.0,80.6h0.7M222.1,71.1h0.7M223.8,85.3h0.7M222.1,79.3h0.7M227.2,81.9h0.7M220.8,88.3h0.7M229.1,91.5h0.7M218.6,89.5h0.7M227.4,74.6h0.7M223.1,80.9h0.7M220.0,77.7h0.7M217.9,81.7h0.7M239.6,91.1h0.7M223.0,69.4h0.7M209.6,81.1h0.7M226.4,75.2h0.7M216.3,78.4h0.7M226.7,85.2h0.7M218.4,82.0h0.7M227.8,86.1h0.7M209.6,92.0h0.7M212.5,78.5h0.7M219.6,76.4h0.7M216.6,86.3h0.7M231.8,82.7h0.7M211.8,75.3h0.7M223.6,83.1h0.7M218.8,78.0h0.7M249.7,80.5h0.7M216.8,92.5h0.7M232.4,71.0h0.7M231.8,81.4h0.7M216.4,86.1h0.7M218.2,77.7h0.7M224.4,81.7h0.7M219.9,82.3h0.7M224.2,81.5h0.7M228.0,75.2h0.7M210.9,79.5h0.7M236.2,82.6h0.7M226.4,74.4h0.7M213.1,70.6h0.7M215.3,77.2h0.7M209.2,79.1h0.7M208.9,85.0h0.7M218.9,81.8h0.7M227.9,86.0h0.7M220.8,78.9h0.7M221.9,84.2h0.7M217.5,78.8h0.7M225.6,77.4h0.7M213.7,90.4h0.7M229.0,73.1h0.7M243.2,74.2h0.7M215.7,77.3h0.7M229.4,91.4h0.7M237.5,84.3h0.7M224.8,85.1h0.7M216.6,74.7h0.7M229.3,81.6h0.7M226.5,72.3h0.7M226.6,69.1h0.7M233.2,80.1h0.7M217.9,76.5h0.7M217.4,90.5h0.7M224.4,82.0h0.7M214.9,70.1h0.7M226.5,76.7h0.7M229.1,88.1h0.7M223.1,84.1h0.7M225.9,81.8h0.7M219.2,81.9h0.7M228.4,80.6h0.7M213.9,92.0h0.7M234.0,82.3h0.7M227.0,78.9h0.7M230.8,87.4h0.7M221.8,82.4h0.7M215.1,75.7h0.7M213.0,76.7h0.7M216.0,77.0h0.7M228.8,71.1h0.7M225.1,90.6h0.7M226.0,70.7h0.7M218.4,89.0h0.7M221.7,75.3h0.7M231.8,74.6h0.7M213.4,84.7h0.7M224.4,75.1h0.7M228.7,88.5h0.7M234.6,80.8h0.7M228.6,83.8h0.7M209.9,92.7h0.7M217.8,75.8h0.7M216.3,72.7h0.7M234.8,80.1h0.7M225.8,79.7h0.7M214.3,79.3h0.7M212.5,83.9h0.7M213.4,75.1h0.7M231.8,84.6h0.7M230.3,92.8h0.7M221.4,76.2h0.7M229.6,73.7h0.7M215.8,87.3h0.7M228.7,80.0h0.7M232.9,77.5h0.7M223.0,90.8h0.7M218.5,83.3h0.7M230.3,79.2h0.7M232.6,84.0h0.7M214.2,82.3h0.7M235.4,91.0h0.7M224.3,74.4h0.7M219.4,84.5h0.7M223.3,80.5h0.7M217.0,91.2h0.7M228.4,88.5h0.7M225.2,72.7h0.7M234.6,88.5h0.7M218.6,69.9h0.7M232.1,75.8h0.7M213.0,79.4h0.7M229.5,74.4h0.7M224.6,87.7h0.7M231.1,93.6h0.7M233.0,79.4h0.7M218.6,76.1h0.7M244.1,80.1h0.7M214.9,93.0h0.7M242.0,72.0h0.7M214.2,96.2h0.7M229.4,82.8h0.7M232.4,72.5h0.7M232.6,78.0h0.7M229.2,81.8h0.7M237.5,70.3h0.7M210.9,85.1h0.7M246.9,84.2h0.7M222.6,85.2h0.7M212.6,80.8h0.7M208.1,81.0h0.7M231.2,93.1h0.7M219.4,87.2h0.7M237.1,72.1h0.7M215.8,83.4h0.7M231.1,91.1h0.7M214.5,84.6h0.7M224.0,85.5h0.7M221.3,85.1h0.7M214.9,72.6h0.7M236.0,78.2h0.7M214.8,73.5h0.7M215.0,81.0h0.7M220.7,86.7h0.7M213.2,79.5h0.7M209.8,76.5h0.7M237.2,79.2h0.7M232.7,79.6h0.7M213.8,73.3h0.7M213.4,82.7h0.7M240.1,86.6h0.7M214.9,81.0h0.7M217.3,89.0h0.7M211.3,85.9h0.7M212.5,76.5h0.7M225.8,81.1h0.7M223.6,79.6h0.7M216.0,79.2h0.7M223.5,72.9h0.7M229.6,81.4h0.7M217.0,90.1h0.7M236.3,77.2h0.7M238.2,83.4h0.7M215.7,88.7h0.7M228.6,87.2h0.7M224.6,92.0h0.7M233.1,77.5h0.7M209.8,79.7h0.7M224.8,72.5h0.7M222.3,91.6h0.7M219.7,88.7h0.7M215.2,72.6h0.7M233.1,78.8h0.7M226.3,88.0h0.7M239.7,70.6h0.7M229.7,81.8h0.7M225.5,93.9h0.7M221.8,75.5h0.7M227.7,73.2h0.7M227.3,74.4h0.7M229.0,78.2h0.7M217.3,84.2h0.7M211.8,78.0h0.7M220.5,90.3h0.7M239.3,83.7h0.7M234.6,77.6h0.7M211.1,82.4h0.7M226.6,89.0h0.7M222.2,83.8h0.7M222.1,76.1h0.7M224.9,78.6h0.7M237.5,70.0h0.7M223.7,83.5h0.7M227.3,82.4h0.7M233.3,77.4h0.7M211.0,92.0h0.7M248.8,81.2h0.7M208.7,87.4h0.7M227.3,89.6h0.7M222.5,76.8h0.7M226.9,78.6h0.7M229.5,70.7h0.7M218.9,76.1h0.7M225.1,87.7h0.7M224.6,82.1h0.7M227.6,83.6h0.7M212.6,79.0h0.7M241.6,91.0h0.7M216.0,72.8h0.7M222.5,88.2h0.7M232.9,75.5h0.7M208.2,89.3h0.7M238.3,85.2h0.7M229.8,84.4h0.7M241.7,88.4h0.7M237.9,71.2h0.7M219.1,80.0h0.7M223.9,79.5h0.7M248.3,78.5h0.7M222.2,79.1h0.7M220.8,69.1h0.7M234.8,80.2h0.7M227.6,80.3h0.7M221.3,84.2h0.7M222.9,85.7h0.7M216.5,77.8h0.7M225.5,79.3h0.7M225.8,91.1h0.7M220.1,81.1h0.7M217.8,84.2h0.7M226.2,74.4h0.7M214.4,70.8h0.7M221.4,81.2h0.7M219.3,79.2h0.7M225.4,81.7h0.7M242.8,83.0h0.7M230.3,76.1h0.7M218.9,86.0h0.7M218.3,74.9h0.7M209.8,82.3h0.7M223.2,84.2h0.7M215.7,70.5h0.7M234.6,80.2h0.7M231.6,71.2h0.7M226.9,87.7h0.7M236.8,93.7h0.7M219.0,73.9h0.7M222.0,73.8h0.7M210.0,79.7h0.7M225.2,74.1h0.7M224.3,70.0h0.7M220.9,77.4h0.7M219.7,79.4h0.7M211.9,69.7h0.7M216.1,85.7h0.7M214.9,72.8h0.7M243.1,78.0h0.7M220.4,73.2h0.7M238.1,84.1h0.7M226.6,92.3h0.7M234.7,83.4h0.7M219.1,86.2h0.7M223.1,95.1h0.7M211.9,82.8h0.7M233.4,86.9h0.7M220.6,76.9h0.7M219.8,85.3h0.7M220.1,78.9h0.7M233.9,79.2h0.7M226.4,79.0h0.7M215.0,82.9h0.7M217.9,75.2h0.7M216.7,72.6h0.7M223.5,73.5h0.7M220.1,87.6h0.7M233.8,82.9h0.7M235.1,87.8h0.7M219.6,86.2h0.7M225.5,86.0h0.7M211.9,82.8h0.7M219.0,77.2h0.7M223.8,79.7h0.7M240.4,79.6h0.7M226.4,88.3h0.7M238.5,72.6h0.7M226.9,69.7h0.7M228.7,91.0h0.7M219.0,77.8h0.7M235.4,83.4h0.7M231.7,76.5h0.7M221.0,77.1h0.7M219.0,92.1h0.7M223.3,71.5h0.7M226.3,78.3h0.7M222.8,83.9h0.7M225.9,91.6h0.7M211.1,79.3h0.7M212.8,85.2h0.7M215.8,77.4h0.7M220.0,83.5h0.7M211.4,69.1h0.7M225.8,90.6h0.7M219.1,83.2h0.7M226.5,80.8h0.7M223.8,75.7h0.7M221.6,89.4h0.7M228.3,90.0h0.7M217.0,80.9h0.7M217.8,69.7h0.7M232.6,77.8h0.7M221.5,79.1h0.7M220.2,87.9h0.7M228.4,81.0h0.7M226.2,76.5h0.7M217.1,77.8h0.7M214.2,78.7h0.7M222.9,88.8h0.7M219.0,81.0h0.7M223.7,75.2h0.7M234.7,75.5h0.7M229.4,70.0h0.7M237.0,71.8h0.7M216.9,85.2h0.7M219.8,85.5h0.7M220.2,91.8h0.7M217.1,81.3h0.7M235.0,91.6h0.7M226.2,84.6h0.7M220.7,79.5h0.7M218.4,83.0h0.7M232.0,72.1h0.7M212.8,80.4h0.7M243.1,81.8h0.7M225.2,79.7h0.7M241.2,70.6h0.7M238.3,78.9h0.7M229.6,75.7h0.7M219.6,81.6h0.7M220.9,71.5h0.7M221.3,85.1h0.7M216.5,82.8h0.7M211.0,80.7h0.7M212.9,86.0h0.7M213.9,84.8h0.7M234.5,73.5h0.7M224.4,73.2h0.7M228.5,85.9h0.7M234.9,90.4h0.7M236.4,74.2h0.7M225.0,84.2h0.7M225.7,69.6h0.7M241.4,78.5h0.7M245.6,71.7h0.7M229.0,86.2h0.7M210.1,77.4h0.7M228.6,85.2h0.7M227.7,87.3h0.7M226.5,76.5h0.7M223.0,78.4h0.7M222.8,82.4h0.7M218.8,79.7h0.7M218.5,73.1h0.7M227.3,73.4h0.7M229.0,79.8h0.7M234.3,84.6h0.7M230.2,80.8h0.7M224.3,88.5h0.7M230.4,69.3h0.7M224.8,87.9h0.7M225.4,69.9h0.7M231.4,84.7h0.7M234.9,81.3h0.7M225.0,86.7h0.7M213.3,93.6h0.7M227.7,81.7h0.7M231.2,86.2h0.7M222.9,73.7h0.7M232.5,87.4h0.7M227.5,75.0h0.7M224.9,72.4h0.7M248.1,74.7h0.7M232.3,92.9h0.7M215.7,75.7h0.7M211.2,81.2h0.7M221.8,80.1h0.7M224.3,76.2h0.7M225.0,79.4h0.7M217.0,77.5h0.7M218.4,69.7h0.7M229.0,79.7h0.7M225.5,89.1h0.7M233.0,76.5h0.7M227.2,89.4h0.7M222.4,83.0h0.7M227.9,71.7h0.7M226.6,76.9h0.7M221.4,83.4h0.7M230.2,72.8h0.7M221.5,78.4h0.7M214.8,82.9h0.7M221.9,74.4h0.7M232.9,79.3h0.7M212.8,79.2h0.7M222.1,82.3h0.7M245.5,84.3h0.7M237.7,78.6h0.7M228.4,83.9h0.7M222.9,81.9h0.7M219.6,85.5h0.7M215.2,93.5h0.7M222.7,82.9h0.7M228.0,73.0h0.7M225.8,76.6h0.7M211.3,75.6h0.7M213.7,81.9h0.7M210.5,81.7h0.7M229.2,74.1h0.7M214.7,77.2h0.7M231.4,91.0h0.7M244.5,80.7h0.7M229.8,81.5h0.7M223.7,71.5h0.7M220.5,88.8h0.7M237.1,75.2h0.7M208.4,94.9h0.7M224.2,83.6h0.7M226.9,72.3h0.7M221.1,75.0h0.7M209.1,76.0h0.7M217.5,86.1h0.7M238.8,74.2h0.7M229.3,78.3h0.7M240.6,73.4h0.7M229.9,75.9h0.7M222.9,76.3h0.7M222.5,80.3h0.7M218.0,82.2h0.7M211.5,86.4h0.7M231.8,77.2h0.7M218.8,87.2h0.7M223.5,95.4h0.7M219.0,74.6h0.7M221.1,93.3h0.7M249.9,93.6h0.7M228.2,84.3h0.7M237.2,95.7h0.7M218.8,79.7h0.7M217.0,78.3h0.7M215.6,71.0h0.7M233.7,70.9h0.7M230.1,72.0h0.7M247.8,72.6h0.7M226.2,85.2h0.7M214.5,73.4h0.7M213.6,84.4h0.7M226.7,88.0h0.7M210.1,72.6h0.7M222.7,76.4h0.7M226.9,88.9h0.7M225.1,73.6h0.7M223.5,74.2h0.7M217.6,94.7h0.7M230.4,94.5h0.7M221.8,79.4h0.7M211.7,81.9h0.7M230.8,85.5h0.7M212.7,80.8h0.7M232.7,76.2h0.7M230.6,76.0h0.7M223.8,75.4h0.7M209.7,73.3h0.7M225.5,77.7h0.7M223.8,75.4h0.7M232.3,78.6h0.7M227.6,76.2h0.7M236.4,79.2h0.7M217.5,82.5h0.7M234.3,83.4h0.7M220.9,89.6h0.7M217.4,70.6h0.7M232.6,80.1h0.7M221.7,88.2h0.7M222.6,85.1h0.7M226.0,89.2h0.7M229.2,76.2h0.7" stroke="#222" stroke-width="0.7" fill="none" opacity="1"/>
<path d="M256.3,61.5h0.7M255.0,56.5h0.7M238.8,65.1h0.7M254.5,74.7h0.7M244.5,78.1h0.7M249.0,80.4h0.7M249.7,72.4h0.7M249.2,60.1h0.7M251.7,69.1h0.7M256.0,64.3h0.7M250.4,69.0h0.7M236.6,78.8h0.7M240.0,70.0h0.7M244.0,72.2h0.7M259.1,59.6h0.7M247.2,73.0h0.7M245.8,62.7h0.7M237.8,91.8h0.7M236.5,76.3h0.7M256.0,66.2h0.7M242.3,82.0h0.7M242.7,87.6h0.7M244.7,77.0h0.7M252.4,80.6h0.7M238.2,80.1h0.7M243.1,78.1h0.7M245.8,76.7h0.7M251.1,61.1h0.7M245.4,83.0h0.7M253.5,73.3h0.7M237.8,75.2h0.7M236.6,80.9h0.7M239.5,84.3h0.7M242.4,80.3h0.7M236.9,88.0h0.7M254.3,72.1h0.7M255.8,79.9h0.7M253.6,66.7h0.7M257.1,60.7h0.7M252.7,78.3h0.7M242.4,76.8h0.7M248.5,72.4h0.7M247.6,78.9h0.7M261.3,56.6h0.7M233.1,82.4h0.7M241.6,84.8h0.7M249.6,75.0h0.7M248.6,78.0h0.7M247.3,81.1h0.7M253.5,68.0h0.7M244.5,67.9h0.7M244.1,74.1h0.7M254.3,61.1h0.7M245.4,70.9h0.7M241.7,80.5h0.7M248.6,61.4h0.7M265.1,70.8h0.7M248.9,74.3h0.7M236.6,79.5h0.7M248.1,71.0h0.7M253.7,60.4h0.7M245.9,77.2h0.7M244.6,73.1h0.7M246.5,75.8h0.7M248.2,64.3h0.7M235.2,75.9h0.7M243.1,63.6h0.7M242.1,91.0h0.7M247.6,75.3h0.7M243.7,73.9h0.7M245.5,69.0h0.7M243.2,75.7h0.7M234.0,88.9h0.7M249.5,74.1h0.7M243.9,80.5h0.7M245.0,79.6h0.7M258.5,66.1h0.7M235.2,84.1h0.7M244.6,87.9h0.7M243.3,67.4h0.7M238.8,89.2h0.7M239.7,82.2h0.7M243.0,75.3h0.7M242.7,76.7h0.7M255.5,58.8h0.7M251.6,71.5h0.7M237.2,74.3h0.7M241.1,82.0h0.7M250.7,76.0h0.7M249.2,71.3h0.7M247.0,74.2h0.7M248.6,75.6h0.7M243.0,83.5h0.7M258.3,61.5h0.7M246.5,65.2h0.7M242.0,67.6h0.7M253.9,66.5h0.7M258.1,69.8h0.7M243.1,81.7h0.7M265.4,70.4h0.7M247.1,76.2h0.7M243.3,80.3h0.7M255.5,74.4h0.7M245.1,74.8h0.7M249.3,69.3h0.7M251.5,68.6h0.7M244.2,65.0h0.7M252.5,71.2h0.7M261.4,64.7h0.7M238.8,75.2h0.7M235.7,79.9h0.7M249.5,78.7h0.7M259.1,61.9h0.7M250.1,68.6h0.7M237.9,84.7h0.7M235.1,72.9h0.7M244.6,84.8h0.7M241.7,86.7h0.7M235.3,83.0h0.7M248.6,68.4h0.7M238.6,80.4h0.7M261.2,63.8h0.7M249.5,74.1h0.7M259.7,69.7h0.7M241.1,72.3h0.7M238.7,80.8h0.7M243.8,75.6h0.7M249.6,86.9h0.7M245.5,83.6h0.7M236.8,76.8h0.7M233.4,78.0h0.7M246.5,77.7h0.7M233.8,87.9h0.7M245.2,74.3h0.7M255.1,72.8h0.7M248.0,80.0h0.7M243.6,69.7h0.7M253.4,73.2h0.7M247.8,71.7h0.7M246.4,77.7h0.7M233.1,87.6h0.7M234.4,80.9h0.7M251.8,76.4h0.7M242.9,70.3h0.7M238.4,76.6h0.7M261.3,73.5h0.7M242.4,68.0h0.7M253.1,67.5h0.7M243.6,77.2h0.7M237.7,82.5h0.7M252.8,75.2h0.7M259.5,56.7h0.7M246.4,67.9h0.7M250.9,76.7h0.7M250.1,67.7h0.7M263.0,63.7h0.7M255.9,64.9h0.7M256.0,63.3h0.7M253.0,67.3h0.7M240.9,68.0h0.7M255.6,68.4h0.7M241.5,78.2h0.7M252.9,71.4h0.7M244.4,87.7h0.7M255.5,65.7h0.7M248.6,73.0h0.7M248.0,81.9h0.7M239.1,76.5h0.7M239.0,69.5h0.7M250.2,61.7h0.7M261.1,65.9h0.7M259.9,56.7h0.7M242.2,74.1h0.7M249.3,64.5h0.7M235.8,67.5h0.7M247.1,73.9h0.7M258.8,56.0h0.7M255.6,68.5h0.7M249.3,63.1h0.7M254.2,67.0h0.7M264.7,70.7h0.7M239.2,77.1h0.7M252.5,56.3h0.7M253.8,76.5h0.7M251.7,68.0h0.7M235.5,71.0h0.7M248.2,67.4h0.7M244.2,77.4h0.7M247.9,85.2h0.7M249.0,78.4h0.7M233.0,75.0h0.7M251.9,65.7h0.7M239.1,87.2h0.7M244.3,63.5h0.7M251.0,82.4h0.7M242.4,67.7h0.7M244.2,84.7h0.7M260.3,64.9h0.7M237.0,87.6h0.7M237.9,77.7h0.7M245.8,81.1h0.7M252.1,71.8h0.7M240.9,74.9h0.7M252.6,63.3h0.7M245.8,77.6h0.7M248.0,78.4h0.7M252.7,71.6h0.7M238.0,75.5h0.7M256.0,72.8h0.7M254.0,64.9h0.7M236.6,69.0h0.7M249.8,63.6h0.7M249.0,66.2h0.7M246.7,66.4h0.7M255.5,77.1h0.7M244.4,65.6h0.7M240.3,79.8h0.7M248.3,62.9h0.7M233.3,74.3h0.7M261.1,61.4h0.7M247.2,69.4h0.7M263.4,61.3h0.7M249.5,78.7h0.7M249.8,68.0h0.7M243.2,76.2h0.7M252.3,57.9h0.7M235.2,88.3h0.7M259.5,70.9h0.7M245.5,63.6h0.7M253.2,68.0h0.7M232.5,75.0h0.7M234.0,85.2h0.7M237.0,84.4h0.7M247.1,77.0h0.7M249.9,63.6h0.7M245.7,79.0h0.7M244.5,82.0h0.7M254.0,72.3h0.7M244.0,80.8h0.7M245.1,75.8h0.7M249.2,66.7h0.7M237.5,65.0h0.7M242.7,80.9h0.7M233.6,83.0h0.7M253.3,70.4h0.7M236.2,85.5h0.7M240.1,86.6h0.7M247.0,68.2h0.7M242.1,76.6h0.7M245.5,82.1h0.7M246.5,69.1h0.7M244.9,65.0h0.7M246.2,71.1h0.7M241.3,77.5h0.7M242.8,66.3h0.7M259.2,81.7h0.7M250.3,65.4h0.7M254.6,77.0h0.7M243.3,87.6h0.7M249.8,83.1h0.7M243.1,83.4h0.7M245.9,82.3h0.7M254.3,68.1h0.7M243.1,83.5h0.7M245.3,66.7h0.7M249.9,68.7h0.7M241.7,70.6h0.7M250.7,75.1h0.7M242.2,82.6h0.7M232.1,87.2h0.7M244.8,67.9h0.7M242.7,67.4h0.7M262.1,61.2h0.7M251.4,62.0h0.7M256.0,63.1h0.7M256.5,66.5h0.7M252.3,75.0h0.7M240.0,76.2h0.7M256.2,67.2h0.7M238.1,73.3h0.7M252.7,66.3h0.7M237.4,84.4h0.7M257.7,78.5h0.7M239.6,61.9h0.7M241.5,83.0h0.7M242.1,76.7h0.7M250.4,79.4h0.7M248.0,70.5h0.7M244.6,81.8h0.7M242.1,80.0h0.7M251.9,73.2h0.7M253.1,68.8h0.7M264.0,62.2h0.7M237.1,75.5h0.7M245.3,83.4h0.7M243.0,87.2h0.7M247.3,68.2h0.7M238.0,80.2h0.7M251.6,67.8h0.7M252.1,69.0h0.7M254.8,61.9h0.7M241.1,70.2h0.7M240.2,72.0h0.7M233.7,83.4h0.7M243.4,60.2h0.7M250.8,72.9h0.7M247.9,70.5h0.7M240.8,79.6h0.7M238.6,78.7h0.7M248.2,69.7h0.7M247.6,56.8h0.7M237.4,88.5h0.7M240.1,75.7h0.7M241.6,77.1h0.7M246.1,75.9h0.7M259.5,73.8h0.7M240.0,80.5h0.7M238.6,80.8h0.7M248.0,71.3h0.7M250.1,74.2h0.7M237.9,80.7h0.7M257.2,69.5h0.7M250.6,63.4h0.7M244.4,81.8h0.7M247.1,74.5h0.7M246.5,79.3h0.7M243.9,68.5h0.7M247.6,69.5h0.7M246.0,77.4h0.7M245.2,70.3h0.7M235.6,80.0h0.7M240.9,70.0h0.7M249.4,86.5h0.7M241.4,78.2h0.7M235.6,80.9h0.7M248.5,72.3h0.7M233.3,85.5h0.7M242.4,84.4h0.7M250.7,80.1h0.7M244.7,66.6h0.7M251.5,65.0h0.7M245.5,74.6h0.7M240.3,87.0h0.7M243.6,68.6h0.7M237.2,84.8h0.7M256.6,66.4h0.7M246.9,69.7h0.7M256.2,67.8h0.7M237.8,76.8h0.7M252.0,73.2h0.7M251.8,82.9h0.7M235.5,77.5h0.7M261.4,65.5h0.7M251.4,67.8h0.7M246.2,74.3h0.7M247.2,68.2h0.7M259.9,72.6h0.7M238.7,73.7h0.7M255.5,81.7h0.7M243.4,85.2h0.7M238.3,75.4h0.7M253.6,65.2h0.7M248.1,76.4h0.7M255.4,66.4h0.7M255.5,60.0h0.7M244.5,79.7h0.7M245.0,62.5h0.7M246.1,78.2h0.7M251.1,81.3h0.7M234.8,85.4h0.7M234.1,73.6h0.7M244.1,74.9h0.7M240.7,74.1h0.7M248.9,63.6h0.7M236.5,72.7h0.7M249.8,59.9h0.7M255.9,57.9h0.7M251.3,79.9h0.7M242.5,85.9h0.7M234.6,81.0h0.7M251.5,70.8h0.7M249.7,72.3h0.7M252.4,56.5h0.7M243.8,81.6h0.7M232.6,81.3h0.7M250.2,70.2h0.7M241.8,71.4h0.7M236.0,76.1h0.7M236.9,83.0h0.7M246.0,67.1h0.7M242.5,67.7h0.7M247.8,69.7h0.7M246.2,74.7h0.7M256.7,65.1h0.7M241.7,78.7h0.7M250.9,72.7h0.7M251.2,63.1h0.7M239.2,84.3h0.7M239.1,83.2h0.7M232.1,80.9h0.7M248.1,69.7h0.7M252.2,69.5h0.7M250.5,73.2h0.7M238.1,88.8h0.7M232.3,80.3h0.7M247.8,69.3h0.7M246.4,65.3h0.7M244.1,77.0h0.7M247.0,75.5h0.7M261.2,64.4h0.7M238.2,80.6h0.7M241.4,72.0h0.7M249.7,67.5h0.7M250.1,74.3h0.7M260.0,56.4h0.7M259.0,76.4h0.7M259.3,63.3h0.7M241.0,79.4h0.7M239.9,76.4h0.7M231.9,84.7h0.7" stroke="#6a6a6a" stroke-width="0.7" fill="none" opacity="1"/>
<path d="M246.5,66.5h0.6M242.3,71.3h0.6M239.9,72.8h0.6M240.5,74.3h0.6M235.1,70.8h0.6M256.4,62.8h0.6M235.1,78.8h0.6M244.8,71.6h0.6M243.6,66.5h0.6M237.5,74.9h0.6M243.6,76.1h0.6M245.9,90.6h0.6M242.8,83.0h0.6M243.4,90.8h0.6M250.5,63.4h0.6M255.6,65.1h0.6M250.7,63.4h0.6M245.1,71.7h0.6M248.5,65.7h0.6M238.8,64.3h0.6M249.7,72.6h0.6M240.7,80.9h0.6M236.5,77.3h0.6M240.1,74.5h0.6M239.5,83.1h0.6M238.3,88.7h0.6M248.9,62.8h0.6M238.3,82.6h0.6M254.7,59.3h0.6M243.5,76.0h0.6M262.5,76.5h0.6M240.4,78.8h0.6M242.8,62.6h0.6M241.7,68.4h0.6M240.2,71.2h0.6M245.2,63.3h0.6M247.9,56.1h0.6M247.8,74.9h0.6M245.7,56.9h0.6M237.8,72.3h0.6M246.1,77.3h0.6M251.4,59.9h0.6M231.6,66.2h0.6M239.8,68.1h0.6M252.9,73.0h0.6M242.9,78.3h0.6M241.8,83.1h0.6M243.3,66.1h0.6M231.8,78.9h0.6M240.9,54.6h0.6M249.4,82.4h0.6M247.7,86.2h0.6M252.6,63.8h0.6M246.0,77.3h0.6M246.4,78.2h0.6M234.5,78.1h0.6M241.7,67.8h0.6M242.4,73.7h0.6M245.2,55.9h0.6M247.9,70.6h0.6M233.1,60.5h0.6M231.5,78.7h0.6M234.6,72.3h0.6M238.3,78.8h0.6M253.1,79.0h0.6M247.8,80.3h0.6M256.8,62.7h0.6M244.4,64.7h0.6M242.5,68.6h0.6M243.1,77.1h0.6M244.4,80.3h0.6M238.7,84.1h0.6M261.5,71.3h0.6M240.3,75.4h0.6M248.7,57.1h0.6M232.9,72.7h0.6M244.8,59.9h0.6M242.5,82.4h0.6M253.0,58.5h0.6M252.4,74.8h0.6M239.4,70.9h0.6M241.7,71.0h0.6M240.3,64.0h0.6M249.9,86.2h0.6M240.4,83.6h0.6M235.4,59.1h0.6M247.6,72.9h0.6M246.0,62.0h0.6M238.7,80.0h0.6M255.8,73.1h0.6M236.5,82.6h0.6M258.5,63.2h0.6M236.9,67.4h0.6M233.7,76.7h0.6M244.6,58.8h0.6M246.9,72.7h0.6M233.1,71.9h0.6M244.9,64.1h0.6M243.1,66.6h0.6M236.7,65.9h0.6M245.8,85.8h0.6M239.9,90.7h0.6M238.3,71.8h0.6M240.1,55.4h0.6M241.4,68.9h0.6M234.8,77.6h0.6M245.4,68.0h0.6M234.4,73.5h0.6M235.0,63.0h0.6M237.7,79.4h0.6M239.5,69.3h0.6M239.1,76.2h0.6M240.6,78.3h0.6M240.6,78.5h0.6M239.4,64.0h0.6M245.5,68.9h0.6M238.0,83.9h0.6M237.6,63.7h0.6M239.0,83.9h0.6M246.3,67.2h0.6M239.0,64.2h0.6M238.1,76.2h0.6M233.8,67.8h0.6M235.2,69.0h0.6M245.2,81.9h0.6M246.9,74.2h0.6M253.6,77.4h0.6M245.9,76.0h0.6M248.8,61.4h0.6M234.1,71.7h0.6M238.9,73.8h0.6M247.7,82.8h0.6M244.6,84.0h0.6M236.4,74.7h0.6M240.4,62.3h0.6M243.8,79.7h0.6M238.6,71.7h0.6M251.0,69.1h0.6M238.9,73.6h0.6M245.4,74.6h0.6M252.2,74.9h0.6M240.8,86.2h0.6M242.0,66.9h0.6M244.0,75.7h0.6M252.3,59.2h0.6M248.2,72.6h0.6M248.6,80.8h0.6M245.9,63.7h0.6M240.5,80.5h0.6M248.4,86.9h0.6M234.4,65.2h0.6M250.2,68.3h0.6M245.8,63.5h0.6M243.5,62.5h0.6M242.7,65.6h0.6M232.8,77.3h0.6M241.5,71.2h0.6M239.2,65.4h0.6M244.5,71.2h0.6M239.6,69.3h0.6M245.0,80.1h0.6M232.3,79.6h0.6M249.2,78.1h0.6M236.8,72.8h0.6M259.6,58.7h0.6M248.7,68.5h0.6M255.7,72.1h0.6M248.8,65.2h0.6M237.2,85.6h0.6M239.3,59.4h0.6M246.9,59.6h0.6M241.9,68.7h0.6M248.5,73.4h0.6M251.1,85.8h0.6M247.8,69.1h0.6M240.5,76.6h0.6M241.4,86.9h0.6M231.9,73.1h0.6M235.4,77.4h0.6M244.5,70.5h0.6M249.3,68.5h0.6M240.5,73.7h0.6M248.2,63.4h0.6M237.5,63.9h0.6M246.4,74.5h0.6M243.2,58.9h0.6M234.4,57.6h0.6M244.0,75.4h0.6M244.6,85.4h0.6M248.8,57.0h0.6M245.7,73.0h0.6M244.3,64.1h0.6M253.8,71.7h0.6M239.3,58.2h0.6M240.9,79.8h0.6M251.0,77.6h0.6M237.8,60.0h0.6M240.1,71.9h0.6M240.2,68.0h0.6M242.7,57.5h0.6" stroke="#888" stroke-width="0.6" fill="none" opacity="1"/>
</g>
<g fill="#fff" stroke="#555" stroke-width="0.65">
<path d="M168.4,51 C169.4,47.6 178,47 186,47.2 C193,47.4 198.6,48.2 198.6,50.6 C198.6,53.6 194,59 190,62.6 C186.4,65.8 183,67.4 179,67.4 C173.6,67.2 171.4,63.4 170,58.6 C169,55 167.8,53 168.4,51z"/>
<path d="M170.8,51.8 C171.6,49.6 179,49.2 186,49.4 C192,49.6 196,50.1 196,51.8 C196,54 192.4,58.2 189,61.2 C186,63.8 183,65.2 179.8,65.2 C175.4,65 173.6,62 172.4,58 C171.6,55.2 170.4,53.3 170.8,51.8z"/>
<path d="M173.4,52.6 C174,51.4 180,51.1 186,51.3 C190.6,51.5 193.4,51.9 193.4,53 C193.4,54.6 190.8,57.6 188,59.8 C185.6,61.8 183,62.9 180.6,62.9 C177.2,62.7 175.8,60.6 174.8,57.5 C174.2,55.5 173.1,53.7 173.4,52.6z"/>
<ellipse cx="183.6" cy="52.4" rx="4.4" ry="1.5"/>
</g>
<g clip-path="url(#clBlow)"><ellipse cx="180" cy="82.4" rx="15" ry="12.6" fill="#000" filter="url(#b06)"/></g>
<g fill="#fff" stroke="#2a2a2a" stroke-width="1">
<path d="M173,69.8 C169.6,72.4 168,77 168,82 C168,88 172,92.6 178.6,92.6 C186,92.6 192,88.4 192,81.6 C192,76 188.6,72 184.4,69.8z" stroke-width="0.7" stroke="#444"/>
<ellipse cx="178.4" cy="82.2" rx="10.2" ry="9" stroke-width="0.6" stroke="#555"/>
<ellipse cx="177.6" cy="82.4" rx="7.8" ry="7.2"/>
<ellipse cx="177.4" cy="82.5" rx="5.8" ry="5.4"/>
<ellipse cx="177.3" cy="82.5" rx="4.1" ry="3.8" stroke-width="0.6" stroke="#555"/>
</g>
</g>
<rect x="162.3" y="38.9" width="44.0" height="30.4" stroke="#000" stroke-width="1.6" fill="none"/>
<rect x="206.3" y="42.5" width="24.4" height="25.6" stroke="#000" stroke-width="1.6" fill="none"/>
<rect x="230.9" y="53.5" width="35.3" height="38.7" stroke="#000" stroke-width="1.6" fill="none"/>
<text x="167.2" y="30.4" font-size="13" textLength="28.4" lengthAdjust="spacingAndGlyphs" stroke="#000" stroke-width="0.63">B cell</text>
<text x="211.8" y="36.2" font-size="12.4" textLength="24.4" lengthAdjust="spacingAndGlyphs" stroke="#000" stroke-width="0.63">pDC</text>
<text x="245.3" y="45.6" font-size="12.4" textLength="21.6" lengthAdjust="spacingAndGlyphs" stroke="#000" stroke-width="0.63">cDC</text>
<path d="M151.8,78.5V108.9H187.7" fill="none" stroke="#000" stroke-width="2.3"/>
<text font-size="10.5" textLength="25.5" lengthAdjust="spacingAndGlyphs" stroke="#000" stroke-width="0.63" transform="translate(149.4,107) rotate(-90)">B220</text>
<text x="151.2" y="122.4" font-size="11.4" textLength="34.4" lengthAdjust="spacingAndGlyphs" stroke="#000" stroke-width="0.63">CD11c</text>
<path d="M222.6,106.2V131" stroke="#000" stroke-width="1.6" fill="none"/>
<path d="M222.6,138.4 L217.8,126.8 L222.6,130 L227.4,126.8z" fill="#000"/>
<text x="293.7" y="12.9" font-size="17.6" textLength="12.4" lengthAdjust="spacingAndGlyphs" font-weight="bold" stroke="#000" stroke-width="0.7">C</text>
<path d="M354.6,10.7V110.9H489.5V10.7H354.6M422.3,10.7V110.9" fill="none" stroke="#000" stroke-width="1.5"/>
<line x1="347.6" y1="110.9" x2="354.6" y2="110.9" stroke="#000" stroke-width="1.5"/>
<text x="346.8" y="115.2" font-size="10.3" text-anchor="end" stroke="#000" stroke-width="0.63">0</text>
<line x1="347.6" y1="90.86000000000001" x2="354.6" y2="90.86000000000001" stroke="#000" stroke-width="1.5"/>
<text x="346.8" y="95.2" font-size="10.3" text-anchor="end" stroke="#000" stroke-width="0.63">10</text>
<line x1="415.5" y1="90.86000000000001" x2="422.3" y2="90.86000000000001" stroke="#000" stroke-width="1.5"/>
<line x1="347.6" y1="70.82000000000001" x2="354.6" y2="70.82000000000001" stroke="#000" stroke-width="1.5"/>
<text x="346.8" y="75.1" font-size="10.3" text-anchor="end" stroke="#000" stroke-width="0.63">20</text>
<line x1="415.5" y1="70.82000000000001" x2="422.3" y2="70.82000000000001" stroke="#000" stroke-width="1.5"/>
<line x1="347.6" y1="50.78000000000001" x2="354.6" y2="50.78000000000001" stroke="#000" stroke-width="1.5"/>
<text x="346.8" y="55.1" font-size="10.3" text-anchor="end" stroke="#000" stroke-width="0.63">30</text>
<line x1="415.5" y1="50.78000000000001" x2="422.3" y2="50.78000000000001" stroke="#000" stroke-width="1.5"/>
<line x1="347.6" y1="30.74000000000001" x2="354.6" y2="30.74000000000001" stroke="#000" stroke-width="1.5"/>
<text x="346.8" y="35.0" font-size="10.3" text-anchor="end" stroke="#000" stroke-width="0.63">40</text>
<line x1="415.5" y1="30.74000000000001" x2="422.3" y2="30.74000000000001" stroke="#000" stroke-width="1.5"/>
<line x1="347.6" y1="10.700000000000003" x2="354.6" y2="10.700000000000003" stroke="#000" stroke-width="1.5"/>
<text x="346.8" y="15.0" font-size="10.3" text-anchor="end" stroke="#000" stroke-width="0.63">50</text>
<text x="356.3" y="8.7" font-size="11.2" textLength="36.6" lengthAdjust="spacingAndGlyphs" stroke="#000" stroke-width="0.59">1 Week</text>
<text x="423.8" y="8.7" font-size="11.2" textLength="38.6" lengthAdjust="spacingAndGlyphs" stroke="#000" stroke-width="0.59">5 Week</text>
<text font-size="11" textLength="101" lengthAdjust="spacingAndGlyphs" stroke="#000" stroke-width="0.63" transform="translate(314.5,110.2) rotate(-90)">% cDC or leukocyte</text>
<text font-size="11" textLength="59" lengthAdjust="spacingAndGlyphs" stroke="#000" stroke-width="0.63" transform="translate(331,86.3) rotate(-90)">chimerism</text>
<text x="365.4" y="126.8" font-size="11" textLength="15" lengthAdjust="spacingAndGlyphs" stroke="#000" stroke-width="0.63">DC</text>
<text x="401" y="126.8" font-size="11" textLength="10.2" lengthAdjust="spacingAndGlyphs" stroke="#000" stroke-width="0.63">Lk</text>
<text x="434.2" y="126.8" font-size="11" textLength="15" lengthAdjust="spacingAndGlyphs" stroke="#000" stroke-width="0.63">DC</text>
<text x="465.3" y="126.8" font-size="11" textLength="10.4" lengthAdjust="spacingAndGlyphs" stroke="#000" stroke-width="0.63">Lk</text>
<text x="391.5" y="65" font-size="13" font-weight="bold" text-anchor="middle" textLength="11.8" lengthAdjust="spacingAndGlyphs" fill="#111" stroke="#111" stroke-width="0.45">**</text>
<g stroke="#000" stroke-width="0.4" fill="#000">
<line x1="371.9" y1="49.4" x2="403.4" y2="94" stroke="#000" stroke-width="1.5"/>
<line x1="371.9" y1="52.5" x2="406.5" y2="95.2" stroke="#000" stroke-width="1.5"/>
<line x1="371.9" y1="63.8" x2="400.9" y2="97.1" stroke="#000" stroke-width="1.5"/>
<line x1="371.9" y1="67" x2="410.3" y2="97.7" stroke="#000" stroke-width="1.5"/>
<line x1="371.9" y1="72" x2="404.7" y2="99.6" stroke="#000" stroke-width="1.5"/>
<line x1="371.9" y1="76.4" x2="407.8" y2="100.2" stroke="#000" stroke-width="1.5"/>
<line x1="371.9" y1="85.8" x2="398.4" y2="101.5" stroke="#000" stroke-width="1.5"/>
<line x1="371.9" y1="98.3" x2="404.7" y2="108.4" stroke="#000" stroke-width="1.5"/>
<line x1="371.9" y1="107.1" x2="412.2" y2="108.4" stroke="#000" stroke-width="1.5"/>
<path d="M368.55,46.70h6.7l-3.35,6.0z"/>
<path d="M400.05,91.30h6.7l-3.35,6.0z"/>
<path d="M368.55,49.80h6.7l-3.35,6.0z"/>
<path d="M403.15,92.50h6.7l-3.35,6.0z"/>
<path d="M368.55,61.10h6.7l-3.35,6.0z"/>
<path d="M397.55,94.40h6.7l-3.35,6.0z"/>
<path d="M368.55,64.30h6.7l-3.35,6.0z"/>
<path d="M406.95,95.00h6.7l-3.35,6.0z"/>
<path d="M368.55,69.30h6.7l-3.35,6.0z"/>
<path d="M401.35,96.90h6.7l-3.35,6.0z"/>
<path d="M368.55,73.70h6.7l-3.35,6.0z"/>
<path d="M404.45,97.50h6.7l-3.35,6.0z"/>
<path d="M368.55,83.10h6.7l-3.35,6.0z"/>
<path d="M395.05,98.80h6.7l-3.35,6.0z"/>
<path d="M368.55,95.60h6.7l-3.35,6.0z"/>
<path d="M401.35,105.70h6.7l-3.35,6.0z"/>
<path d="M368.55,104.40h6.7l-3.35,6.0z"/>
<path d="M408.85,105.70h6.7l-3.35,6.0z"/>
</g>
<line x1="398.4" y1="102.1" x2="417.2" y2="102.1" stroke="#000" stroke-width="1.4"/>
<g stroke="#000" stroke-width="0.4" fill="#000">
<line x1="439.2" y1="20.3" x2="472.7" y2="24.2" stroke="#000" stroke-width="1.5"/>
<line x1="439.2" y1="35.1" x2="472.7" y2="35.8" stroke="#000" stroke-width="1.5"/>
<line x1="439.2" y1="48.5" x2="472.7" y2="48.9" stroke="#000" stroke-width="1.5"/>
<line x1="439.2" y1="80.3" x2="472.7" y2="80.8" stroke="#000" stroke-width="1.5"/>
<line x1="439.2" y1="96.9" x2="472.7" y2="93.9" stroke="#000" stroke-width="1.5"/>
<line x1="439.2" y1="96.9" x2="472.7" y2="101.5" stroke="#000" stroke-width="1.5"/>
<path d="M435.75,17.75h6.9l-3.45,6.3z"/>
<path d="M469.25,21.65h6.9l-3.45,6.3z"/>
<path d="M435.75,32.55h6.9l-3.45,6.3z"/>
<path d="M469.25,33.25h6.9l-3.45,6.3z"/>
<path d="M435.75,45.95h6.9l-3.45,6.3z"/>
<path d="M469.25,46.35h6.9l-3.45,6.3z"/>
<path d="M435.75,77.75h6.9l-3.45,6.3z"/>
<path d="M469.25,78.25h6.9l-3.45,6.3z"/>
<path d="M435.75,94.35h6.9l-3.45,6.3z"/>
<path d="M469.25,91.35h6.9l-3.45,6.3z"/>
<path d="M435.75,94.35h6.9l-3.45,6.3z"/>
<path d="M469.25,98.95h6.9l-3.45,6.3z"/>
</g>
<rect x="94.4" y="142.4" width="64.9" height="40.6" stroke="#111" stroke-width="1.25" fill="none"/>
<path d="M96.40,183.4v3.00M101.13,183.4v1.80M103.90,183.4v1.80M105.87,183.4v1.80M107.39,183.4v1.80M108.64,183.4v1.80M109.69,183.4v1.80M110.60,183.4v1.80M111.41,183.4v1.80M112.12,183.4v3.00M116.86,183.4v1.80M119.63,183.4v1.80M121.59,183.4v1.80M123.12,183.4v1.80M124.36,183.4v1.80M125.41,183.4v1.80M126.33,183.4v1.80M127.13,183.4v1.80M127.85,183.4v3.00M132.58,183.4v1.80M135.35,183.4v1.80M137.32,183.4v1.80M138.84,183.4v1.80M140.09,183.4v1.80M141.14,183.4v1.80M142.05,183.4v1.80M142.86,183.4v1.80M143.58,183.4v3.00M148.31,183.4v1.80M151.08,183.4v1.80M153.04,183.4v1.80M154.57,183.4v1.80M155.81,183.4v1.80M156.86,183.4v1.80M157.78,183.4v1.80M158.58,183.4v1.80" stroke="#1a1a1a" stroke-width="0.8" fill="none"/>
<path d="M94.4,180.1h-1.6M94.4,177.2h-1.6M94.4,174.3h-1.6M94.4,171.4h-1.6M94.4,168.5h-1.6M94.4,165.6h-1.6M94.4,162.7h-1.6M94.4,159.8h-1.6M94.4,156.9h-1.6M94.4,154.0h-1.6M94.4,151.1h-1.6M94.4,148.2h-1.6M94.4,145.3h-1.6" stroke="#666" stroke-width="0.6" fill="none"/>
<rect x="94.4" y="189.8" width="64.9" height="40.7" stroke="#111" stroke-width="1.25" fill="none"/>
<path d="M96.40,230.9v3.00M101.13,230.9v1.80M103.90,230.9v1.80M105.87,230.9v1.80M107.39,230.9v1.80M108.64,230.9v1.80M109.69,230.9v1.80M110.60,230.9v1.80M111.41,230.9v1.80M112.12,230.9v3.00M116.86,230.9v1.80M119.63,230.9v1.80M121.59,230.9v1.80M123.12,230.9v1.80M124.36,230.9v1.80M125.41,230.9v1.80M126.33,230.9v1.80M127.13,230.9v1.80M127.85,230.9v3.00M132.58,230.9v1.80M135.35,230.9v1.80M137.32,230.9v1.80M138.84,230.9v1.80M140.09,230.9v1.80M141.14,230.9v1.80M142.05,230.9v1.80M142.86,230.9v1.80M143.58,230.9v3.00M148.31,230.9v1.80M151.08,230.9v1.80M153.04,230.9v1.80M154.57,230.9v1.80M155.81,230.9v1.80M156.86,230.9v1.80M157.78,230.9v1.80M158.58,230.9v1.80" stroke="#1a1a1a" stroke-width="0.8" fill="none"/>
<path d="M94.4,227.6h-1.6M94.4,224.7h-1.6M94.4,221.8h-1.6M94.4,218.9h-1.6M94.4,216.0h-1.6M94.4,213.1h-1.6M94.4,210.2h-1.6M94.4,207.2h-1.6M94.4,204.3h-1.6M94.4,201.4h-1.6M94.4,198.5h-1.6M94.4,195.6h-1.6M94.4,192.7h-1.6" stroke="#666" stroke-width="0.6" fill="none"/>
<rect x="163.8" y="142.4" width="63.7" height="40.6" stroke="#111" stroke-width="1.25" fill="none"/>
<path d="M165.80,183.4v3.00M170.44,183.4v1.80M173.16,183.4v1.80M175.09,183.4v1.80M176.58,183.4v1.80M177.80,183.4v1.80M178.84,183.4v1.80M179.73,183.4v1.80M180.52,183.4v1.80M181.23,183.4v3.00M185.87,183.4v1.80M188.58,183.4v1.80M190.51,183.4v1.80M192.01,183.4v1.80M193.23,183.4v1.80M194.26,183.4v1.80M195.16,183.4v1.80M195.94,183.4v1.80M196.65,183.4v3.00M201.29,183.4v1.80M204.01,183.4v1.80M205.94,183.4v1.80M207.43,183.4v1.80M208.65,183.4v1.80M209.69,183.4v1.80M210.58,183.4v1.80M211.37,183.4v1.80M212.07,183.4v3.00M216.72,183.4v1.80M219.43,183.4v1.80M221.36,183.4v1.80M222.86,183.4v1.80M224.08,183.4v1.80M225.11,183.4v1.80M226.01,183.4v1.80M226.79,183.4v1.80" stroke="#1a1a1a" stroke-width="0.8" fill="none"/>
<path d="M163.8,180.1h-1.6M163.8,177.2h-1.6M163.8,174.3h-1.6M163.8,171.4h-1.6M163.8,168.5h-1.6M163.8,165.6h-1.6M163.8,162.7h-1.6M163.8,159.8h-1.6M163.8,156.9h-1.6M163.8,154.0h-1.6M163.8,151.1h-1.6M163.8,148.2h-1.6M163.8,145.3h-1.6" stroke="#666" stroke-width="0.6" fill="none"/>
<rect x="163.8" y="189.8" width="63.7" height="40.7" stroke="#111" stroke-width="1.25" fill="none"/>
<path d="M165.80,230.9v3.00M170.44,230.9v1.80M173.16,230.9v1.80M175.09,230.9v1.80M176.58,230.9v1.80M177.80,230.9v1.80M178.84,230.9v1.80M179.73,230.9v1.80M180.52,230.9v1.80M181.23,230.9v3.00M185.87,230.9v1.80M188.58,230.9v1.80M190.51,230.9v1.80M192.01,230.9v1.80M193.23,230.9v1.80M194.26,230.9v1.80M195.16,230.9v1.80M195.94,230.9v1.80M196.65,230.9v3.00M201.29,230.9v1.80M204.01,230.9v1.80M205.94,230.9v1.80M207.43,230.9v1.80M208.65,230.9v1.80M209.69,230.9v1.80M210.58,230.9v1.80M211.37,230.9v1.80M212.07,230.9v3.00M216.72,230.9v1.80M219.43,230.9v1.80M221.36,230.9v1.80M222.86,230.9v1.80M224.08,230.9v1.80M225.11,230.9v1.80M226.01,230.9v1.80M226.79,230.9v1.80" stroke="#1a1a1a" stroke-width="0.8" fill="none"/>
<path d="M163.8,227.6h-1.6M163.8,224.7h-1.6M163.8,221.8h-1.6M163.8,218.9h-1.6M163.8,216.0h-1.6M163.8,213.1h-1.6M163.8,210.2h-1.6M163.8,207.2h-1.6M163.8,204.3h-1.6M163.8,201.4h-1.6M163.8,198.5h-1.6M163.8,195.6h-1.6M163.8,192.7h-1.6" stroke="#666" stroke-width="0.6" fill="none"/>
<rect x="232.6" y="142.4" width="62.4" height="40.6" stroke="#111" stroke-width="1.25" fill="none"/>
<path d="M234.60,183.4v3.00M239.15,183.4v1.80M241.80,183.4v1.80M243.69,183.4v1.80M245.15,183.4v1.80M246.35,183.4v1.80M247.36,183.4v1.80M248.24,183.4v1.80M249.01,183.4v1.80M249.70,183.4v3.00M254.25,183.4v1.80M256.90,183.4v1.80M258.79,183.4v1.80M260.25,183.4v1.80M261.45,183.4v1.80M262.46,183.4v1.80M263.34,183.4v1.80M264.11,183.4v1.80M264.80,183.4v3.00M269.35,183.4v1.80M272.00,183.4v1.80M273.89,183.4v1.80M275.35,183.4v1.80M276.55,183.4v1.80M277.56,183.4v1.80M278.44,183.4v1.80M279.21,183.4v1.80M279.90,183.4v3.00M284.45,183.4v1.80M287.10,183.4v1.80M288.99,183.4v1.80M290.45,183.4v1.80M291.65,183.4v1.80M292.66,183.4v1.80M293.54,183.4v1.80M294.31,183.4v1.80" stroke="#1a1a1a" stroke-width="0.8" fill="none"/>
<path d="M232.6,180.1h-1.6M232.6,177.2h-1.6M232.6,174.3h-1.6M232.6,171.4h-1.6M232.6,168.5h-1.6M232.6,165.6h-1.6M232.6,162.7h-1.6M232.6,159.8h-1.6M232.6,156.9h-1.6M232.6,154.0h-1.6M232.6,151.1h-1.6M232.6,148.2h-1.6M232.6,145.3h-1.6" stroke="#666" stroke-width="0.6" fill="none"/>
<rect x="232.6" y="189.8" width="62.4" height="40.7" stroke="#111" stroke-width="1.25" fill="none"/>
<path d="M234.60,230.9v3.00M239.15,230.9v1.80M241.80,230.9v1.80M243.69,230.9v1.80M245.15,230.9v1.80M246.35,230.9v1.80M247.36,230.9v1.80M248.24,230.9v1.80M249.01,230.9v1.80M249.70,230.9v3.00M254.25,230.9v1.80M256.90,230.9v1.80M258.79,230.9v1.80M260.25,230.9v1.80M261.45,230.9v1.80M262.46,230.9v1.80M263.34,230.9v1.80M264.11,230.9v1.80M264.80,230.9v3.00M269.35,230.9v1.80M272.00,230.9v1.80M273.89,230.9v1.80M275.35,230.9v1.80M276.55,230.9v1.80M277.56,230.9v1.80M278.44,230.9v1.80M279.21,230.9v1.80M279.90,230.9v3.00M284.45,230.9v1.80M287.10,230.9v1.80M288.99,230.9v1.80M290.45,230.9v1.80M291.65,230.9v1.80M292.66,230.9v1.80M293.54,230.9v1.80M294.31,230.9v1.80" stroke="#1a1a1a" stroke-width="0.8" fill="none"/>
<path d="M232.6,227.6h-1.6M232.6,224.7h-1.6M232.6,221.8h-1.6M232.6,218.9h-1.6M232.6,216.0h-1.6M232.6,213.1h-1.6M232.6,210.2h-1.6M232.6,207.2h-1.6M232.6,204.3h-1.6M232.6,201.4h-1.6M232.6,198.5h-1.6M232.6,195.6h-1.6M232.6,192.7h-1.6" stroke="#666" stroke-width="0.6" fill="none"/>
<rect x="300" y="142.4" width="62.6" height="40.6" stroke="#111" stroke-width="1.25" fill="none"/>
<path d="M302.00,183.4v3.00M306.56,183.4v1.80M309.23,183.4v1.80M311.12,183.4v1.80M312.59,183.4v1.80M313.79,183.4v1.80M314.80,183.4v1.80M315.68,183.4v1.80M316.46,183.4v1.80M317.15,183.4v3.00M321.71,183.4v1.80M324.38,183.4v1.80M326.27,183.4v1.80M327.74,183.4v1.80M328.94,183.4v1.80M329.95,183.4v1.80M330.83,183.4v1.80M331.61,183.4v1.80M332.30,183.4v3.00M336.86,183.4v1.80M339.53,183.4v1.80M341.42,183.4v1.80M342.89,183.4v1.80M344.09,183.4v1.80M345.10,183.4v1.80M345.98,183.4v1.80M346.76,183.4v1.80M347.45,183.4v3.00M352.01,183.4v1.80M354.68,183.4v1.80M356.57,183.4v1.80M358.04,183.4v1.80M359.24,183.4v1.80M360.25,183.4v1.80M361.13,183.4v1.80M361.91,183.4v1.80" stroke="#1a1a1a" stroke-width="0.8" fill="none"/>
<path d="M300,180.1h-1.6M300,177.2h-1.6M300,174.3h-1.6M300,171.4h-1.6M300,168.5h-1.6M300,165.6h-1.6M300,162.7h-1.6M300,159.8h-1.6M300,156.9h-1.6M300,154.0h-1.6M300,151.1h-1.6M300,148.2h-1.6M300,145.3h-1.6" stroke="#666" stroke-width="0.6" fill="none"/>
<rect x="300" y="189.8" width="62.6" height="40.7" stroke="#111" stroke-width="1.25" fill="none"/>
<path d="M302.00,230.9v3.00M306.56,230.9v1.80M309.23,230.9v1.80M311.12,230.9v1.80M312.59,230.9v1.80M313.79,230.9v1.80M314.80,230.9v1.80M315.68,230.9v1.80M316.46,230.9v1.80M317.15,230.9v3.00M321.71,230.9v1.80M324.38,230.9v1.80M326.27,230.9v1.80M327.74,230.9v1.80M328.94,230.9v1.80M329.95,230.9v1.80M330.83,230.9v1.80M331.61,230.9v1.80M332.30,230.9v3.00M336.86,230.9v1.80M339.53,230.9v1.80M341.42,230.9v1.80M342.89,230.9v1.80M344.09,230.9v1.80M345.10,230.9v1.80M345.98,230.9v1.80M346.76,230.9v1.80M347.45,230.9v3.00M352.01,230.9v1.80M354.68,230.9v1.80M356.57,230.9v1.80M358.04,230.9v1.80M359.24,230.9v1.80M360.25,230.9v1.80M361.13,230.9v1.80M361.91,230.9v1.80" stroke="#1a1a1a" stroke-width="0.8" fill="none"/>
<path d="M300,227.6h-1.6M300,224.7h-1.6M300,221.8h-1.6M300,218.9h-1.6M300,216.0h-1.6M300,213.1h-1.6M300,210.2h-1.6M300,207.2h-1.6M300,204.3h-1.6M300,201.4h-1.6M300,198.5h-1.6M300,195.6h-1.6M300,192.7h-1.6" stroke="#666" stroke-width="0.6" fill="none"/>
<rect x="366.6" y="142.4" width="64.0" height="40.6" stroke="#111" stroke-width="1.25" fill="none"/>
<path d="M368.60,183.4v3.00M373.27,183.4v1.80M376.00,183.4v1.80M377.93,183.4v1.80M379.43,183.4v1.80M380.66,183.4v1.80M381.70,183.4v1.80M382.60,183.4v1.80M383.39,183.4v1.80M384.10,183.4v3.00M388.77,183.4v1.80M391.50,183.4v1.80M393.43,183.4v1.80M394.93,183.4v1.80M396.16,183.4v1.80M397.20,183.4v1.80M398.10,183.4v1.80M398.89,183.4v1.80M399.60,183.4v3.00M404.27,183.4v1.80M407.00,183.4v1.80M408.93,183.4v1.80M410.43,183.4v1.80M411.66,183.4v1.80M412.70,183.4v1.80M413.60,183.4v1.80M414.39,183.4v1.80M415.10,183.4v3.00M419.77,183.4v1.80M422.50,183.4v1.80M424.43,183.4v1.80M425.93,183.4v1.80M427.16,183.4v1.80M428.20,183.4v1.80M429.10,183.4v1.80M429.89,183.4v1.80" stroke="#1a1a1a" stroke-width="0.8" fill="none"/>
<path d="M366.6,180.1h-1.6M366.6,177.2h-1.6M366.6,174.3h-1.6M366.6,171.4h-1.6M366.6,168.5h-1.6M366.6,165.6h-1.6M366.6,162.7h-1.6M366.6,159.8h-1.6M366.6,156.9h-1.6M366.6,154.0h-1.6M366.6,151.1h-1.6M366.6,148.2h-1.6M366.6,145.3h-1.6" stroke="#666" stroke-width="0.6" fill="none"/>
<rect x="366.6" y="189.8" width="64.0" height="40.7" stroke="#111" stroke-width="1.25" fill="none"/>
<path d="M368.60,230.9v3.00M373.27,230.9v1.80M376.00,230.9v1.80M377.93,230.9v1.80M379.43,230.9v1.80M380.66,230.9v1.80M381.70,230.9v1.80M382.60,230.9v1.80M383.39,230.9v1.80M384.10,230.9v3.00M388.77,230.9v1.80M391.50,230.9v1.80M393.43,230.9v1.80M394.93,230.9v1.80M396.16,230.9v1.80M397.20,230.9v1.80M398.10,230.9v1.80M398.89,230.9v1.80M399.60,230.9v3.00M404.27,230.9v1.80M407.00,230.9v1.80M408.93,230.9v1.80M410.43,230.9v1.80M411.66,230.9v1.80M412.70,230.9v1.80M413.60,230.9v1.80M414.39,230.9v1.80M415.10,230.9v3.00M419.77,230.9v1.80M422.50,230.9v1.80M424.43,230.9v1.80M425.93,230.9v1.80M427.16,230.9v1.80M428.20,230.9v1.80M429.10,230.9v1.80M429.89,230.9v1.80" stroke="#1a1a1a" stroke-width="0.8" fill="none"/>
<path d="M366.6,227.6h-1.6M366.6,224.7h-1.6M366.6,221.8h-1.6M366.6,218.9h-1.6M366.6,216.0h-1.6M366.6,213.1h-1.6M366.6,210.2h-1.6M366.6,207.2h-1.6M366.6,204.3h-1.6M366.6,201.4h-1.6M366.6,198.5h-1.6M366.6,195.6h-1.6M366.6,192.7h-1.6" stroke="#666" stroke-width="0.6" fill="none"/>
<path d="M95.0,182.4L95.0,178.1L95.5,177.3L96.0,176.5L96.5,175.6L97.0,174.7L97.5,173.8L98.0,172.8L98.5,171.9L99.0,170.9L99.5,169.9L100.0,169.0L100.5,168.1L101.0,167.1L101.5,166.2L102.0,165.3L102.5,164.3L103.0,163.3L103.5,162.3L104.0,161.3L104.5,160.1L105.0,159.0L105.5,157.7L106.0,156.5L106.5,155.2L107.0,153.9L107.5,152.6L108.0,151.1L108.5,149.4L109.0,147.7L109.5,146.4L110.0,145.9L110.5,146.0L111.0,146.1L111.5,146.0L112.0,146.0L112.5,146.3L113.0,147.1L113.5,148.3L114.0,150.0L114.5,152.0L115.0,154.3L115.5,156.8L116.0,159.3L116.5,162.0L117.0,164.5L117.5,167.0L118.0,169.3L118.5,171.4L119.0,173.4L119.5,175.0L120.0,176.5L120.5,177.7L121.0,178.7L121.5,179.6L122.0,180.3L122.5,180.8L123.0,181.2L123.5,181.5L124.0,181.8L124.5,182.0L125.0,182.1L125.5,182.2L126.0,182.3L126.5,182.3L127.0,182.3L127.5,182.3L128.0,182.2L128.5,182.1L129.0,181.8L129.5,181.4L130.0,180.8L130.5,179.9L131.0,178.7L131.5,177.2L132.0,175.4L132.5,173.5L133.0,171.7L133.5,170.1L134.0,168.9L134.5,168.4L135.0,168.6L135.5,169.5L136.0,171.0L136.5,172.8L137.0,174.7L137.5,176.5L138.0,178.2L138.5,179.5L139.0,180.5L139.5,181.2L140.0,181.7L140.5,182.0L141.0,182.2L141.5,182.3L142.0,182.4L142.0,182.4z" fill="#555555"/>
<path d="M167.5,182.4L167.5,181.7L168.0,181.1L168.5,180.4L169.0,179.2L169.5,177.6L170.0,175.4L170.5,172.6L171.0,169.2L171.5,165.2L172.0,160.9L172.5,156.4L173.0,152.1L173.5,148.4L174.0,145.6L174.5,143.9L175.0,143.6L175.5,144.0L176.0,144.9L176.5,146.3L177.0,148.1L177.5,150.2L178.0,152.6L178.5,155.1L179.0,157.8L179.5,160.4L180.0,162.9L180.5,165.4L181.0,167.7L181.5,169.8L182.0,171.7L182.5,173.4L183.0,174.8L183.5,176.0L184.0,177.1L184.5,177.9L185.0,178.6L185.5,179.2L186.0,179.7L186.5,180.2L187.0,180.5L187.5,180.8L188.0,181.1L188.5,181.3L189.0,181.5L189.5,181.6L190.0,181.8L190.5,181.9L191.0,182.0L191.5,182.0L192.0,182.1L192.5,182.2L193.0,182.2L193.5,182.3L194.0,182.3L194.5,182.3L195.0,182.3L195.5,182.4L196.0,182.4L196.5,182.4L197.0,182.4L197.5,182.4L198.0,182.4L198.0,182.4z" fill="#555555"/>
<path d="M236.5,182.4L236.5,182.2L237.0,182.1L237.5,181.8L238.0,181.2L238.5,180.3L239.0,178.8L239.5,176.5L240.0,173.4L240.5,169.2L241.0,164.2L241.5,158.7L242.0,153.2L242.5,148.4L243.0,144.9L243.5,143.3L244.0,143.6L244.5,144.8L245.0,146.8L245.5,149.6L246.0,153.0L246.5,156.6L247.0,160.3L247.5,163.9L248.0,167.2L248.5,170.2L249.0,172.8L249.5,174.9L250.0,176.7L250.5,178.0L251.0,179.0L251.5,179.8L252.0,180.3L252.5,180.8L253.0,181.0L253.5,181.3L254.0,181.4L254.5,181.5L255.0,181.7L255.5,181.7L256.0,181.8L256.5,181.9L257.0,182.0L257.5,182.0L258.0,182.1L258.5,182.1L259.0,182.2L259.0,182.4z" fill="#555555"/>
<path d="M303.5,182.4L303.5,182.2L304.0,182.0L304.5,181.6L305.0,180.9L305.5,179.8L306.0,178.0L306.5,175.6L307.0,172.3L307.5,168.1L308.0,163.2L308.5,157.9L309.0,152.7L309.5,148.2L310.0,145.0L310.5,143.6L311.0,143.7L311.5,144.7L312.0,146.4L312.5,148.8L313.0,151.6L313.5,154.7L314.0,158.0L314.5,161.1L315.0,164.1L315.5,166.8L316.0,169.1L316.5,171.0L317.0,172.5L317.5,173.6L318.0,174.5L318.5,175.0L319.0,175.3L319.5,175.5L320.0,175.6L320.5,175.6L321.0,175.6L321.5,175.6L322.0,175.6L322.5,175.7L323.0,175.8L323.5,175.8L324.0,175.9L324.5,176.0L325.0,176.2L325.5,176.3L326.0,176.5L326.5,176.7L327.0,176.9L327.5,177.1L328.0,177.4L328.5,177.6L329.0,177.9L329.5,178.1L330.0,178.4L330.5,178.6L331.0,178.9L331.5,179.1L332.0,179.3L332.5,179.6L333.0,179.8L333.5,180.0L334.0,180.2L334.5,180.4L335.0,180.6L335.5,180.8L336.0,181.0L336.5,181.1L337.0,181.3L337.5,181.4L338.0,181.5L338.5,181.6L339.0,181.7L339.5,181.8L340.0,181.9L340.5,181.9L341.0,182.0L341.5,182.1L342.0,182.1L342.0,182.4z" fill="#555555"/>
<path d="M370.5,182.4L370.5,182.2L371.0,182.0L371.5,181.8L372.0,181.4L372.5,180.8L373.0,179.8L373.5,178.5L374.0,176.7L374.5,174.4L375.0,171.4L375.5,167.9L376.0,164.0L376.5,159.7L377.0,155.3L377.5,151.2L378.0,147.7L378.5,145.1L379.0,143.6L379.5,143.4L380.0,144.0L380.5,145.4L381.0,147.4L381.5,149.9L382.0,152.9L382.5,156.1L383.0,159.4L383.5,162.6L384.0,165.7L384.5,168.5L385.0,171.0L385.5,173.2L386.0,175.1L386.5,176.6L387.0,177.8L387.5,178.8L388.0,179.6L388.5,180.2L389.0,180.6L389.5,180.9L390.0,181.2L390.5,181.4L391.0,181.6L391.5,181.7L392.0,181.8L392.5,181.9L393.0,181.9L393.5,182.0L394.0,182.1L394.5,182.1L395.0,182.2L395.0,182.4z" fill="#555555"/>
<path d="M95.2,229.9L95.2,228.4L95.7,228.1L96.2,227.9L96.7,228.1L97.2,228.1L97.7,227.7L98.2,227.5L98.7,227.2L99.2,227.6L99.7,227.5L100.2,226.9L100.7,226.8L101.2,226.3L101.7,226.3L102.2,226.5L102.7,226.4L103.2,225.3L103.7,226.1L104.2,226.1L104.7,226.1L105.2,225.3L105.7,224.9L106.2,224.8L106.7,224.2L107.2,223.5L107.7,222.6L108.2,221.5L108.7,221.4L109.2,222.2L109.7,219.0L110.2,220.2L110.7,217.8L111.2,218.3L111.7,215.3L112.2,215.4L112.7,212.9L113.2,206.8L113.7,211.7L114.2,209.5L114.7,213.1L115.2,210.9L115.7,209.2L116.2,210.8L116.7,210.3L117.2,211.3L117.7,213.9L118.2,212.0L118.7,215.1L119.2,212.1L119.7,216.6L120.2,216.1L120.7,218.0L121.2,218.1L121.7,220.7L122.2,220.2L122.7,222.0L123.2,221.9L123.7,223.0L124.2,223.9L124.7,224.8L125.2,224.3L125.7,224.6L126.2,224.0L126.7,224.9L127.2,224.1L127.7,223.6L128.2,223.0L128.7,222.2L129.2,221.2L129.7,220.7L130.2,219.9L130.7,217.8L131.2,214.9L131.7,211.6L132.2,210.4L132.7,208.1L133.2,206.5L133.7,204.6L134.2,203.9L134.7,200.5L135.2,196.0L135.7,200.4L136.2,200.4L136.7,191.2L137.2,195.9L137.7,193.1L138.2,193.4L138.7,200.2L139.2,190.6L139.7,192.5L140.2,198.5L140.7,198.2L141.2,201.5L141.7,205.7L142.2,205.5L142.7,206.3L143.2,206.8L143.7,209.6L144.2,212.6L144.7,212.5L145.2,217.2L145.7,216.9L146.2,218.2L146.7,220.9L147.2,223.3L147.7,223.6L148.2,223.8L148.7,224.5L149.2,224.8L149.7,226.5L150.2,226.6L150.7,226.9L151.2,227.4L151.7,228.2L152.2,227.7L152.7,227.7L153.0,229.9z" fill="#848484"/>
<path d="M96.22,228.6V227.2M98.06,229.6V226.8M98.84,228.3V226.6M99.56,228.1V225.6M100.11,229.8V226.3M100.63,228.6V225.4M101.14,228.4V224.3M101.90,229.5V224.3M102.37,227.4V224.5M104.57,227.5V224.0M107.06,225.9V221.7M108.53,226.1V216.8M109.16,225.5V219.2M110.83,222.9V215.7M111.54,221.9V214.1M112.01,224.4V212.5M113.23,229.8V208.4M114.36,217.0V208.3M115.11,220.2V206.1M115.65,218.1V206.7M117.13,223.0V209.6M119.30,224.9V212.3M119.88,224.8V211.1M121.36,229.3V216.7M123.00,229.1V221.6M123.65,225.8V222.3M124.21,227.9V221.1M126.52,228.1V223.5M127.05,229.2V221.5M127.62,226.8V222.8M128.30,225.8V222.3M129.16,224.0V218.4M129.94,222.8V215.1M130.56,221.9V215.7M134.16,211.3V190.7M136.28,227.9V190.7M136.93,229.2V195.1M137.74,209.7V190.7M138.27,226.1V194.4M140.65,208.7V195.2M141.14,214.5V194.7M141.88,213.6V202.4M142.58,214.2V197.0M144.01,222.2V205.0M144.55,229.6V207.4M145.44,226.0V216.2M146.25,229.4V214.4M146.94,223.7V220.4M147.81,227.7V221.6M149.29,229.3V224.8M150.98,229.3V226.4M151.59,229.7V226.0M152.37,229.6V226.9" stroke="#333" stroke-width="0.45" fill="none" opacity="0.85"/>
<path d="M168.0,229.9L168.0,229.3L168.5,229.2L169.0,229.0L169.5,228.9L170.0,228.4L170.5,228.0L171.0,227.5L171.5,227.4L172.0,226.9L172.5,226.6L173.0,225.3L173.5,225.0L174.0,224.1L174.5,222.0L175.0,219.5L175.5,218.8L176.0,220.5L176.5,217.2L177.0,214.0L177.5,212.6L178.0,212.5L178.5,206.4L179.0,208.8L179.5,206.1L180.0,204.4L180.5,204.7L181.0,205.2L181.5,198.1L182.0,198.4L182.5,205.1L183.0,198.0L183.5,198.3L184.0,198.3L184.5,200.8L185.0,201.5L185.5,200.4L186.0,198.6L186.5,197.5L187.0,207.7L187.5,203.2L188.0,204.7L188.5,207.6L189.0,211.4L189.5,210.9L190.0,212.8L190.5,212.4L191.0,214.1L191.5,213.9L192.0,216.5L192.5,219.5L193.0,219.2L193.5,219.8L194.0,220.6L194.5,221.5L195.0,221.4L195.5,222.0L196.0,224.1L196.5,224.5L197.0,225.0L197.5,225.1L198.0,226.0L198.5,226.2L199.0,226.8L199.5,227.2L200.0,227.0L200.5,227.6L201.0,227.4L201.5,227.4L202.0,227.8L202.5,228.0L203.0,228.3L203.5,228.6L204.0,228.4L204.5,228.7L205.0,228.7L205.5,228.8L206.0,228.9L206.0,229.9z" fill="#848484"/>
<path d="M171.04,228.5V225.2M173.20,226.4V224.0M175.96,226.8V217.2M178.00,221.0V211.1M178.71,220.1V190.9M180.36,218.3V190.7M181.15,225.9V200.3M181.77,224.6V199.6M182.62,217.4V190.7M184.34,216.7V198.8M185.13,219.7V196.4M185.65,217.0V199.3M186.77,224.3V197.6M187.51,224.7V201.0M188.29,229.2V202.0M190.22,216.9V211.3M191.09,224.4V210.3M191.98,224.8V214.0M194.33,227.1V218.6M194.87,227.0V220.0M195.38,228.6V221.6M196.09,226.5V222.0M198.22,228.1V224.0M198.83,228.1V224.8M199.53,229.5V225.3M201.42,229.4V226.2M202.56,229.0V227.2M203.88,229.7V227.7M205.31,229.4V227.8" stroke="#333" stroke-width="0.45" fill="none" opacity="0.85"/>
<path d="M245.0,229.9L245.0,228.7L245.5,228.6L246.0,228.3L246.5,228.2L247.0,227.7L247.5,227.8L248.0,227.1L248.5,226.7L249.0,226.6L249.5,226.6L250.0,225.8L250.5,224.7L251.0,224.7L251.5,224.0L252.0,223.0L252.5,222.2L253.0,221.8L253.5,220.0L254.0,219.4L254.5,220.2L255.0,217.8L255.5,217.4L256.0,214.0L256.5,214.0L257.0,213.1L257.5,212.7L258.0,211.7L258.5,210.8L259.0,206.2L259.5,208.0L260.0,207.7L260.5,204.0L261.0,202.5L261.5,203.2L262.0,203.9L262.5,198.2L263.0,197.4L263.5,203.9L264.0,200.6L264.5,192.4L265.0,199.1L265.5,200.9L266.0,194.4L266.5,196.7L267.0,193.6L267.5,200.9L268.0,193.5L268.5,197.8L269.0,203.4L269.5,207.2L270.0,208.9L270.5,214.7L271.0,216.8L271.5,221.0L272.0,223.0L272.5,225.9L273.0,227.0L273.5,228.2L274.0,228.7L274.5,229.2L275.0,229.5L275.5,229.7L276.0,229.8L276.5,229.8L276.5,229.9z" fill="#848484"/>
<path d="M245.30,229.4V227.9M247.23,229.8V227.0M249.75,229.2V224.8M250.55,228.7V224.2M252.11,226.2V220.8M256.66,225.0V212.1M257.30,220.4V205.5M258.20,223.8V208.5M259.25,228.0V204.6M260.53,213.0V197.3M260.99,226.3V201.3M261.54,225.3V200.4M262.07,226.2V192.7M262.86,219.2V190.7M264.29,216.7V193.3M265.17,206.4V195.7M265.98,216.6V193.1M266.67,223.8V190.7M267.12,220.4V194.4M268.65,224.1V196.2M269.49,218.5V201.4M270.39,220.2V210.3M272.16,226.7V223.1M272.65,228.1V222.9M273.49,228.7V227.0" stroke="#333" stroke-width="0.45" fill="none" opacity="0.85"/>
<path d="M305.5,229.9L305.5,229.0L306.0,228.8L306.5,228.5L307.0,228.5L307.5,228.2L308.0,227.8L308.5,227.7L309.0,227.0L309.5,226.9L310.0,226.8L310.5,226.1L311.0,225.7L311.5,225.4L312.0,224.0L312.5,222.7L313.0,223.3L313.5,222.4L314.0,221.7L314.5,221.8L315.0,218.9L315.5,219.0L316.0,216.8L316.5,217.4L317.0,216.3L317.5,212.8L318.0,214.5L318.5,212.7L319.0,210.0L319.5,211.7L320.0,208.4L320.5,210.8L321.0,208.5L321.5,208.2L322.0,204.1L322.5,206.0L323.0,205.8L323.5,202.1L324.0,198.6L324.5,205.1L325.0,195.8L325.5,205.4L326.0,202.9L326.5,203.8L327.0,197.1L327.5,200.8L328.0,201.8L328.5,200.2L329.0,202.1L329.5,205.5L330.0,207.4L330.5,210.5L331.0,205.8L331.5,209.8L332.0,210.6L332.5,211.0L333.0,211.2L333.5,212.1L334.0,213.1L334.5,212.3L335.0,214.8L335.5,218.4L336.0,217.3L336.5,219.9L337.0,221.0L337.5,220.0L338.0,221.9L338.5,222.2L339.0,221.8L339.5,222.4L340.0,223.5L340.5,224.6L341.0,226.0L341.5,224.8L342.0,226.0L342.5,225.8L343.0,226.1L343.5,226.5L344.0,226.4L344.5,227.0L345.0,227.2L345.5,227.5L346.0,227.3L346.5,227.6L347.0,228.3L347.5,228.2L348.0,228.3L348.5,228.4L349.0,228.8L349.5,228.8L350.0,228.9L350.5,229.0L351.0,229.1L351.5,229.2L352.0,229.5L352.5,229.5L353.0,229.5L353.0,229.9z" fill="#848484"/>
<path d="M307.07,229.2V227.4M307.83,228.5V227.1M308.45,229.7V225.8M309.30,228.7V224.9M310.01,227.8V223.3M310.73,227.3V223.3M311.87,227.7V223.5M312.35,229.1V222.4M313.99,227.5V219.2M315.16,226.3V215.1M315.68,225.6V216.5M316.25,226.9V216.2M316.99,220.1V214.7M317.71,225.3V212.3M321.36,221.0V194.6M322.04,213.7V199.7M322.64,216.1V202.0M323.94,228.5V190.7M324.45,228.8V193.8M325.21,224.8V200.7M325.80,210.3V200.3M327.53,213.1V198.6M329.78,225.5V204.8M330.36,228.8V206.1M331.85,229.4V207.8M332.70,223.1V210.2M334.23,219.7V211.4M335.38,228.2V208.5M337.78,223.8V219.8M340.00,229.5V221.5M340.55,229.1V223.3M341.91,227.6V223.9M342.76,227.1V225.1M343.51,228.2V224.9M344.65,228.6V226.1M345.23,228.3V226.5M345.72,229.4V226.8M346.41,228.4V226.6M347.31,229.4V226.6M348.18,229.7V227.5M350.29,229.4V227.8" stroke="#333" stroke-width="0.45" fill="none" opacity="0.85"/>
<path d="M368.5,229.9L368.5,228.3L369.0,228.4L369.5,227.7L370.0,227.4L370.5,227.7L371.0,226.8L371.5,226.1L372.0,225.9L372.5,225.0L373.0,225.1L373.5,224.5L374.0,224.6L374.5,223.8L375.0,223.8L375.5,222.5L376.0,220.8L376.5,219.7L377.0,218.1L377.5,218.3L378.0,218.7L378.5,216.0L379.0,215.7L379.5,211.9L380.0,210.4L380.5,210.9L381.0,213.5L381.5,211.4L382.0,209.1L382.5,209.9L383.0,206.4L383.5,205.1L384.0,203.8L384.5,204.4L385.0,206.4L385.5,205.7L386.0,203.2L386.5,198.9L387.0,197.8L387.5,199.0L388.0,200.4L388.5,199.4L389.0,198.9L389.5,197.7L390.0,199.0L390.5,205.8L391.0,199.3L391.5,201.3L392.0,203.9L392.5,201.9L393.0,203.2L393.5,204.7L394.0,209.3L394.5,205.8L395.0,205.7L395.5,207.9L396.0,211.9L396.5,208.7L397.0,209.2L397.5,211.2L398.0,211.8L398.5,214.0L399.0,215.4L399.5,214.6L400.0,216.8L400.5,217.0L401.0,214.4L401.5,218.2L402.0,219.7L402.5,222.0L403.0,221.3L403.5,221.5L404.0,223.2L404.5,223.5L405.0,225.3L405.5,224.3L406.0,225.4L406.5,225.3L407.0,225.5L407.5,226.5L408.0,226.5L408.5,227.1L409.0,227.5L409.5,227.8L410.0,228.2L410.5,228.0L411.0,228.3L411.5,228.8L412.0,228.7L412.5,229.0L413.0,229.2L413.0,229.9z" fill="#848484"/>
<path d="M368.80,228.9V227.0M369.35,229.7V227.0M369.89,229.1V226.2M370.48,228.2V225.5M371.02,229.7V226.1M371.78,229.4V225.5M372.35,227.0V224.8M373.12,226.4V223.7M374.97,227.8V221.0M376.73,229.6V217.5M377.25,229.6V216.8M377.84,223.5V215.4M379.16,227.6V214.0M380.37,226.1V209.9M380.97,229.3V208.2M383.03,226.3V200.3M385.71,222.1V190.7M386.19,224.2V198.0M386.71,220.0V193.8M387.80,226.7V196.4M389.67,222.1V193.8M390.15,217.4V192.3M390.81,224.6V198.1M391.27,224.4V193.9M392.02,220.3V196.1M393.36,217.9V192.6M394.09,222.3V200.7M395.51,227.6V205.7M396.19,224.3V207.5M397.08,220.1V208.7M397.63,222.5V207.8M398.26,222.9V205.7M398.99,220.2V213.5M399.87,226.6V210.9M402.23,225.4V215.0M402.90,225.0V219.2M403.59,228.5V220.3M404.18,229.6V221.4M404.67,226.6V222.9M405.17,229.2V223.3M406.48,228.2V223.6M407.29,227.9V225.5M407.89,228.1V225.4M409.42,228.5V226.9M410.23,229.4V226.8M410.98,229.3V227.8" stroke="#333" stroke-width="0.45" fill="none" opacity="0.85"/>
<text x="119.3" y="155.2" font-size="11" textLength="37.7" lengthAdjust="spacingAndGlyphs" stroke="#000" stroke-width="0.7">Baseline</text>
<text x="95.8" y="202" font-size="11.5" textLength="19.3" lengthAdjust="spacingAndGlyphs" stroke="#000" stroke-width="0.63">cDC</text>
<text font-size="11" textLength="30.5" lengthAdjust="spacingAndGlyphs" stroke="#000" stroke-width="0.63" transform="translate(82,243) rotate(-90)">Count</text>
<path d="M83.7,212.5V242.6H118" fill="none" stroke="#000" stroke-width="2.3"/>
<line x1="162.5" y1="242.6" x2="196.8" y2="242.6" stroke="#000" stroke-width="2.4"/>
<line x1="230" y1="242.8" x2="264.3" y2="242.8" stroke="#000" stroke-width="2.4"/>
<line x1="297.6" y1="242.4" x2="332.6" y2="242.4" stroke="#000" stroke-width="2.4"/>
<line x1="365.6" y1="243.4" x2="400.2" y2="243.4" stroke="#000" stroke-width="2.4"/>
<text x="83" y="256.6" font-size="11.5" textLength="31.5" lengthAdjust="spacingAndGlyphs" stroke="#000" stroke-width="0.7">Class I</text>
<text x="162.5" y="256.8" font-size="11.5" textLength="35" lengthAdjust="spacingAndGlyphs" stroke="#000" stroke-width="0.7">Class II</text>
<text x="234.5" y="257" font-size="11.5" textLength="21.8" lengthAdjust="spacingAndGlyphs" stroke="#000" stroke-width="0.7">B7-1</text>
<text x="303" y="255.7" font-size="11.5" textLength="24" lengthAdjust="spacingAndGlyphs" stroke="#000" stroke-width="0.7">B7-2</text>
<text x="367.9" y="256.8" font-size="11.5" textLength="28.2" lengthAdjust="spacingAndGlyphs" stroke="#000" stroke-width="0.7">CD40</text>
<text x="-0.3" y="285.7" font-size="17.6" textLength="13.2" lengthAdjust="spacingAndGlyphs" font-weight="bold" stroke="#000" stroke-width="0.7">D</text>
<path d="M38.7,290.8H205.1V374.7H38.7zM94.25,290.8V374.7M150,290.8V374.7" fill="none" stroke="#000" stroke-width="1.5"/>
<line x1="30.6" y1="290.8" x2="38.7" y2="290.8" stroke="#000" stroke-width="1.5"/>
<text x="30.6" y="294.2" font-size="10.6" text-anchor="end" stroke="#000" stroke-width="0.63">50</text>
<line x1="30.6" y1="307.7" x2="38.7" y2="307.7" stroke="#000" stroke-width="1.5"/>
<text x="30.6" y="311.1" font-size="10.6" text-anchor="end" stroke="#000" stroke-width="0.63">40</text>
<line x1="30.6" y1="324.6" x2="38.7" y2="324.6" stroke="#000" stroke-width="1.5"/>
<text x="30.6" y="328.0" font-size="10.6" text-anchor="end" stroke="#000" stroke-width="0.63">30</text>
<line x1="30.6" y1="341.4" x2="38.7" y2="341.4" stroke="#000" stroke-width="1.5"/>
<text x="30.6" y="344.8" font-size="10.6" text-anchor="end" stroke="#000" stroke-width="0.63">20</text>
<line x1="30.6" y1="358.1" x2="38.7" y2="358.1" stroke="#000" stroke-width="1.5"/>
<text x="30.6" y="361.5" font-size="10.6" text-anchor="end" stroke="#000" stroke-width="0.63">10</text>
<line x1="30.6" y1="374.7" x2="38.7" y2="374.7" stroke="#000" stroke-width="1.5"/>
<text x="30.6" y="378.1" font-size="10.6" text-anchor="end" stroke="#000" stroke-width="0.63">0</text>
<line x1="86.15" y1="307.7" x2="94.25" y2="307.7" stroke="#000" stroke-width="1.5"/>
<line x1="141.9" y1="307.7" x2="150" y2="307.7" stroke="#000" stroke-width="1.5"/>
<line x1="86.15" y1="324.6" x2="94.25" y2="324.6" stroke="#000" stroke-width="1.5"/>
<line x1="141.9" y1="324.6" x2="150" y2="324.6" stroke="#000" stroke-width="1.5"/>
<line x1="86.15" y1="341.4" x2="94.25" y2="341.4" stroke="#000" stroke-width="1.5"/>
<line x1="141.9" y1="341.4" x2="150" y2="341.4" stroke="#000" stroke-width="1.5"/>
<line x1="86.15" y1="358.1" x2="94.25" y2="358.1" stroke="#000" stroke-width="1.5"/>
<line x1="141.9" y1="358.1" x2="150" y2="358.1" stroke="#000" stroke-width="1.5"/>
<text x="39.5" y="288.1" font-size="13" textLength="36.2" lengthAdjust="spacingAndGlyphs" stroke="#000" stroke-width="0.56">Class I</text>
<text font-size="11" textLength="50" lengthAdjust="spacingAndGlyphs" stroke="#000" stroke-width="0.63" transform="translate(10.8,348.4) rotate(-90)">MFI (x10³)</text>
<text x="41.400000000000006" y="302.8" font-size="13" textLength="21.5" lengthAdjust="spacingAndGlyphs" stroke="#000" stroke-width="0.49">cDC</text>
<text x="98.45" y="302.8" font-size="13" textLength="22.6" lengthAdjust="spacingAndGlyphs" stroke="#000" stroke-width="0.49">pDC</text>
<text x="153.4" y="302.8" font-size="13" textLength="27.8" lengthAdjust="spacingAndGlyphs" stroke="#000" stroke-width="0.49">B cell</text>
<line x1="42.4" y1="343.4" x2="62" y2="343.4" stroke="#000" stroke-width="1.2"/>
<line x1="70.1" y1="329.8" x2="89.8" y2="329.8" stroke="#000" stroke-width="1.2"/>
<circle cx="47" cy="331.2" r="3.2" fill="none" stroke="#000" stroke-width="1.6"/>
<circle cx="47" cy="333.3" r="3.2" fill="none" stroke="#000" stroke-width="1.6"/>
<circle cx="57.4" cy="331.8" r="3.2" fill="none" stroke="#000" stroke-width="1.6"/>
<circle cx="57.4" cy="337.2" r="3.2" fill="none" stroke="#000" stroke-width="1.6"/>
<circle cx="46.4" cy="350.9" r="3.2" fill="none" stroke="#000" stroke-width="1.6"/>
<circle cx="49.9" cy="348" r="3.2" fill="none" stroke="#000" stroke-width="1.6"/>
<circle cx="53.3" cy="350.9" r="3.2" fill="none" stroke="#000" stroke-width="1.6"/>
<circle cx="57.4" cy="352.6" r="3.2" fill="none" stroke="#000" stroke-width="1.6"/>
<circle cx="52.2" cy="356.1" r="3.2" fill="none" stroke="#000" stroke-width="1.6"/>
<circle cx="48.5" cy="352.5" r="3.2" fill="none" stroke="#000" stroke-width="1.6"/>
<circle cx="79.9" cy="301.2" r="3.6"/>
<circle cx="79.4" cy="327.2" r="3.6"/>
<circle cx="74.2" cy="335.8" r="3.6"/>
<circle cx="79.4" cy="334.7" r="3.6"/>
<circle cx="84.6" cy="335.8" r="3.6"/>
<circle cx="79.4" cy="339.9" r="3.6"/>
<circle cx="82" cy="332.5" r="3.6"/>
<line x1="53.3" y1="319.9" x2="79.9" y2="319.9" stroke="#000" stroke-width="1.4"/>
<text x="67" y="319.4" font-size="8.4" font-weight="bold" text-anchor="middle" textLength="4.4" lengthAdjust="spacingAndGlyphs" fill="#111" stroke="#111" stroke-width="0.7">*</text>
<line x1="95.5" y1="340.7" x2="117.4" y2="340.7" stroke="#000" stroke-width="1.2"/>
<line x1="126.1" y1="341.4" x2="142.9" y2="341.4" stroke="#000" stroke-width="1.2"/>
<circle cx="97.2" cy="332.4" r="3.2" fill="none" stroke="#000" stroke-width="1.6"/>
<circle cx="108" cy="331.2" r="3.2" fill="none" stroke="#000" stroke-width="1.6"/>
<circle cx="108.2" cy="337" r="3.2" fill="none" stroke="#000" stroke-width="1.6"/>
<circle cx="104.7" cy="338.7" r="3.2" fill="none" stroke="#000" stroke-width="1.6"/>
<circle cx="100.1" cy="341.6" r="3.2" fill="none" stroke="#000" stroke-width="1.6"/>
<circle cx="97.2" cy="345.1" r="3.2" fill="none" stroke="#000" stroke-width="1.6"/>
<circle cx="107.6" cy="344.5" r="3.2" fill="none" stroke="#000" stroke-width="1.6"/>
<circle cx="113.4" cy="347.2" r="3.2" fill="none" stroke="#000" stroke-width="1.6"/>
<circle cx="102.6" cy="349.1" r="3.2" fill="none" stroke="#000" stroke-width="1.6"/>
<circle cx="135.7" cy="312.1" r="3.6"/>
<circle cx="135.7" cy="337.6" r="3.6"/>
<circle cx="130.2" cy="346.8" r="3.6"/>
<circle cx="134.2" cy="345.1" r="3.6"/>
<circle cx="138.8" cy="346.8" r="3.6"/>
<circle cx="135.9" cy="350.9" r="3.6"/>
<circle cx="141.1" cy="350.3" r="3.6"/>
<circle cx="132.5" cy="348.6" r="3.6"/>
<line x1="153.2" y1="359.1" x2="172.9" y2="359.1" stroke="#000" stroke-width="1.2"/>
<line x1="176.9" y1="349.9" x2="200.6" y2="349.9" stroke="#000" stroke-width="1.2"/>
<circle cx="157.8" cy="349.3" r="3.2" fill="none" stroke="#000" stroke-width="1.6"/>
<circle cx="157.8" cy="353.4" r="3.2" fill="none" stroke="#000" stroke-width="1.6"/>
<circle cx="168.2" cy="350.7" r="3.2" fill="none" stroke="#000" stroke-width="1.6"/>
<circle cx="168.2" cy="353.9" r="3.2" fill="none" stroke="#000" stroke-width="1.6"/>
<circle cx="156.7" cy="363.8" r="3.2" fill="none" stroke="#000" stroke-width="1.6"/>
<circle cx="160.1" cy="364.3" r="3.2" fill="none" stroke="#000" stroke-width="1.6"/>
<circle cx="163" cy="365.5" r="3.2" fill="none" stroke="#000" stroke-width="1.6"/>
<circle cx="166.5" cy="364.3" r="3.2" fill="none" stroke="#000" stroke-width="1.6"/>
<circle cx="169.4" cy="363.8" r="3.2" fill="none" stroke="#000" stroke-width="1.6"/>
<circle cx="190.8" cy="338.9" r="3.6"/>
<circle cx="183.3" cy="346.4" r="3.6"/>
<circle cx="187.9" cy="346.4" r="3.6"/>
<circle cx="179.8" cy="351.6" r="3.6"/>
<circle cx="190.8" cy="351" r="3.6"/>
<circle cx="185" cy="355.1" r="3.6"/>
<circle cx="196" cy="354.5" r="3.6"/>
<circle cx="182.7" cy="350.5" r="3.6"/>
<line x1="162.5" y1="334" x2="187.9" y2="334" stroke="#000" stroke-width="1.4"/>
<text x="176.7" y="333.9" font-size="8.4" font-weight="bold" text-anchor="middle" textLength="8.8" lengthAdjust="spacingAndGlyphs" fill="#111" stroke="#111" stroke-width="0.7">**</text>
<path d="M273.5,290.7H441.8V374.5H273.5zM330,290.7V374.5M385.9,290.7V374.5" fill="none" stroke="#000" stroke-width="1.5"/>
<line x1="267.5" y1="291.2" x2="273.5" y2="291.2" stroke="#000" stroke-width="1.5"/>
<text x="268.2" y="295.3" font-size="10.6" text-anchor="end" stroke="#000" stroke-width="0.63">100</text>
<line x1="267.5" y1="308" x2="273.5" y2="308" stroke="#000" stroke-width="1.5"/>
<text x="268.2" y="312.1" font-size="10.6" text-anchor="end" stroke="#000" stroke-width="0.63">80</text>
<line x1="267.5" y1="324.7" x2="273.5" y2="324.7" stroke="#000" stroke-width="1.5"/>
<text x="268.2" y="328.8" font-size="10.6" text-anchor="end" stroke="#000" stroke-width="0.63">60</text>
<line x1="267.5" y1="341.4" x2="273.5" y2="341.4" stroke="#000" stroke-width="1.5"/>
<text x="268.2" y="345.5" font-size="10.6" text-anchor="end" stroke="#000" stroke-width="0.63">40</text>
<line x1="267.5" y1="358.2" x2="273.5" y2="358.2" stroke="#000" stroke-width="1.5"/>
<text x="268.2" y="362.3" font-size="10.6" text-anchor="end" stroke="#000" stroke-width="0.63">20</text>
<line x1="267.5" y1="374.5" x2="273.5" y2="374.5" stroke="#000" stroke-width="1.5"/>
<text x="268.2" y="378.6" font-size="10.6" text-anchor="end" stroke="#000" stroke-width="0.63">0</text>
<line x1="324" y1="308" x2="330" y2="308" stroke="#000" stroke-width="1.5"/>
<line x1="379.9" y1="308" x2="385.9" y2="308" stroke="#000" stroke-width="1.5"/>
<line x1="324" y1="324.7" x2="330" y2="324.7" stroke="#000" stroke-width="1.5"/>
<line x1="379.9" y1="324.7" x2="385.9" y2="324.7" stroke="#000" stroke-width="1.5"/>
<line x1="324" y1="341.4" x2="330" y2="341.4" stroke="#000" stroke-width="1.5"/>
<line x1="379.9" y1="341.4" x2="385.9" y2="341.4" stroke="#000" stroke-width="1.5"/>
<line x1="324" y1="358.2" x2="330" y2="358.2" stroke="#000" stroke-width="1.5"/>
<line x1="379.9" y1="358.2" x2="385.9" y2="358.2" stroke="#000" stroke-width="1.5"/>
<text x="273.6" y="287.8" font-size="13" textLength="39" lengthAdjust="spacingAndGlyphs" stroke="#000" stroke-width="0.56">Class II</text>
<text font-size="11" textLength="62.5" lengthAdjust="spacingAndGlyphs" stroke="#000" stroke-width="0.63" transform="translate(243.7,358.8) rotate(-90)">Relative MFI</text>
<text x="275.3" y="302.9" font-size="13" textLength="21.5" lengthAdjust="spacingAndGlyphs" stroke="#000" stroke-width="0.49">cDC</text>
<text x="333.4" y="302.9" font-size="13" textLength="22.6" lengthAdjust="spacingAndGlyphs" stroke="#000" stroke-width="0.49">pDC</text>
<text x="389.09999999999997" y="302.9" font-size="13" textLength="27.8" lengthAdjust="spacingAndGlyphs" stroke="#000" stroke-width="0.49">B cell</text>
<circle cx="280.8" cy="353" r="3.2" fill="none" stroke="#000" stroke-width="1.6"/>
<circle cx="288.3" cy="353" r="3.2" fill="none" stroke="#000" stroke-width="1.6"/>
<circle cx="279.1" cy="359.1" r="3.2" fill="none" stroke="#000" stroke-width="1.6"/>
<circle cx="288.3" cy="358.6" r="3.2" fill="none" stroke="#000" stroke-width="1.6"/>
<circle cx="282.6" cy="358.6" r="3.2" fill="none" stroke="#000" stroke-width="1.6"/>
<circle cx="277.9" cy="369" r="3.2" fill="none" stroke="#000" stroke-width="1.6"/>
<circle cx="284.9" cy="367.2" r="3.2" fill="none" stroke="#000" stroke-width="1.6"/>
<circle cx="288.3" cy="369.5" r="3.2" fill="none" stroke="#000" stroke-width="1.6"/>
<circle cx="284.3" cy="370.1" r="3.2" fill="none" stroke="#000" stroke-width="1.6"/>
<circle cx="300.5" cy="359.7" r="3.6"/>
<circle cx="297.6" cy="364.3" r="3.6"/>
<circle cx="303.4" cy="364.3" r="3.6"/>
<circle cx="295.9" cy="366.6" r="3.6"/>
<circle cx="300.5" cy="367.2" r="3.6"/>
<circle cx="305.7" cy="366.6" r="3.6"/>
<path d="M317.20,341.50h7.0l-3.50,6.4z"/>
<path d="M316.60,353.00h7.0l-3.50,6.4z"/>
<path d="M313.20,357.70h7.0l-3.50,6.4z"/>
<path d="M318.90,357.70h7.0l-3.50,6.4z"/>
<path d="M311.40,362.30h7.0l-3.50,6.4z"/>
<path d="M316.10,363.40h7.0l-3.50,6.4z"/>
<path d="M321.30,362.90h7.0l-3.50,6.4z"/>
<path d="M318.90,364.60h7.0l-3.50,6.4z"/>
<line x1="313.8" y1="362.6" x2="328.2" y2="362.6" stroke="#999" stroke-width="1.3"/>
<circle cx="333.8" cy="322.9" r="3.2" fill="none" stroke="#000" stroke-width="1.6"/>
<circle cx="344.2" cy="328.7" r="3.2" fill="none" stroke="#000" stroke-width="1.6"/>
<circle cx="336.7" cy="335.7" r="3.2" fill="none" stroke="#000" stroke-width="1.6"/>
<circle cx="340.1" cy="335.7" r="3.2" fill="none" stroke="#000" stroke-width="1.6"/>
<circle cx="333.8" cy="338.6" r="3.2" fill="none" stroke="#000" stroke-width="1.6"/>
<circle cx="343" cy="338" r="3.2" fill="none" stroke="#000" stroke-width="1.6"/>
<circle cx="339" cy="342.6" r="3.2" fill="none" stroke="#000" stroke-width="1.6"/>
<circle cx="344.8" cy="342.6" r="3.2" fill="none" stroke="#000" stroke-width="1.6"/>
<line x1="350" y1="336.5" x2="366" y2="336.5" stroke="#000" stroke-width="1.2"/>
<circle cx="358.1" cy="311.4" r="3.6"/>
<circle cx="357.5" cy="330.5" r="3.6"/>
<circle cx="352.9" cy="336.2" r="3.6"/>
<circle cx="361" cy="336.2" r="3.6"/>
<circle cx="358.1" cy="333.9" r="3.6"/>
<circle cx="363.3" cy="339.7" r="3.6"/>
<circle cx="357.5" cy="343.8" r="3.6"/>
<path d="M373.10,303.60h7.0l-3.50,6.4z"/>
<path d="M370.20,316.90h7.0l-3.50,6.4z"/>
<path d="M375.90,316.90h7.0l-3.50,6.4z"/>
<path d="M367.90,323.20h7.0l-3.50,6.4z"/>
<path d="M378.30,323.20h7.0l-3.50,6.4z"/>
<path d="M373.10,326.70h7.0l-3.50,6.4z"/>
<path d="M373.10,340.00h7.0l-3.50,6.4z"/>
<line x1="371" y1="324.6" x2="383" y2="324.6" stroke="#ddd" stroke-width="1.1"/>
<circle cx="395" cy="360.9" r="3.2" fill="none" stroke="#000" stroke-width="1.6"/>
<circle cx="393.8" cy="365.5" r="3.2" fill="none" stroke="#000" stroke-width="1.6"/>
<circle cx="397.3" cy="365.5" r="3.2" fill="none" stroke="#000" stroke-width="1.6"/>
<circle cx="390.4" cy="370.7" r="3.2" fill="none" stroke="#000" stroke-width="1.6"/>
<circle cx="395.6" cy="370.7" r="3.2" fill="none" stroke="#000" stroke-width="1.6"/>
<circle cx="400.8" cy="370.7" r="3.2" fill="none" stroke="#000" stroke-width="1.6"/>
<circle cx="412.9" cy="363.8" r="3.6"/>
<circle cx="410" cy="367.2" r="3.6"/>
<circle cx="416.4" cy="367.2" r="3.6"/>
<circle cx="408.9" cy="370.1" r="3.6"/>
<circle cx="414.1" cy="370.7" r="3.6"/>
<circle cx="419.3" cy="370.1" r="3.6"/>
<path d="M426.70,358.20h7.0l-3.50,6.4z"/>
<path d="M431.40,358.20h7.0l-3.50,6.4z"/>
<path d="M429.10,361.10h7.0l-3.50,6.4z"/>
<path d="M424.40,365.80h7.0l-3.50,6.4z"/>
<path d="M429.10,366.30h7.0l-3.50,6.4z"/>
<path d="M434.30,365.80h7.0l-3.50,6.4z"/>
<circle cx="453.9" cy="296.3" r="2.95" fill="none" stroke="#000" stroke-width="1.75"/>
<circle cx="453.9" cy="310.8" r="4.15"/>
<path d="M450.40,322.40h7.0l-3.50,6.6z"/>
<text x="463" y="299.5" font-size="12.7" textLength="58.4" lengthAdjust="spacingAndGlyphs" stroke="#000" stroke-width="0.63">Uninjected</text>
<text x="463" y="315" font-size="12.7" textLength="24.4" lengthAdjust="spacingAndGlyphs" stroke="#000" stroke-width="0.63">Host</text>
<text x="463" y="329.8" font-size="12.7" textLength="33.4" lengthAdjust="spacingAndGlyphs" stroke="#000" stroke-width="0.63">Donor</text>
<path d="M38.3,402.9H207.1V486.3H38.3zM95.2,402.9V486.3M151.3,402.9V486.3" fill="none" stroke="#000" stroke-width="1.5"/>
<line x1="32.5" y1="402.9" x2="38.3" y2="402.9" stroke="#000" stroke-width="1.5"/>
<text x="33" y="407.3" font-size="10.6" text-anchor="end" stroke="#000" stroke-width="0.63">250</text>
<line x1="32.5" y1="419.8" x2="38.3" y2="419.8" stroke="#000" stroke-width="1.5"/>
<text x="33" y="424.2" font-size="10.6" text-anchor="end" stroke="#000" stroke-width="0.63">200</text>
<line x1="32.5" y1="436.4" x2="38.3" y2="436.4" stroke="#000" stroke-width="1.5"/>
<text x="33" y="440.8" font-size="10.6" text-anchor="end" stroke="#000" stroke-width="0.63">150</text>
<line x1="32.5" y1="453" x2="38.3" y2="453" stroke="#000" stroke-width="1.5"/>
<text x="33" y="457.4" font-size="10.6" text-anchor="end" stroke="#000" stroke-width="0.63">100</text>
<line x1="32.5" y1="469.7" x2="38.3" y2="469.7" stroke="#000" stroke-width="1.5"/>
<text x="33" y="474.1" font-size="10.6" text-anchor="end" stroke="#000" stroke-width="0.63">50</text>
<line x1="32.5" y1="486.3" x2="38.3" y2="486.3" stroke="#000" stroke-width="1.5"/>
<text x="33" y="490.7" font-size="10.6" text-anchor="end" stroke="#000" stroke-width="0.63">0</text>
<line x1="89.4" y1="419.8" x2="95.2" y2="419.8" stroke="#000" stroke-width="1.5"/>
<line x1="145.5" y1="419.8" x2="151.3" y2="419.8" stroke="#000" stroke-width="1.5"/>
<line x1="89.4" y1="436.4" x2="95.2" y2="436.4" stroke="#000" stroke-width="1.5"/>
<line x1="145.5" y1="436.4" x2="151.3" y2="436.4" stroke="#000" stroke-width="1.5"/>
<line x1="89.4" y1="453" x2="95.2" y2="453" stroke="#000" stroke-width="1.5"/>
<line x1="145.5" y1="453" x2="151.3" y2="453" stroke="#000" stroke-width="1.5"/>
<line x1="89.4" y1="469.7" x2="95.2" y2="469.7" stroke="#000" stroke-width="1.5"/>
<line x1="145.5" y1="469.7" x2="151.3" y2="469.7" stroke="#000" stroke-width="1.5"/>
<text x="38.3" y="400.2" font-size="13" textLength="26" lengthAdjust="spacingAndGlyphs" stroke="#000" stroke-width="0.56">B7-1</text>
<text font-size="11" textLength="62.5" lengthAdjust="spacingAndGlyphs" stroke="#000" stroke-width="0.63" transform="translate(10.2,461.3) rotate(-90)">Relative MFI</text>
<text x="40.5" y="414.4" font-size="13" textLength="21.5" lengthAdjust="spacingAndGlyphs" stroke="#000" stroke-width="0.49">cDC</text>
<text x="98.10000000000001" y="414.4" font-size="13" textLength="22.6" lengthAdjust="spacingAndGlyphs" stroke="#000" stroke-width="0.49">pDC</text>
<text x="152.8" y="414.4" font-size="13" textLength="27.8" lengthAdjust="spacingAndGlyphs" stroke="#000" stroke-width="0.49">B cell</text>
<line x1="40" y1="477.4" x2="54.6" y2="477.4" stroke="#000" stroke-width="1.2"/>
<line x1="56" y1="451" x2="73.5" y2="451" stroke="#000" stroke-width="1.2"/>
<line x1="78" y1="451.6" x2="91.8" y2="451.6" stroke="#000" stroke-width="1.2"/>
<circle cx="48.4" cy="470.2" r="3.2" fill="none" stroke="#000" stroke-width="1.6"/>
<circle cx="43.4" cy="473.9" r="3.2" fill="none" stroke="#000" stroke-width="1.6"/>
<circle cx="41" cy="477.6" r="3.2" fill="none" stroke="#000" stroke-width="1.6"/>
<circle cx="45.3" cy="477" r="3.2" fill="none" stroke="#000" stroke-width="1.6"/>
<circle cx="49" cy="480.1" r="3.2" fill="none" stroke="#000" stroke-width="1.6"/>
<circle cx="42.8" cy="481.3" r="3.2" fill="none" stroke="#000" stroke-width="1.6"/>
<circle cx="46.5" cy="481.9" r="3.2" fill="none" stroke="#000" stroke-width="1.6"/>
<circle cx="67" cy="431.7" r="3.6"/>
<circle cx="59.6" cy="445.1" r="3.6"/>
<circle cx="67" cy="447.2" r="3.6"/>
<circle cx="56.5" cy="451.2" r="3.6"/>
<circle cx="72" cy="452.8" r="3.6"/>
<circle cx="67" cy="460.2" r="3.6"/>
<circle cx="62" cy="466.1" r="3.6"/>
<path d="M82.10,438.50h7.0l-3.50,6.4z"/>
<path d="M77.70,444.00h7.0l-3.50,6.4z"/>
<path d="M73.40,447.10h7.0l-3.50,6.4z"/>
<path d="M80.20,447.80h7.0l-3.50,6.4z"/>
<path d="M72.80,450.20h7.0l-3.50,6.4z"/>
<path d="M82.10,452.70h7.0l-3.50,6.4z"/>
<path d="M77.10,454.60h7.0l-3.50,6.4z"/>
<line x1="43.2" y1="427" x2="63.9" y2="427" stroke="#000" stroke-width="1.4"/>
<text x="54.2" y="427.0" font-size="8.4" font-weight="bold" text-anchor="middle" textLength="17.6" lengthAdjust="spacingAndGlyphs" fill="#111" stroke="#111" stroke-width="0.7">****</text>
<line x1="97" y1="469.2" x2="111" y2="469.2" stroke="#000" stroke-width="1.2"/>
<line x1="113" y1="457.1" x2="129.6" y2="457.1" stroke="#000" stroke-width="1.2"/>
<line x1="135" y1="455.3" x2="149" y2="455.3" stroke="#000" stroke-width="1.2"/>
<circle cx="104.2" cy="453.2" r="3.2" fill="none" stroke="#000" stroke-width="1.6"/>
<circle cx="99.2" cy="463.3" r="3.2" fill="none" stroke="#000" stroke-width="1.6"/>
<circle cx="104.2" cy="464.6" r="3.2" fill="none" stroke="#000" stroke-width="1.6"/>
<circle cx="109.1" cy="464" r="3.2" fill="none" stroke="#000" stroke-width="1.6"/>
<circle cx="100.4" cy="470.2" r="3.2" fill="none" stroke="#000" stroke-width="1.6"/>
<circle cx="106.6" cy="473.3" r="3.2" fill="none" stroke="#000" stroke-width="1.6"/>
<circle cx="102.3" cy="474.5" r="3.2" fill="none" stroke="#000" stroke-width="1.6"/>
<circle cx="98.6" cy="477" r="3.2" fill="none" stroke="#000" stroke-width="1.6"/>
<circle cx="104.2" cy="479.5" r="3.2" fill="none" stroke="#000" stroke-width="1.6"/>
<circle cx="109.7" cy="478.8" r="3.2" fill="none" stroke="#000" stroke-width="1.6"/>
<circle cx="112.8" cy="449.1" r="3.6"/>
<circle cx="123.1" cy="448.5" r="3.6"/>
<circle cx="123.1" cy="453.4" r="3.6"/>
<circle cx="119.7" cy="457.1" r="3.6"/>
<circle cx="112.8" cy="459.6" r="3.6"/>
<circle cx="123.1" cy="462.7" r="3.6"/>
<circle cx="117.8" cy="467.1" r="3.6"/>
<path d="M132.90,443.80h7.0l-3.50,6.4z"/>
<path d="M136.00,449.00h7.0l-3.50,6.4z"/>
<path d="M144.00,447.10h7.0l-3.50,6.4z"/>
<path d="M140.30,452.10h7.0l-3.50,6.4z"/>
<path d="M132.90,454.60h7.0l-3.50,6.4z"/>
<path d="M143.40,454.60h7.0l-3.50,6.4z"/>
<path d="M138.50,459.50h7.0l-3.50,6.4z"/>
<line x1="100.2" y1="441" x2="120.9" y2="441" stroke="#000" stroke-width="1.4"/>
<text x="110.4" y="441.3" font-size="8.4" font-weight="bold" text-anchor="middle" textLength="8.8" lengthAdjust="spacingAndGlyphs" fill="#111" stroke="#111" stroke-width="0.7">**</text>
<circle cx="155.6" cy="485" r="2.7" fill="none" stroke="#000" stroke-width="1.6"/>
<circle cx="157.6" cy="484.2" r="2.7" fill="none" stroke="#000" stroke-width="1.6"/>
<circle cx="159.4" cy="485.6" r="2.7" fill="none" stroke="#000" stroke-width="1.6"/>
<circle cx="160.8" cy="483.6" r="2.7" fill="none" stroke="#000" stroke-width="1.6"/>
<circle cx="162.4" cy="485.4" r="2.7" fill="none" stroke="#000" stroke-width="1.6"/>
<circle cx="164" cy="484.2" r="2.7" fill="none" stroke="#000" stroke-width="1.6"/>
<circle cx="165.9" cy="485" r="2.7" fill="none" stroke="#000" stroke-width="1.6"/>
<circle cx="158.3" cy="486" r="2.7" fill="none" stroke="#000" stroke-width="1.6"/>
<circle cx="163.3" cy="486" r="2.7" fill="none" stroke="#000" stroke-width="1.6"/>
<circle cx="178.1" cy="477" r="3.6"/>
<circle cx="175" cy="480.7" r="3.6"/>
<circle cx="181.2" cy="481.3" r="3.6"/>
<circle cx="185" cy="482" r="3.6"/>
<circle cx="177.5" cy="482.6" r="3.6"/>
<path d="M193.20,472.50h7.0l-3.50,6.4z"/>
<path d="M190.10,476.30h7.0l-3.50,6.4z"/>
<path d="M195.70,476.30h7.0l-3.50,6.4z"/>
<path d="M200.70,476.90h7.0l-3.50,6.4z"/>
<path d="M195.10,479.40h7.0l-3.50,6.4z"/>
<line x1="157" y1="470.5" x2="177.5" y2="470.5" stroke="#000" stroke-width="1.4"/>
<text x="167.3" y="470.0" font-size="8.4" font-weight="bold" text-anchor="middle" textLength="17.6" lengthAdjust="spacingAndGlyphs" fill="#111" stroke="#111" stroke-width="0.7">****</text>
<path d="M274.6,402.5H441.6V485.7H274.6zM330.4,402.5V485.7M385.7,402.5V485.7" fill="none" stroke="#000" stroke-width="1.5"/>
<line x1="268.20000000000005" y1="402.5" x2="274.6" y2="402.5" stroke="#000" stroke-width="1.5"/>
<text x="268.4" y="405.9" font-size="10.6" text-anchor="end" stroke="#000" stroke-width="0.63">60</text>
<line x1="268.20000000000005" y1="430.4" x2="274.6" y2="430.4" stroke="#000" stroke-width="1.5"/>
<text x="268.4" y="433.8" font-size="10.6" text-anchor="end" stroke="#000" stroke-width="0.63">40</text>
<line x1="268.20000000000005" y1="458.2" x2="274.6" y2="458.2" stroke="#000" stroke-width="1.5"/>
<text x="268.4" y="461.6" font-size="10.6" text-anchor="end" stroke="#000" stroke-width="0.63">20</text>
<line x1="268.20000000000005" y1="485.7" x2="274.6" y2="485.7" stroke="#000" stroke-width="1.5"/>
<text x="268.4" y="489.1" font-size="10.6" text-anchor="end" stroke="#000" stroke-width="0.63">0</text>
<line x1="324.0" y1="430.4" x2="330.4" y2="430.4" stroke="#000" stroke-width="1.5"/>
<line x1="379.3" y1="430.4" x2="385.7" y2="430.4" stroke="#000" stroke-width="1.5"/>
<line x1="324.0" y1="458.2" x2="330.4" y2="458.2" stroke="#000" stroke-width="1.5"/>
<line x1="379.3" y1="458.2" x2="385.7" y2="458.2" stroke="#000" stroke-width="1.5"/>
<text x="274.2" y="399.6" font-size="13" textLength="26" lengthAdjust="spacingAndGlyphs" stroke="#000" stroke-width="0.56">B7-2</text>
<text font-size="11" textLength="62.5" lengthAdjust="spacingAndGlyphs" stroke="#000" stroke-width="0.63" transform="translate(243.7,466.3) rotate(-90)">Relative MFI</text>
<text x="275.20000000000005" y="415.9" font-size="13" textLength="21.5" lengthAdjust="spacingAndGlyphs" stroke="#000" stroke-width="0.49">cDC</text>
<text x="332.79999999999995" y="415.9" font-size="13" textLength="22.6" lengthAdjust="spacingAndGlyphs" stroke="#000" stroke-width="0.49">pDC</text>
<text x="387.7" y="415.9" font-size="13" textLength="27.8" lengthAdjust="spacingAndGlyphs" stroke="#000" stroke-width="0.49">B cell</text>
<circle cx="283.2" cy="473.3" r="3.2" fill="none" stroke="#000" stroke-width="1.6"/>
<circle cx="278.2" cy="478.8" r="3.2" fill="none" stroke="#000" stroke-width="1.6"/>
<circle cx="283.8" cy="478.2" r="3.2" fill="none" stroke="#000" stroke-width="1.6"/>
<circle cx="289.4" cy="478.8" r="3.2" fill="none" stroke="#000" stroke-width="1.6"/>
<circle cx="281.3" cy="477" r="3.2" fill="none" stroke="#000" stroke-width="1.6"/>
<circle cx="286.3" cy="477" r="3.2" fill="none" stroke="#000" stroke-width="1.6"/>
<circle cx="283.8" cy="481.3" r="3.2" fill="none" stroke="#000" stroke-width="1.6"/>
<circle cx="297.4" cy="464" r="3.6"/>
<circle cx="307.9" cy="465.2" r="3.6"/>
<circle cx="297.4" cy="470.8" r="3.6"/>
<circle cx="303" cy="471.4" r="3.6"/>
<circle cx="307.9" cy="470.8" r="3.6"/>
<circle cx="302.4" cy="476.4" r="3.6"/>
<path d="M318.10,436.60h7.0l-3.50,6.4z"/>
<path d="M307.90,453.30h7.0l-3.50,6.4z"/>
<path d="M323.00,461.40h7.0l-3.50,6.4z"/>
<path d="M307.50,468.80h7.0l-3.50,6.4z"/>
<path d="M315.60,466.30h7.0l-3.50,6.4z"/>
<path d="M318.10,471.30h7.0l-3.50,6.4z"/>
<path d="M312.50,473.80h7.0l-3.50,6.4z"/>
<line x1="314.8" y1="465.5" x2="324" y2="465.5" stroke="#000" stroke-width="1.2"/>
<line x1="332" y1="455" x2="346" y2="455" stroke="#000" stroke-width="1.2"/>
<line x1="348" y1="442.8" x2="364.6" y2="442.8" stroke="#000" stroke-width="1.2"/>
<circle cx="339.8" cy="445.2" r="3.2" fill="none" stroke="#000" stroke-width="1.6"/>
<circle cx="331.7" cy="452.7" r="3.2" fill="none" stroke="#000" stroke-width="1.6"/>
<circle cx="339.8" cy="453.9" r="3.2" fill="none" stroke="#000" stroke-width="1.6"/>
<circle cx="335.4" cy="457.6" r="3.2" fill="none" stroke="#000" stroke-width="1.6"/>
<circle cx="344.7" cy="456.4" r="3.2" fill="none" stroke="#000" stroke-width="1.6"/>
<circle cx="339.8" cy="459.5" r="3.2" fill="none" stroke="#000" stroke-width="1.6"/>
<circle cx="334.2" cy="467.9" r="3.2" fill="none" stroke="#000" stroke-width="1.6"/>
<circle cx="358.4" cy="413.4" r="3.6"/>
<circle cx="350.9" cy="439.7" r="3.6"/>
<circle cx="358.4" cy="441.5" r="3.6"/>
<circle cx="347.8" cy="445.9" r="3.6"/>
<circle cx="363.3" cy="448.3" r="3.6"/>
<circle cx="358.4" cy="452.7" r="3.6"/>
<circle cx="353.4" cy="460.7" r="3.6"/>
<path d="M373.50,414.20h7.0l-3.50,6.4z"/>
<path d="M375.90,430.30h7.0l-3.50,6.4z"/>
<path d="M368.50,437.10h7.0l-3.50,6.4z"/>
<path d="M373.50,437.70h7.0l-3.50,6.4z"/>
<path d="M378.40,437.70h7.0l-3.50,6.4z"/>
<path d="M374.10,457.50h7.0l-3.50,6.4z"/>
<line x1="338.9" y1="430.4" x2="357.1" y2="430.4" stroke="#000" stroke-width="1.4"/>
<text x="347.8" y="430.4" font-size="8.4" font-weight="bold" text-anchor="middle" textLength="4.4" lengthAdjust="spacingAndGlyphs" fill="#111" stroke="#111" stroke-width="0.7">*</text>
<circle cx="393.9" cy="480.1" r="2.7" fill="none" stroke="#000" stroke-width="1.6"/>
<circle cx="389.6" cy="483.2" r="2.7" fill="none" stroke="#000" stroke-width="1.6"/>
<circle cx="395.2" cy="483.4" r="2.7" fill="none" stroke="#000" stroke-width="1.6"/>
<circle cx="400.7" cy="483.8" r="2.7" fill="none" stroke="#000" stroke-width="1.6"/>
<circle cx="392.7" cy="485" r="2.7" fill="none" stroke="#000" stroke-width="1.6"/>
<circle cx="397.6" cy="485.5" r="2.7" fill="none" stroke="#000" stroke-width="1.6"/>
<circle cx="391.5" cy="482" r="2.7" fill="none" stroke="#000" stroke-width="1.6"/>
<circle cx="396.5" cy="481.5" r="2.7" fill="none" stroke="#000" stroke-width="1.6"/>
<circle cx="394" cy="484.6" r="2.7" fill="none" stroke="#000" stroke-width="1.6"/>
<circle cx="413.1" cy="476.4" r="3.6"/>
<circle cx="408.2" cy="479.5" r="3.6"/>
<circle cx="413.8" cy="480.7" r="3.6"/>
<circle cx="418.7" cy="480.7" r="3.6"/>
<circle cx="410.7" cy="482.6" r="3.6"/>
<circle cx="416.8" cy="482.6" r="3.6"/>
<path d="M427.00,470.10h7.0l-3.50,6.4z"/>
<path d="M430.10,473.80h7.0l-3.50,6.4z"/>
<path d="M423.30,476.90h7.0l-3.50,6.4z"/>
<path d="M428.80,477.50h7.0l-3.50,6.4z"/>
<path d="M433.80,476.90h7.0l-3.50,6.4z"/>
<path d="M430.70,479.40h7.0l-3.50,6.4z"/>
<line x1="390.8" y1="465.8" x2="411.9" y2="465.8" stroke="#000" stroke-width="1.4"/>
<text x="402" y="466.1" font-size="8.4" font-weight="bold" text-anchor="middle" textLength="8.8" lengthAdjust="spacingAndGlyphs" fill="#111" stroke="#111" stroke-width="0.7">**</text>
<circle cx="448.1" cy="409.5" r="2.95" fill="none" stroke="#000" stroke-width="1.75"/>
<circle cx="448.1" cy="424.6" r="4.15"/>
<path d="M444.60,435.60h7.0l-3.50,6.6z"/>
<text x="457.1" y="412.4" font-size="12.7" textLength="57.4" lengthAdjust="spacingAndGlyphs" stroke="#000" stroke-width="0.63">Uninjected</text>
<text x="457.1" y="428.5" font-size="12.7" textLength="23.6" lengthAdjust="spacingAndGlyphs" stroke="#000" stroke-width="0.63">Host</text>
<text x="457.1" y="443.8" font-size="12.7" textLength="33" lengthAdjust="spacingAndGlyphs" stroke="#000" stroke-width="0.63">Donor</text>
<path d="M38.8,516.9H206.6V600.6H38.8zM95.6,516.9V600.6M151,516.9V600.6" fill="none" stroke="#000" stroke-width="1.5"/>
<line x1="32.199999999999996" y1="516.9" x2="38.8" y2="516.9" stroke="#000" stroke-width="1.5"/>
<text x="32" y="521.0" font-size="10.6" text-anchor="end" stroke="#000" stroke-width="0.63">80</text>
<line x1="32.199999999999996" y1="537.9" x2="38.8" y2="537.9" stroke="#000" stroke-width="1.5"/>
<text x="32" y="542.0" font-size="10.6" text-anchor="end" stroke="#000" stroke-width="0.63">60</text>
<line x1="32.199999999999996" y1="559" x2="38.8" y2="559" stroke="#000" stroke-width="1.5"/>
<text x="32" y="563.1" font-size="10.6" text-anchor="end" stroke="#000" stroke-width="0.63">40</text>
<line x1="32.199999999999996" y1="579.8" x2="38.8" y2="579.8" stroke="#000" stroke-width="1.5"/>
<text x="32" y="583.9" font-size="10.6" text-anchor="end" stroke="#000" stroke-width="0.63">20</text>
<line x1="32.199999999999996" y1="600.6" x2="38.8" y2="600.6" stroke="#000" stroke-width="1.5"/>
<text x="32" y="604.7" font-size="10.6" text-anchor="end" stroke="#000" stroke-width="0.63">0</text>
<line x1="89.0" y1="537.9" x2="95.6" y2="537.9" stroke="#000" stroke-width="1.5"/>
<line x1="144.4" y1="537.9" x2="151" y2="537.9" stroke="#000" stroke-width="1.5"/>
<line x1="89.0" y1="559" x2="95.6" y2="559" stroke="#000" stroke-width="1.5"/>
<line x1="144.4" y1="559" x2="151" y2="559" stroke="#000" stroke-width="1.5"/>
<line x1="89.0" y1="579.8" x2="95.6" y2="579.8" stroke="#000" stroke-width="1.5"/>
<line x1="144.4" y1="579.8" x2="151" y2="579.8" stroke="#000" stroke-width="1.5"/>
<text x="38.6" y="513.1" font-size="13" textLength="32.4" lengthAdjust="spacingAndGlyphs" stroke="#000" stroke-width="0.56">CD40</text>
<text font-size="11" textLength="62.5" lengthAdjust="spacingAndGlyphs" stroke="#000" stroke-width="0.63" transform="translate(9.8,582.5) rotate(-90)">Relative MFI</text>
<text x="40.3" y="527.5" font-size="13" textLength="21.5" lengthAdjust="spacingAndGlyphs" stroke="#000" stroke-width="0.49">cDC</text>
<text x="98.6" y="527.5" font-size="13" textLength="22.6" lengthAdjust="spacingAndGlyphs" stroke="#000" stroke-width="0.49">pDC</text>
<text x="153.6" y="527.5" font-size="13" textLength="27.8" lengthAdjust="spacingAndGlyphs" stroke="#000" stroke-width="0.49">B cell</text>
<line x1="42" y1="593.7" x2="55.2" y2="593.7" stroke="#333" stroke-width="1.2"/>
<line x1="60" y1="577.2" x2="73.7" y2="577.2" stroke="#000" stroke-width="1.2"/>
<line x1="79.6" y1="572.8" x2="88.9" y2="572.8" stroke="#000" stroke-width="1.2"/>
<circle cx="45.9" cy="583.1" r="3.2" fill="none" stroke="#000" stroke-width="1.6"/>
<circle cx="43.3" cy="587.8" r="3.2" fill="none" stroke="#000" stroke-width="1.6"/>
<circle cx="53.8" cy="587.1" r="3.2" fill="none" stroke="#000" stroke-width="1.6"/>
<circle cx="43.2" cy="598.9" r="3.2" fill="none" stroke="#000" stroke-width="1.6"/>
<circle cx="46.5" cy="598.7" r="3.2" fill="none" stroke="#000" stroke-width="1.6"/>
<circle cx="49.9" cy="599" r="3.2" fill="none" stroke="#000" stroke-width="1.6"/>
<circle cx="53.2" cy="598.8" r="3.2" fill="none" stroke="#000" stroke-width="1.6"/>
<circle cx="55.6" cy="598.9" r="3.2" fill="none" stroke="#000" stroke-width="1.6"/>
<circle cx="67.5" cy="565.7" r="3.6"/>
<circle cx="57.1" cy="571.3" r="3.6"/>
<circle cx="67.5" cy="571.9" r="3.6"/>
<circle cx="63.8" cy="577.9" r="3.6"/>
<circle cx="57.1" cy="581.8" r="3.6"/>
<circle cx="67.5" cy="583.1" r="3.6"/>
<circle cx="61.8" cy="585.8" r="3.6"/>
<path d="M82.50,531.10h7.0l-3.50,6.4z"/>
<path d="M72.10,564.70h7.0l-3.50,6.4z"/>
<path d="M87.30,571.00h7.0l-3.50,6.4z"/>
<path d="M72.10,577.30h7.0l-3.50,6.4z"/>
<path d="M79.40,576.60h7.0l-3.50,6.4z"/>
<path d="M82.10,581.30h7.0l-3.50,6.4z"/>
<path d="M76.80,583.30h7.0l-3.50,6.4z"/>
<line x1="43.3" y1="560.7" x2="63.8" y2="560.7" stroke="#000" stroke-width="1.4"/>
<text x="54" y="560.7" font-size="8.4" font-weight="bold" text-anchor="middle" textLength="13.2" lengthAdjust="spacingAndGlyphs" fill="#111" stroke="#111" stroke-width="0.7">***</text>
<line x1="116.8" y1="568.6" x2="130.7" y2="568.6" stroke="#000" stroke-width="1.2"/>
<line x1="136.6" y1="561" x2="149.8" y2="561" stroke="#000" stroke-width="1.2"/>
<circle cx="99.6" cy="577.2" r="3.2" fill="none" stroke="#000" stroke-width="1.6"/>
<circle cx="103.6" cy="583.1" r="3.2" fill="none" stroke="#000" stroke-width="1.6"/>
<circle cx="109.5" cy="581.8" r="3.2" fill="none" stroke="#000" stroke-width="1.6"/>
<circle cx="98.9" cy="589.1" r="3.2" fill="none" stroke="#000" stroke-width="1.6"/>
<circle cx="102.9" cy="588.4" r="3.2" fill="none" stroke="#000" stroke-width="1.6"/>
<circle cx="106.9" cy="587.8" r="3.2" fill="none" stroke="#000" stroke-width="1.6"/>
<circle cx="110.8" cy="590.4" r="3.2" fill="none" stroke="#000" stroke-width="1.6"/>
<circle cx="100.9" cy="591.1" r="3.2" fill="none" stroke="#000" stroke-width="1.6"/>
<circle cx="104.9" cy="592.4" r="3.2" fill="none" stroke="#000" stroke-width="1.6"/>
<circle cx="108.9" cy="591.7" r="3.2" fill="none" stroke="#000" stroke-width="1.6"/>
<circle cx="123.4" cy="551.2" r="3.6"/>
<circle cx="118.1" cy="558.7" r="3.6"/>
<circle cx="128.7" cy="556.5" r="3.6"/>
<circle cx="123.4" cy="566" r="3.6"/>
<circle cx="118.1" cy="579.4" r="3.6"/>
<circle cx="128.7" cy="579.4" r="3.6"/>
<circle cx="123.4" cy="589.4" r="3.6"/>
<path d="M132.50,551.50h7.0l-3.50,6.4z"/>
<path d="M137.10,551.50h7.0l-3.50,6.4z"/>
<path d="M144.30,552.20h7.0l-3.50,6.4z"/>
<path d="M133.10,561.40h7.0l-3.50,6.4z"/>
<path d="M139.10,570.70h7.0l-3.50,6.4z"/>
<path d="M144.30,568.10h7.0l-3.50,6.4z"/>
<line x1="103.8" y1="544.8" x2="124.7" y2="544.8" stroke="#000" stroke-width="1.4"/>
<text x="114.4" y="544.9" font-size="8.4" font-weight="bold" text-anchor="middle" textLength="8.8" lengthAdjust="spacingAndGlyphs" fill="#111" stroke="#111" stroke-width="0.7">**</text>
<line x1="172.1" y1="559.1" x2="185.7" y2="559.1" stroke="#000" stroke-width="1.2"/>
<line x1="191" y1="574.8" x2="203.8" y2="574.8" stroke="#000" stroke-width="1.2"/>
<circle cx="157.6" cy="583.8" r="3.2" fill="none" stroke="#000" stroke-width="1.6"/>
<circle cx="154.9" cy="586.5" r="3.2" fill="none" stroke="#000" stroke-width="1.6"/>
<circle cx="165.5" cy="586.5" r="3.2" fill="none" stroke="#000" stroke-width="1.6"/>
<circle cx="154.9" cy="595" r="3.2" fill="none" stroke="#000" stroke-width="1.6"/>
<circle cx="158.9" cy="593.7" r="3.2" fill="none" stroke="#000" stroke-width="1.6"/>
<circle cx="163.5" cy="595" r="3.2" fill="none" stroke="#000" stroke-width="1.6"/>
<circle cx="166.2" cy="596.4" r="3.2" fill="none" stroke="#000" stroke-width="1.6"/>
<circle cx="156.9" cy="597" r="3.2" fill="none" stroke="#000" stroke-width="1.6"/>
<circle cx="160.9" cy="597.7" r="3.2" fill="none" stroke="#000" stroke-width="1.6"/>
<circle cx="173.8" cy="529.6" r="3.6"/>
<circle cx="184" cy="531.3" r="3.6"/>
<circle cx="178.7" cy="537.8" r="3.6"/>
<circle cx="178.7" cy="554.3" r="3.6"/>
<circle cx="173.8" cy="582.8" r="3.6"/>
<circle cx="184" cy="584.7" r="3.6"/>
<circle cx="178.7" cy="591.1" r="3.6"/>
<path d="M189.10,560.10h7.0l-3.50,6.4z"/>
<path d="M194.40,560.10h7.0l-3.50,6.4z"/>
<path d="M183.80,566.70h7.0l-3.50,6.4z"/>
<path d="M193.70,566.10h7.0l-3.50,6.4z"/>
<path d="M193.70,573.30h7.0l-3.50,6.4z"/>
<path d="M189.10,587.20h7.0l-3.50,6.4z"/>
<path d="M193.70,586.30h7.0l-3.50,6.4z"/>
<line x1="158.5" y1="546.1" x2="179.7" y2="546.1" stroke="#000" stroke-width="1.4"/>
<text x="169.5" y="546.2" font-size="8.4" font-weight="bold" text-anchor="middle" textLength="8.8" lengthAdjust="spacingAndGlyphs" fill="#111" stroke="#111" stroke-width="0.7">**</text>
<circle cx="213.7" cy="522.5" r="2.95" fill="none" stroke="#000" stroke-width="1.75"/>
<circle cx="213.7" cy="538" r="4.15"/>
<path d="M210.20,549.70h7.0l-3.50,6.6z"/>
<text x="223" y="526.3" font-size="12.7" textLength="57" lengthAdjust="spacingAndGlyphs" stroke="#000" stroke-width="0.63">Uninjected</text>
<text x="223" y="542" font-size="12.7" textLength="24" lengthAdjust="spacingAndGlyphs" stroke="#000" stroke-width="0.63">Host</text>
<text x="223" y="557" font-size="12.7" textLength="33.2" lengthAdjust="spacingAndGlyphs" stroke="#000" stroke-width="0.63">Donor</text>
</g>
</svg>
</body></html>
